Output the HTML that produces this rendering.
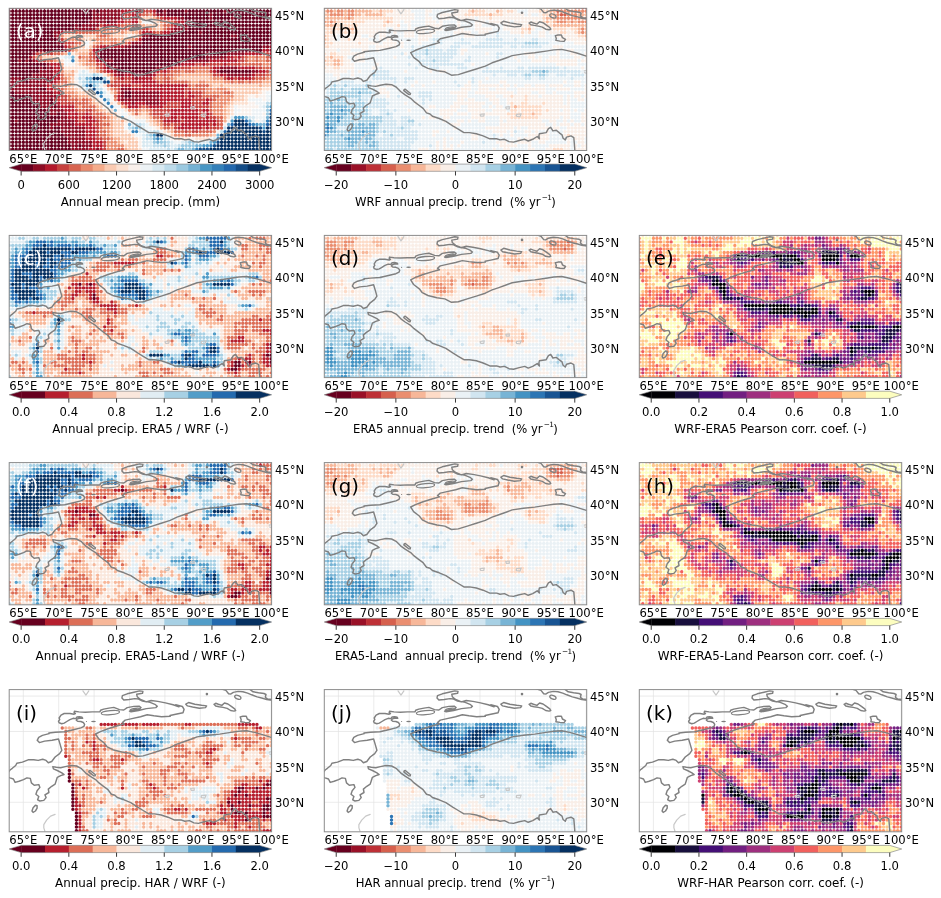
<!DOCTYPE html>
<html><head><meta charset="utf-8"><title>Precipitation comparison</title>
<style>html,body{margin:0;padding:0;background:#fff}svg{display:block;will-change:transform}text{font-family:"DejaVu Sans","Liberation Sans",sans-serif;font-size:11.6px;fill:#000}.pl{font-size:19.8px}.cl{font-size:11.9px}.cm{font-size:11.6px}.sup{font-size:7.3px;letter-spacing:-0.6px}.d{fill:none;stroke-linecap:round;stroke-dasharray:.02 .98;stroke-dashoffset:.01;stroke-width:0.9605}</style></head><body>
<svg width="941" height="898" viewBox="0 0 941 898">
<defs>
<clipPath id="cp"><rect x="0" y="0" width="262.4" height="142.2"/></clipPath>
<g id="ol" fill="none" stroke-linejoin="round" stroke-linecap="round"><path d="M45.9 124.8L41.4 126.5L37.4 130.5L34.6 135.0L34.6 138.3L35.7 141.7M73.7 1.3L76.7 5.5L79.6 1.3M155.8 106.1L160.0 105.5L159.4 107.9L156.4 107.9L155.8 106.1M181.4 98.9L185.0 98.4L185.0 100.7L182.0 100.7L181.4 98.9M192.1 106.1L196.9 105.5L195.7 108.5L192.1 107.9L192.1 106.1M260.0 62.6L262.4 62.0L262.4 65.0L260.3 64.4" stroke="#c8c8c8" stroke-width="1.2"/><path d="M-0.9 82.6L-0.3 82.1L0.8 80.4L3.1 78.7L6.5 75.9L7.6 73.6L13.2 72.5L18.9 70.2L24.5 70.2L29.0 70.8L33.5 69.7L36.9 70.8L39.1 73.1L42.5 71.9L45.9 67.4L50.4 64.0L52.6 60.7L51.0 55.0L49.3 49.4L42.9 50.7L35.4 51.5L30.2 53.0L28.0 50.7L29.5 47.8L33.2 45.8L39.9 44.0L39.7 43.4L46.1 42.7L55.6 42.1L65.2 39.9L71.6 38.3L74.8 36.7L75.4 34.8L74.1 32.9L71.6 31.9L68.4 31.6L67.1 30.6L68.1 29.3L70.3 28.7L73.5 28.7L72.9 27.7L70.3 27.1L67.8 27.4L66.5 29.0L63.9 28.7L60.7 30.0L57.6 31.9L55.0 33.5L52.5 34.1L49.9 33.2L49.3 31.6L50.5 30.0L49.9 28.4L51.8 25.5L55.0 23.9L60.7 23.9L64.9 24.6L66.2 23.9L64.9 23.0L65.2 21.7L69.7 22.3L76.1 22.6L83.1 22.3L90.7 22.3L91.4 20.7L94.5 19.5L99.7 18.5L104.6 17.8L110.3 20.0L114.6 20.4L118.0 18.0L124.7 16.8L129.9 16.6L131.8 18.0L130.4 19.5L125.6 20.2L120.3 21.6L121.8 22.2L129.4 20.9L137.1 19.0L146.6 18.0L148.1 16.6L145.7 14.7L140.9 12.8L136.1 11.8L131.3 9.9L128.0 7.1L127.5 4.7L133.3 3.7L133.7 1.8L130.4 1.3L124.7 2.7L118.0 4.2L113.2 6.1L112.7 8.5L114.6 10.4L119.9 9.9L125.6 9.0L129.4 9.4L133.3 11.4L137.1 12.3L141.9 10.9L148.6 11.8L156.2 13.3L163.9 15.2L169.7 17.1L166.5 15.2L173.2 16.9L174.9 19.7L173.8 23.1L166.5 24.7L160.8 25.9L161.0 26.7L152.4 27.1L144.7 26.2L138.0 25.2L131.3 27.1L122.7 29.0L116.0 30.5L113.2 32.9L115.1 34.3L108.4 36.2L98.8 39.1L91.2 42.0L86.4 44.4L89.3 49.1L95.0 53.4L98.0 57.3L103.6 60.1L112.6 62.4L120.5 63.5L127.2 66.9L134.0 66.3L143.0 63.5L152.0 60.7L161.0 57.8L167.8 54.5L174.6 52.2L182.4 49.4L187.9 47.3L199.1 45.6L210.4 44.5L221.7 42.8L229.5 41.6L237.4 41.1L245.3 42.8L253.2 45.0L262.0 47.8L265.6 49.0M-0.9 87.7L0.8 88.3L4.2 89.4L5.9 92.8L9.8 91.6L14.3 90.0L17.7 88.3L21.1 88.8L22.2 93.3L25.0 95.6L29.6 95.0L30.7 97.8L27.9 101.2L26.7 104.6L29.6 106.9L28.4 110.2L30.7 111.4L34.6 110.8L36.9 108.0L35.7 105.2L39.7 102.9L39.1 99.5L42.5 96.7L45.9 94.5L47.0 91.1L48.1 87.7L51.5 86.0L54.9 84.9L52.6 83.2L48.1 80.9L44.2 79.3L43.6 77.0L47.0 77.6L51.5 78.1L56.0 77.0L61.7 75.9L67.3 76.4L71.8 78.7L76.3 83.2L80.8 86.6L86.4 90.0L89.8 93.3L94.3 96.7L98.8 100.1L102.2 104.6L105.7 105.7L108.1 107.9L114.9 110.2L121.6 113.0L128.4 117.5L134.0 120.9L139.6 124.3L145.3 124.3L152.0 125.4L158.8 127.6L165.5 130.5L172.3 130.5L175.7 131.6L180.2 131.0L184.7 133.3L189.2 133.8L194.9 132.2L200.5 131.0L203.9 132.7L208.4 131.0L212.9 128.2L215.1 130.5L214.6 127.6L215.1 125.4L221.9 124.3L224.1 120.3L226.4 119.0L228.6 122.6L232.0 122.0L235.4 124.8L237.7 126.5L238.8 129.9L241.0 131.6L242.2 128.8L246.7 127.6L249.5 129.3L250.0 135.0L250.6 142.9M176.6 14.6L179.4 12.9L185.6 14.6L192.4 15.7L197.4 16.3L196.3 18.0L190.1 18.6L183.4 17.4L178.3 16.3ZM204.8 14.7L206.5 13.7L209.2 14.7L212.6 15.8L215.3 13.4L218.7 14.4L222.1 16.8L225.5 19.2L226.5 20.9L224.8 21.5L221.4 20.9L218.0 18.8L213.9 17.8L209.9 17.1L206.5 16.4ZM231.0 27.3L233.7 26.7L237.1 26.7L238.1 29.4L241.2 31.1L239.8 33.1L235.7 32.8L231.6 32.1L232.0 30.1ZM22.8 121.4L23.9 118.1L26.2 115.6L27.9 116.0L27.9 118.6L26.2 121.4L23.9 122.8ZM211.9 -0.9L216.7 0.8L219.4 4.2L221.4 4.5L224.1 2.8L228.9 1.8L233.7 2.2L238.4 3.5L242.5 5.2L248.0 7.3L253.4 8.6L257.5 10.0L262.9 10.7M239.8 -0.9L243.9 2.2L249.3 3.2L254.8 3.9L256.8 4.9L256.1 7.6L258.2 9.3L262.9 9.8M79.9 81.3L81.0 80.9L86.2 85.2L85.8 86.3L84.4 86.1L79.5 82.3L79.9 81.3" stroke="#808080" stroke-width="1.45"/><ellipse cx="101.2" cy="23.1" rx="9.1" ry="2.0" transform="rotate(-5 101.2 23.1)" stroke="#808080" stroke-width="1.3"/><ellipse cx="228.6" cy="7.6" rx="3.3" ry="1.8" transform="rotate(22 228.6 7.6)" stroke="#808080" stroke-width="1.3"/><ellipse cx="125.6" cy="19.7" rx="4.5" ry="0.8" transform="rotate(-10 125.6 19.7)" stroke="#808080" stroke-width="1.3"/><ellipse cx="84.3" cy="31.9" rx="2.4" ry="0.7" fill="#7d7d7d"/><circle cx="197.7" cy="4.5" r="1.3" fill="#7d7d7d"/><circle cx="77.3" cy="31.9" r="0.6" fill="#7d7d7d"/></g>
</defs>
<rect width="941" height="898" fill="#fff"/>
<g transform="translate(9.2,8.3)">
<path d="M14.10 0V142.2M49.50 0V142.2M84.90 0V142.2M120.30 0V142.2M155.70 0V142.2M191.10 0V142.2M226.50 0V142.2M261.90 0V142.2M0 112.68H262.4M0 77.28H262.4M0 41.88H262.4M0 6.48H262.4" stroke="#e2e2e2" stroke-width="0.7" fill="none"/>
<g clip-path="url(#cp)">
<g class="d" transform="translate(-0.06,141.00) scale(3.540,-3.540)">
<path stroke="#67001f" d="M2 1h.1M7 1h1M2 2h1M7 2h1M1 3h.1M3 3h.1M8 3h.1M4 6h.1M4 7h.1M6 11h.1M5 12h1M5 13h1M5 14h.1M4 21h.1M3 22h2M63 22h.1M66 22h.1M4 23h.1M43 24h.1M42 25h.1M43 26h1M43 27h1M5 28h.1M13 28h1M29 28h1M35 28h1M38 28h1M43 28h.1M67 28h1M38 29h1M53 29h1M66 29h1M53 30h1M3 31h.1M52 31h.1M72 31h1M52 32h.1M59 32h1M6 33h.1M57 33h.1M55 34h1M55 35h1M17 36h1M60 36h.1M70 36h.1M16 37h2M69 37h.1M4 38h.1M9 38h.1M11 38h.1M17 38h1M9 39h.1M11 39h.1M18 39h.1M18 40h1M47 40h1M67 40h.1M72 40h.1"/>
<path stroke="#67001f" d="M0 0h17M0 1h1M3 1h3M9 1h8M20 1h.1M0 2h1M4 2h2M9 2h7M0 3h.1M2 3h.1M4 3h3M9 3h7M0 4h15M0 5h14M0 6h3M5 6h6M13 6h1M0 7h3M5 7h6M0 8h1M3 8h10M0 9h14M0 10h11M14 10h.1M0 11h5M7 11h3M0 12h4M7 12h1M13 12h.1M0 13h4M7 13h.1M12 13h.1M0 14h4M6 14h.1M12 14h.1M0 15h6M33 15h1M0 16h1M33 16h1M0 17h.1M9 17h1M0 18h.1M5 19h.1M0 20h.1M4 20h1M0 21h3M5 21h1M36 21h.1M0 22h2M6 22h2M31 22h9M60 22h2M64 22h1M67 22h1M0 23h3M5 23h3M10 23h.1M31 23h10M0 24h10M28 24h14M44 24h3M0 25h2M4 25h.1M6 25h.1M30 25h11M43 25h4M0 26h5M26 26h16M45 26h10M0 27h6M26 27h16M45 27h10M57 27h4M0 28h4M6 28h2M10 28h2M15 28h.1M26 28h2M31 28h3M37 28h.1M40 28h2M44 28h22M69 28h2M0 29h15M35 29h2M40 29h10M52 29h.1M55 29h10M68 29h3M0 30h13M38 30h14M55 30h19M0 31h2M4 31h9M38 31h13M53 31h18M74 31h.1M0 32h12M40 32h11M53 32h5M61 32h1M65 32h9M0 33h5M7 33h5M48 33h5M55 33h1M58 33h16M0 34h18M51 34h3M57 34h17M0 35h18M20 35h.1M51 35h3M57 35h17M0 36h16M19 36h3M28 36h.1M52 36h7M61 36h8M71 36h3M0 37h15M19 37h4M50 37h6M58 37h4M64 37h4M70 37h4M0 38h3M5 38h3M10 38h.1M12 38h4M19 38h4M45 38h11M58 38h16M0 39h8M10 39h.1M12 39h5M19 39h4M25 39h.1M42 39h1M45 39h4M51 39h9M62 39h12M0 40h17M20 40h2M24 40h1M41 40h5M49 40h17M68 40h3M73 40h1"/>
<path stroke="#8d0c25" d="M18 0h4M25 0h.1M18 1h1M21 1h2M17 2h6M17 3h4M16 4h5M15 5h6M12 6h.1M15 6h6M12 7h6M2 8h.1M14 8h4M15 9h1M12 10h1M15 10h1M11 11h4M9 12h3M14 12h.1M8 13h3M13 13h.1M35 13h.1M39 13h3M7 14h4M32 14h10M7 15h6M32 15h.1M35 15h7M2 16h10M32 16h.1M35 16h7M1 17h7M32 17h2M1 18h9M0 19h4M6 19h6M1 20h2M6 20h6M36 20h.1M7 21h5M31 21h1M35 21h.1M37 21h3M62 21h6M9 22h3M30 22h.1M41 22h.1M59 22h.1M69 22h1M9 23h.1M11 23h1M28 23h2M42 23h2M60 23h4M11 24h.1M48 24h.1M3 25h.1M5 25h.1M7 25h.1M26 25h3M48 25h8M6 26h.1M25 26h.1M56 26h5M7 27h.1M56 27h.1M62 27h4M9 28h.1M16 28h.1M25 28h.1M74 28h.1M33 29h1M51 29h.1M72 29h2M14 30h1M35 30h2M14 31h.1M13 32h.1M38 32h1M63 32h1M13 33h1M46 33h1M54 33h.1M19 34h5M47 34h3M19 35h.1M21 35h4M48 35h2M23 36h4M29 36h1M50 36h1M24 37h7M48 37h1M57 37h.1M63 37h.1M24 38h7M42 38h2M57 38h.1M24 39h.1M26 39h5M36 39h.1M44 39h.1M50 39h.1M61 39h.1M23 40h.1M26 40h10M40 40h.1"/>
<path stroke="#b3192c" d="M23 0h1M26 0h.1M24 1h2M24 2h2M22 3h2M22 4h2M22 5h2M22 6h2M48 6h6M56 6h.1M19 7h4M49 7h7M58 7h.1M19 8h.1M22 8h2M44 8h4M50 8h8M17 9h2M21 9h2M46 9h1M49 9h4M56 9h.1M17 10h2M22 10h.1M46 10h7M56 10h.1M16 11h2M46 11h7M55 11h1M15 12h3M34 12h2M40 12h3M49 12h3M14 13h.1M33 13h1M36 13h2M43 13h1M49 13h2M55 13h1M13 14h.1M31 14h.1M43 14h8M56 14h.1M14 15h.1M31 15h.1M43 15h6M51 15h1M13 16h1M43 16h6M51 16h.1M11 17h1M35 17h14M11 18h.1M32 18h2M38 18h12M13 19h.1M35 19h6M13 20h1M32 20h.1M35 20h.1M37 20h3M62 20h1M65 20h3M13 21h1M30 21h.1M33 21h1M41 21h.1M60 21h1M69 21h.1M13 22h1M28 22h1M42 22h.1M44 22h.1M58 22h.1M71 22h1M13 23h1M27 23h.1M45 23h1M58 23h1M65 23h4M12 24h2M27 24h.1M49 24h3M55 24h.1M61 24h.1M8 25h.1M25 25h.1M57 25h7M62 26h1M65 26h.1M74 26h.1M25 27h.1M67 27h4M74 27h.1M24 28h.1M72 28h1M16 29h.1M26 29h6M37 31h.1M14 32h.1M15 33h.1M38 33h2M44 33h1M46 34h.1M27 35h3M47 35h.1M31 36h1M35 36h1M48 36h1M32 37h.1M35 37h1M44 37h3M32 38h.1M35 38h1M32 39h3M37 39h.1M41 39h.1M37 40h2"/>
<path stroke="#c6413e" d="M27 0h.1M27 1h.1M27 2h.1M25 3h1M25 4h.1M25 5h.1M50 5h.1M52 5h1M25 6h.1M47 6h.1M55 6h.1M57 6h2M24 7h1M44 7h1M47 7h1M57 7h.1M59 7h.1M20 8h1M25 8h.1M49 8h.1M59 8h.1M20 9h.1M24 9h.1M43 9h2M48 9h.1M54 9h1M57 9h1M20 10h1M23 10h.1M41 10h4M54 10h1M57 10h.1M19 11h.1M22 11h1M41 11h4M54 11h.1M37 12h.1M39 12h.1M44 12h4M53 12h3M15 13h3M32 13h.1M45 13h3M52 13h2M14 14h2M52 14h3M57 14h.1M15 15h1M50 15h.1M53 15h1M15 16h.1M31 16h.1M50 16h.1M52 16h2M13 17h1M31 17h.1M50 17h1M12 18h1M29 18h2M35 18h2M14 19h.1M30 19h4M42 19h.1M44 19h1M31 20h.1M33 20h1M61 20h.1M64 20h.1M69 20h.1M44 21h.1M58 21h1M70 21h2M27 22h.1M43 22h.1M45 22h.1M57 22h.1M73 22h1M26 23h.1M47 23h4M57 23h.1M70 23h1M74 23h.1M25 24h1M53 24h1M56 24h4M62 24h3M9 25h1M65 25h1M7 26h.1M24 26h.1M64 26h.1M66 26h.1M8 27h1M11 27h1M24 27h.1M72 27h1M17 28h.1M17 29h.1M25 29h.1M16 30h2M34 30h.1M15 31h.1M41 33h.1M43 33h.1M25 34h.1M38 34h1M45 34h.1M26 35h.1M31 35h.1M35 35h1M46 35h.1M33 36h1M47 36h.1M33 37h1M43 37h.1M33 38h1M37 38h.1M41 38h.1M38 39h2"/>
<path stroke="#d86551" d="M31 0h1M27 3h1M26 4h1M50 4h1M26 5h1M47 5h2M51 5h.1M54 5h3M26 6h.1M44 6h1M60 6h.1M26 7h2M46 7h.1M60 7h.1M26 8h.1M43 8h.1M60 8h.1M25 9h2M41 9h1M59 9h1M24 10h2M36 10h.1M40 10h.1M20 11h1M24 11h.1M36 11h.1M40 11h.1M57 11h.1M19 12h.1M21 12h3M33 12h.1M38 12h.1M57 12h.1M19 13h3M57 13h.1M17 14h2M21 14h1M58 14h.1M17 15h.1M30 15h.1M55 15h4M55 16h.1M61 16h1M15 17h.1M30 17h.1M52 17h3M14 18h.1M16 18h.1M28 18h.1M51 18h.1M53 18h3M15 19h1M29 19h.1M43 19h.1M46 19h4M63 19h.1M65 19h1M68 19h.1M15 20h.1M30 20h.1M41 20h.1M44 20h1M70 20h2M15 21h.1M29 21h.1M42 21h1M45 21h1M73 21h1M26 22h.1M46 22h2M50 22h2M25 23h.1M52 23h4M72 23h1M66 24h5M74 24h.1M11 25h1M23 25h1M67 25h.1M70 25h.1M73 25h1M20 26h.1M23 26h.1M67 26h.1M70 26h.1M73 26h.1M10 27h.1M13 27h1M23 27h.1M18 29h.1M24 29h.1M19 30h1M26 30h.1M29 30h1M33 30h.1M36 31h.1M26 32h1M37 32h.1M16 33h9M37 33h.1M42 33h.1M27 34h10M44 34h.1M32 35h2M44 35h1M44 36h2M37 37h.1M42 37h.1M38 38h1"/>
<path stroke="#e98b6e" d="M28 0h2M28 1h4M28 2h2M29 3h.1M28 4h.1M47 4h2M52 4h4M28 5h.1M58 5h.1M27 6h1M46 6h.1M43 7h.1M27 8h1M42 8h.1M28 9h.1M27 10h.1M58 10h2M25 11h.1M34 11h1M37 11h.1M39 11h.1M58 11h2M20 12h.1M58 12h2M23 13h.1M58 13h3M20 14h.1M23 14h.1M30 14h.1M59 14h3M18 15h1M60 15h3M16 16h2M30 16h.1M56 16h4M63 16h.1M16 17h.1M29 17h.1M56 17h1M59 17h2M15 18h.1M52 18h.1M51 19h.1M54 19h1M61 19h1M64 19h.1M67 19h.1M69 19h2M16 20h.1M42 20h1M46 20h.1M58 20h2M73 20h1M47 21h1M57 21h.1M15 22h.1M49 22h.1M53 22h3M15 23h.1M22 24h2M72 24h1M13 25h.1M22 25h.1M68 25h1M71 25h1M8 26h1M21 26h1M68 26h1M71 26h1M15 27h.1M18 28h.1M23 28h.1M19 29h.1M25 30h.1M27 30h1M31 30h1M16 31h4M25 31h5M35 31h.1M15 32h.1M25 32h.1M28 32h.1M26 33h3M32 33h.1M26 34h.1M40 34h.1M37 35h.1M43 36h.1M40 38h.1"/>
<path stroke="#f5ac8b" d="M33 0h.1M31 2h.1M30 3h1M29 4h.1M57 4h.1M29 5h.1M46 5h.1M29 6h.1M43 6h.1M29 7h.1M42 7h.1M29 8h.1M32 8h.1M41 8h.1M61 8h.1M29 9h.1M40 9h.1M61 9h.1M28 10h1M35 10h.1M37 10h.1M39 10h.1M61 10h.1M26 11h.1M38 11h.1M61 11h.1M25 12h.1M32 12h.1M61 12h.1M24 13h.1M31 13h.1M62 13h.1M63 14h.1M20 15h2M19 16h.1M17 17h1M58 17h.1M62 17h.1M17 18h.1M57 18h.1M60 18h.1M71 18h.1M17 19h.1M52 19h1M56 19h4M72 19h2M17 20h.1M29 20h.1M47 20h.1M57 20h.1M16 21h2M28 21h.1M49 21h7M18 22h.1M25 22h.1M23 23h1M15 24h.1M21 24h.1M14 25h.1M20 25h1M16 27h.1M20 27h2M19 28h.1M20 29h.1M24 30h.1M24 31h.1M31 31h3M29 32h.1M30 33h1M33 33h.1M35 33h1M41 34h.1M43 34h.1M38 35h.1M43 35h.1M37 36h.1M41 37h.1"/>
<path stroke="#facab1" d="M34 0h2M33 1h3M32 2h.1M34 2h2M32 3h3M48 3h.1M30 4h4M46 4h.1M58 4h.1M30 5h2M45 5h.1M30 6h2M30 7h2M41 7h.1M30 8h1M40 8h.1M30 9h.1M39 9h.1M30 10h.1M38 10h.1M62 10h.1M27 11h.1M62 11h.1M26 12h.1M62 12h.1M25 13h.1M63 13h.1M24 14h.1M64 14h2M23 15h.1M64 15h2M20 16h2M29 16h.1M64 16h6M19 17h.1M28 17h.1M63 17h8M18 18h.1M58 18h1M61 18h9M72 18h2M18 19h.1M18 20h.1M48 20h8M16 22h1M24 22h.1M22 23h.1M20 24h.1M10 26h2M19 27h.1M20 28h2M21 29h.1M23 29h.1M21 30h.1M21 31h.1M23 31h.1M16 32h8M30 32h2M36 32h.1M34 33h.1M42 34h.1M39 35h3M42 36h.1M38 37h2"/>
<path stroke="#fce0d0" d="M37 0h.1M33 2h.1M36 3h.1M47 3h.1M49 3h1M53 3h3M35 4h.1M33 5h.1M44 5h.1M42 6h.1M40 7h.1M33 8h.1M39 8h.1M31 9h.1M36 9h2M62 9h.1M34 10h.1M63 10h.1M28 11h1M33 11h.1M63 11h.1M63 12h.1M26 13h.1M29 13h.1M64 13h3M25 14h.1M67 14h.1M24 15h.1M67 15h.1M70 15h.1M71 16h.1M20 17h.1M72 17h2M27 18h.1M27 21h.1M19 22h.1M23 22h.1M16 23h5M19 24h.1M15 25h.1M19 25h.1M13 26h.1M19 26h.1M18 27h.1M23 30h.1M22 31h.1M33 32h.1M35 32h.1M41 36h.1"/>
<path stroke="#f9f0eb" d="M37 1h.1M37 2h.1M37 3h.1M46 3h.1M51 3h1M45 4h.1M34 5h.1M59 5h.1M41 6h.1M33 7h.1M61 7h.1M62 8h.1M70 8h.1M33 9h.1M35 9h.1M31 10h.1M65 10h3M72 10h.1M31 11h.1M66 11h2M27 12h.1M65 12h5M30 13h.1M68 13h1M26 14h.1M29 14h.1M72 14h.1M29 15h.1M68 15h1M71 15h1M23 16h.1M28 16h.1M72 16h.1M19 18h.1M19 19h.1M28 20h.1M19 21h.1M17 24h1M14 26h.1M22 29h.1"/>
<path stroke="#edf2f5" d="M38 0h1M47 2h1M57 3h.1M36 4h1M43 5h.1M33 6h.1M39 6h1M39 7h.1M34 8h4M71 8h.1M34 9h.1M70 9h2M32 10h1M64 10h.1M69 10h2M32 11h.1M64 11h1M69 11h3M28 12h.1M30 12h1M64 12h.1M71 12h.1M27 13h.1M70 13h2M68 14h3M73 14h.1M25 15h.1M27 15h1M73 15h.1M24 16h.1M73 16h1M21 17h.1M27 17h.1M20 18h.1M26 18h.1M19 20h.1M20 22h.1M22 22h.1M16 24h.1M16 25h1M15 26h.1M22 30h.1M34 32h.1M38 36h2"/>
<path stroke="#d8e9f1" d="M40 0h4M46 0h.1M38 1h2M46 1h1M38 2h2M46 2h.1M49 2h.1M54 2h2M38 3h.1M45 3h.1M58 3h.1M38 4h.1M37 5h3M38 6h.1M35 7h.1M38 7h.1M69 8h.1M72 8h.1M63 9h.1M68 9h1M72 12h.1M74 14h.1M74 15h.1M27 16h.1M20 19h.1M21 20h.1M20 21h3M26 21h.1M21 22h.1M16 26h1"/>
<path stroke="#bddbea" d="M45 0h.1M47 0h.1M41 1h2M45 1h.1M48 1h.1M45 2h.1M50 2h.1M53 2h.1M39 3h1M44 3h.1M39 4h.1M44 4h.1M41 5h1M60 5h.1M34 6h.1M61 6h.1M36 7h1M73 13h.1M28 14h.1M22 17h1M25 17h1M21 18h.1M25 18h.1M21 19h.1M20 20h.1M25 21h.1"/>
<path stroke="#9bc9e0" d="M50 0h1M44 1h.1M49 1h3M41 2h.1M43 2h1M51 2h1M40 4h.1M35 6h.1M37 6h.1M67 9h.1M73 10h.1M73 11h.1M73 12h.1M74 13h.1M22 19h.1M25 19h1M27 20h.1M24 21h.1"/>
<path stroke="#75b2d4" d="M48 0h1M52 0h.1M53 1h1M42 2h.1M57 2h.1M41 3h.1M43 3h.1M59 4h.1M36 6h.1M34 7h.1M62 7h.1M71 7h1M68 8h.1M32 9h.1M73 9h.1M30 11h.1M24 18h.1M23 19h1M22 20h1M18 26h.1M17 27h.1"/>
<path stroke="#4997c5" d="M55 1h1M58 2h.1M41 4h.1M72 6h.1M70 7h.1M63 8h.1M64 9h2M74 12h.1M26 16h.1"/>
<path stroke="#3480b9" d="M53 0h.1M57 1h.1M42 3h.1M59 3h.1M35 5h1M69 7h.1M73 8h.1M29 12h.1M28 13h.1M27 14h.1M26 15h.1M22 18h.1M18 25h.1"/>
<path stroke="#2267ac" d="M61 5h.1M63 7h.1M68 7h.1M73 7h.1M67 8h.1M74 11h.1"/>
<path stroke="#134c87" d="M54 0h2M58 1h.1M59 2h.1M72 5h.1M71 6h.1M74 10h.1M25 16h.1M24 17h.1M27 19h1"/>
<path stroke="#053061" d="M57 0h.1M59 1h.1M71 5h.1M73 6h.1M67 7h.1M74 9h.1"/>
<path stroke="#053061" d="M58 0h16M60 1h14M60 2h14M60 3h14M42 4h1M60 4h14M62 5h8M73 5h1M62 6h8M74 6h.1M64 7h2M74 7h.1M64 8h2M74 8h.1M23 18h.1M24 20h2"/>
</g>
<use href="#ol"/>
</g>
<rect x="0" y="0" width="262.4" height="142.2" fill="none" stroke="#8c8c8c" stroke-width="1"/>
<text class="pl" x="6.8" y="30.0" fill="#fff" style="fill:#fff">(a)</text>
<text x="265.7" y="117.7">30°N</text>
<text x="265.7" y="82.3">35°N</text>
<text x="265.7" y="46.9">40°N</text>
<text x="265.7" y="11.5">45°N</text>
<text x="14.1" y="154.6" text-anchor="middle">65°E</text>
<text x="49.5" y="154.6" text-anchor="middle">70°E</text>
<text x="84.9" y="154.6" text-anchor="middle">75°E</text>
<text x="120.3" y="154.6" text-anchor="middle">80°E</text>
<text x="155.7" y="154.6" text-anchor="middle">85°E</text>
<text x="191.1" y="154.6" text-anchor="middle">90°E</text>
<text x="226.5" y="154.6" text-anchor="middle">95°E</text>
<text x="261.9" y="154.6" text-anchor="middle">100°E</text>
<g>
<path d="M0 159.40L12.23 155.80V163.00Z" fill="#67001f"/>
<path d="M262.40 159.40L250.17 155.80V163.00Z" fill="#053061"/>
<rect x="11.93" y="155.80" width="12.23" height="7.20" fill="#67001f"/>
<rect x="23.85" y="155.80" width="12.23" height="7.20" fill="#8d0c25"/>
<rect x="35.78" y="155.80" width="12.23" height="7.20" fill="#b3192c"/>
<rect x="47.71" y="155.80" width="12.23" height="7.20" fill="#c6413e"/>
<rect x="59.64" y="155.80" width="12.23" height="7.20" fill="#d86551"/>
<rect x="71.56" y="155.80" width="12.23" height="7.20" fill="#e98b6e"/>
<rect x="83.49" y="155.80" width="12.23" height="7.20" fill="#f5ac8b"/>
<rect x="95.42" y="155.80" width="12.23" height="7.20" fill="#facab1"/>
<rect x="107.35" y="155.80" width="12.23" height="7.20" fill="#fce0d0"/>
<rect x="119.27" y="155.80" width="12.23" height="7.20" fill="#f9f0eb"/>
<rect x="131.20" y="155.80" width="12.23" height="7.20" fill="#edf2f5"/>
<rect x="143.13" y="155.80" width="12.23" height="7.20" fill="#d8e9f1"/>
<rect x="155.05" y="155.80" width="12.23" height="7.20" fill="#bddbea"/>
<rect x="166.98" y="155.80" width="12.23" height="7.20" fill="#9bc9e0"/>
<rect x="178.91" y="155.80" width="12.23" height="7.20" fill="#75b2d4"/>
<rect x="190.84" y="155.80" width="12.23" height="7.20" fill="#4997c5"/>
<rect x="202.76" y="155.80" width="12.23" height="7.20" fill="#3480b9"/>
<rect x="214.69" y="155.80" width="12.23" height="7.20" fill="#2267ac"/>
<rect x="226.62" y="155.80" width="12.23" height="7.20" fill="#134c87"/>
<rect x="238.55" y="155.80" width="12.23" height="7.20" fill="#053061"/>
<path d="M0 159.40L11.93 155.80H250.47L262.40 159.40L250.47 163.00H11.93Z" fill="none" stroke="#777" stroke-width="0.6"/>
<text x="11.93" y="180.60" text-anchor="middle">0</text>
<text x="59.64" y="180.60" text-anchor="middle">600</text>
<text x="107.35" y="180.60" text-anchor="middle">1200</text>
<text x="155.05" y="180.60" text-anchor="middle">1800</text>
<text x="202.76" y="180.60" text-anchor="middle">2400</text>
<text x="250.47" y="180.60" text-anchor="middle">3000</text>
<path d="M11.93 163.00v4.2M59.64 163.00v4.2M107.35 163.00v4.2M155.05 163.00v4.2M202.76 163.00v4.2M250.47 163.00v4.2" stroke="#222" stroke-width="0.9" fill="none"/>
<text class="cl" x="131.2" y="197.8" text-anchor="middle" xml:space="preserve">Annual mean precip. (mm)</text>
</g>
</g>
<g transform="translate(324.3,8.3)">
<path d="M14.10 0V142.2M49.50 0V142.2M84.90 0V142.2M120.30 0V142.2M155.70 0V142.2M191.10 0V142.2M226.50 0V142.2M261.90 0V142.2M0 112.68H262.4M0 77.28H262.4M0 41.88H262.4M0 6.48H262.4" stroke="#e2e2e2" stroke-width="0.7" fill="none"/>
<g clip-path="url(#cp)">
<g class="d" transform="translate(-0.06,141.00) scale(3.540,-3.540)">
<path stroke="#be3036" d="M73 40h1"/>
<path stroke="#d6604d" d="M67 38h1M66 39h.1M71 40h1"/>
<path stroke="#ea8e70" d="M73 33h.1M73 34h.1M0 36h.1M2 36h.1M66 36h2M70 36h.1M72 36h2M7 37h.1M66 37h6M2 38h3M7 38h1M66 38h.1M69 38h2M1 39h1M4 39h1M7 39h1M67 39h7M0 40h8M66 40h2"/>
<path stroke="#f7b799" d="M59 10h.1M54 12h.1M3 24h1M0 25h.1M3 25h1M2 26h.1M0 30h.1M0 31h.1M0 32h.1M74 32h.1M72 33h.1M74 33h.1M5 34h.1M7 34h1M58 34h.1M72 34h.1M74 34h.1M0 35h3M65 35h9M1 36h.1M3 36h.1M18 36h.1M63 36h.1M65 36h.1M69 36h.1M71 36h.1M0 37h6M8 37h.1M63 37h2M73 37h1M0 38h1M6 38h.1M9 38h1M12 38h4M47 38h.1M64 38h1M72 38h2M0 39h.1M3 39h.1M6 39h.1M9 39h4M16 39h.1M42 39h.1M49 39h.1M64 39h1M9 40h2M16 40h.1M42 40h2M50 40h.1M64 40h1M69 40h1"/>
<path stroke="#fddbc7" d="M65 0h2M69 4h.1M53 9h7M52 10h6M60 10h1M53 11h1M56 11h5M63 11h.1M53 12h.1M55 12h6M53 13h.1M56 13h1M62 13h.1M57 14h.1M53 15h.1M57 15h.1M0 23h.1M3 23h1M0 24h2M5 24h.1M1 25h1M5 25h.1M0 26h1M3 26h2M0 27h.1M2 27h1M0 29h1M1 30h1M10 30h.1M1 31h.1M7 31h.1M74 31h.1M1 32h.1M72 32h1M0 33h2M5 33h4M56 33h.1M58 33h.1M67 33h1M71 33h.1M0 34h4M6 34h.1M9 34h.1M56 34h1M65 34h3M70 34h1M4 35h5M17 35h.1M21 35h.1M58 35h.1M63 35h1M4 36h7M17 36h.1M19 36h.1M62 36h.1M64 36h.1M9 37h10M47 37h.1M62 37h.1M11 38h.1M17 38h.1M40 38h6M48 38h2M62 38h1M14 39h1M17 39h2M41 39h.1M43 39h2M50 39h.1M52 39h1M61 39h2M12 40h3M17 40h2M41 40h.1M45 40h4M51 40h.1M61 40h2"/>
<path stroke="#f9eee7" d="M27 0h2M32 0h.1M34 0h2M48 0h.1M51 0h1M58 0h1M63 0h1M68 0h1M71 0h3M32 1h.1M34 1h.1M36 1h.1M38 1h.1M50 1h4M58 1h.1M64 1h5M71 1h.1M73 1h1M32 2h.1M34 2h.1M39 2h.1M49 2h2M53 2h.1M55 2h3M61 2h1M69 2h.1M72 2h1M34 3h.1M36 3h.1M42 3h1M55 3h.1M57 3h6M69 3h.1M71 3h2M31 4h.1M42 4h1M50 4h.1M53 4h.1M58 4h5M68 4h.1M70 4h4M31 5h1M35 5h.1M48 5h3M53 5h.1M57 5h1M60 5h.1M63 5h.1M68 5h6M37 6h.1M46 6h7M55 6h.1M58 6h5M65 6h1M69 6h5M36 7h2M50 7h12M65 7h.1M67 7h2M71 7h1M74 7h.1M34 8h.1M38 8h1M41 8h.1M44 8h1M50 8h.1M52 8h9M64 8h1M68 8h.1M70 8h.1M73 8h1M28 9h.1M30 9h1M34 9h1M42 9h3M50 9h2M61 9h5M68 9h1M73 9h1M33 10h3M38 10h2M42 10h9M62 10h7M73 10h1M24 11h.1M29 11h.1M33 11h4M41 11h4M48 11h3M55 11h.1M62 11h.1M64 11h2M68 11h1M71 11h.1M74 11h.1M30 12h1M36 12h2M41 12h3M47 12h.1M49 12h1M62 12h7M23 13h.1M26 13h.1M37 13h8M48 13h1M52 13h.1M54 13h1M58 13h3M63 13h4M69 13h.1M38 14h1M41 14h1M47 14h2M52 14h4M58 14h9M69 14h.1M72 14h1M18 15h.1M38 15h2M46 15h2M51 15h1M54 15h2M58 15h2M62 15h5M69 15h.1M71 15h1M74 15h.1M16 16h2M36 16h4M43 16h10M55 16h3M61 16h1M65 16h.1M71 16h3M16 17h1M39 17h2M44 17h2M49 17h2M55 17h7M66 17h3M74 17h.1M15 18h.1M18 18h1M25 18h.1M28 18h.1M40 18h1M44 18h5M51 18h1M54 18h.1M57 18h1M60 18h2M64 18h3M71 18h1M74 18h.1M26 19h.1M31 19h.1M41 19h.1M44 19h.1M50 19h1M68 19h.1M71 19h1M4 20h.1M46 20h.1M3 21h1M8 21h.1M0 22h6M8 22h.1M10 22h.1M23 22h.1M30 22h.1M33 22h1M1 23h1M5 23h3M14 23h.1M73 23h.1M6 24h2M15 24h.1M42 24h.1M66 24h5M6 25h1M9 25h2M55 25h.1M59 25h2M63 25h8M73 25h1M6 26h.1M9 26h2M20 26h.1M54 26h.1M58 26h1M61 26h.1M64 26h2M71 26h1M74 26h.1M1 27h.1M4 27h7M23 27h.1M39 27h.1M46 27h.1M57 27h2M66 27h.1M70 27h1M74 27h.1M0 28h3M5 28h2M11 28h1M15 28h.1M39 28h1M66 28h.1M69 28h1M2 29h10M15 29h5M22 29h.1M65 29h2M3 30h6M11 30h4M17 30h3M22 30h.1M27 30h.1M71 30h3M2 31h1M5 31h1M8 31h4M16 31h.1M18 31h1M27 31h2M67 31h6M2 32h1M5 32h5M13 32h1M16 32h1M23 32h2M27 32h3M40 32h2M56 32h.1M61 32h1M66 32h5M3 33h1M10 33h7M20 33h.1M23 33h2M27 33h1M30 33h1M37 33h4M44 33h2M53 33h2M57 33h.1M61 33h1M64 33h2M69 33h1M10 34h7M20 34h1M24 34h.1M26 34h3M31 34h2M38 34h1M43 34h4M51 34h4M59 34h.1M62 34h2M69 34h.1M10 35h6M18 35h2M24 35h.1M29 35h4M38 35h.1M43 35h1M51 35h6M59 35h3M12 36h4M20 36h1M23 36h1M29 36h2M33 36h.1M38 36h.1M43 36h2M47 36h5M54 36h7M20 37h5M29 37h1M33 37h2M38 37h4M44 37h2M48 37h13M18 38h7M29 38h.1M33 38h6M51 38h5M58 38h.1M61 38h.1M20 39h4M29 39h1M37 39h3M46 39h2M51 39h.1M54 39h.1M58 39h2M20 40h5M29 40h1M34 40h.1M38 40h2M52 40h4M58 40h2"/>
<path stroke="#eaf1f5" d="M25 0h1M30 0h1M33 0h.1M37 0h10M49 0h1M53 0h4M60 0h2M70 0h.1M25 1h4M31 1h.1M33 1h.1M35 1h.1M37 1h.1M39 1h10M55 1h2M59 1h4M70 1h.1M72 1h.1M26 2h5M33 2h.1M35 2h3M40 2h4M46 2h2M52 2h.1M54 2h.1M59 2h1M63 2h5M70 2h1M74 2h.1M21 3h1M27 3h6M35 3h.1M37 3h4M44 3h3M49 3h5M56 3h.1M64 3h4M70 3h.1M74 3h.1M16 4h.1M27 4h3M32 4h9M44 4h3M49 4h.1M51 4h1M54 4h3M64 4h3M27 5h3M33 5h1M36 5h11M52 5h.1M55 5h1M59 5h.1M61 5h1M64 5h3M25 6h11M38 6h7M54 6h.1M56 6h1M64 6h.1M67 6h1M21 7h.1M26 7h.1M28 7h7M39 7h10M63 7h1M66 7h.1M70 7h.1M73 7h.1M21 8h.1M26 8h7M35 8h2M40 8h.1M42 8h1M46 8h3M51 8h.1M62 8h1M66 8h1M69 8h.1M71 8h1M20 9h1M25 9h2M29 9h.1M32 9h1M36 9h5M46 9h3M67 9h.1M70 9h2M14 10h1M20 10h12M37 10h.1M41 10h.1M70 10h2M14 11h1M19 11h.1M21 11h2M25 11h3M30 11h2M38 11h2M46 11h1M52 11h.1M67 11h.1M70 11h.1M72 11h1M18 12h11M32 12h3M39 12h1M45 12h1M48 12h.1M51 12h1M70 12h4M19 13h3M24 13h1M27 13h.1M29 13h7M46 13h1M50 13h1M68 13h.1M70 13h4M13 14h.1M18 14h9M29 14h.1M31 14h6M40 14h.1M43 14h3M50 14h1M68 14h.1M70 14h1M74 14h.1M15 15h2M19 15h1M22 15h4M31 15h6M41 15h4M49 15h1M61 15h.1M68 15h.1M70 15h.1M73 15h.1M0 16h.1M15 16h.1M19 16h7M31 16h4M41 16h1M54 16h.1M59 16h1M63 16h1M66 16h4M0 17h.1M15 17h.1M18 17h20M42 17h1M47 17h1M52 17h2M63 17h2M70 17h3M0 18h.1M14 18h.1M16 18h1M20 18h4M26 18h1M29 18h8M39 18h.1M42 18h1M50 18h.1M53 18h.1M55 18h1M59 18h.1M63 18h.1M68 18h2M73 18h.1M0 19h1M4 19h.1M9 19h2M14 19h5M21 19h1M24 19h1M27 19h3M32 19h4M38 19h2M43 19h.1M45 19h4M52 19h15M69 19h1M73 19h1M0 20h3M5 20h8M21 20h1M26 20h15M43 20h2M47 20h9M59 20h1M63 20h6M71 20h3M0 21h2M5 21h2M9 21h4M19 21h28M49 21h2M55 21h.1M64 21h1M69 21h.1M74 21h.1M7 22h.1M9 22h.1M11 22h2M19 22h3M24 22h5M31 22h1M35 22h9M73 22h1M9 23h4M15 23h.1M17 23h8M27 23h2M33 23h4M41 23h4M47 23h2M51 23h3M57 23h.1M67 23h.1M69 23h3M74 23h.1M9 24h5M16 24h7M25 24h1M40 24h1M43 24h22M72 24h2M8 25h.1M12 25h14M36 25h3M42 25h12M56 25h2M62 25h.1M72 25h.1M7 26h1M12 26h7M21 26h2M25 26h.1M28 26h.1M37 26h3M42 26h6M50 26h3M55 26h2M60 26h.1M62 26h1M67 26h3M73 26h.1M12 27h9M24 27h.1M38 27h.1M40 27h5M47 27h1M51 27h5M60 27h5M67 27h2M72 27h1M4 28h.1M8 28h2M13 28h1M16 28h8M34 28h.1M38 28h.1M41 28h24M67 28h1M71 28h3M13 29h1M21 29h.1M23 29h1M26 29h1M32 29h3M39 29h2M51 29h1M55 29h.1M62 29h2M68 29h6M16 30h.1M21 30h.1M23 30h3M28 30h2M32 30h.1M34 30h2M42 30h1M64 30h6M4 31h.1M13 31h2M17 31h.1M20 31h6M30 31h.1M34 31h4M40 31h5M51 31h2M55 31h3M61 31h5M4 32h.1M11 32h1M15 32h.1M18 32h4M26 32h.1M31 32h4M37 32h2M43 32h5M50 32h5M57 32h3M63 32h2M18 33h1M21 33h1M26 33h.1M29 33h.1M32 33h4M42 33h1M47 33h1M50 33h2M59 33h1M63 33h.1M18 34h1M22 34h1M25 34h.1M30 34h.1M34 34h3M40 34h2M48 34h2M60 34h1M22 35h1M25 35h3M34 35h3M39 35h3M45 35h5M22 36h.1M25 36h3M32 36h.1M34 36h3M39 36h3M46 36h.1M53 36h.1M26 37h2M31 37h1M36 37h1M43 37h.1M26 38h2M30 38h2M57 38h.1M59 38h1M25 39h3M31 39h5M55 39h2M26 40h2M31 40h2M35 40h2M57 40h.1"/>
<path stroke="#d1e5f0" d="M3 0h.1M16 0h8M16 1h8M30 1h.1M16 2h9M45 2h.1M15 3h5M23 3h3M48 3h.1M15 4h.1M17 4h1M20 4h6M48 4h.1M16 5h.1M18 5h8M54 5h.1M4 6h2M16 6h5M23 6h1M16 7h4M22 7h3M27 7h.1M9 8h.1M17 8h3M22 8h1M17 9h2M22 9h2M13 10h.1M16 10h1M19 10h.1M13 11h.1M16 11h2M20 11h.1M13 12h4M8 13h.1M12 13h6M28 13h.1M7 14h2M11 14h1M14 14h3M28 14h.1M30 14h.1M0 15h1M11 15h3M21 15h.1M27 15h3M1 16h.1M14 16h.1M27 16h3M1 17h.1M4 17h.1M6 17h1M13 17h1M1 18h1M4 18h1M7 18h4M13 18h.1M38 18h.1M2 19h1M5 19h3M12 19h1M20 19h.1M23 19h.1M37 19h.1M42 19h.1M14 20h6M23 20h2M42 20h.1M57 20h1M61 20h1M70 20h.1M15 21h3M48 21h.1M52 21h2M56 21h.1M59 21h1M63 21h.1M66 21h2M70 21h3M14 22h4M45 22h13M64 22h8M16 23h.1M26 23h.1M30 23h2M38 23h2M46 23h.1M50 23h.1M55 23h1M58 23h8M68 23h.1M24 24h.1M27 24h12M27 25h3M32 25h3M40 25h1M24 26h.1M26 26h1M29 26h7M41 26h.1M49 26h.1M22 27h.1M25 27h3M30 27h7M49 27h1M25 28h3M30 28h3M35 28h2M25 29h.1M28 29h3M36 29h2M42 29h8M53 29h1M56 29h5M31 30h.1M33 30h.1M37 30h4M44 30h12M61 30h2M31 31h2M39 31h.1M46 31h4M54 31h.1M59 31h1M36 32h.1M49 32h.1M49 33h.1"/>
<path stroke="#a7d0e4" d="M0 0h2M4 0h11M0 1h6M9 1h3M15 1h.1M0 2h6M10 2h1M13 2h.1M15 2h.1M1 3h4M11 3h.1M14 3h.1M2 4h2M6 4h.1M19 4h.1M4 5h2M15 5h.1M17 5h.1M7 6h.1M15 6h.1M22 6h.1M4 7h3M9 7h.1M12 7h.1M15 7h.1M5 8h3M10 8h6M24 8h1M6 9h10M7 10h5M18 10h.1M1 11h.1M8 11h4M1 12h.1M7 12h5M1 13h.1M3 13h4M9 13h2M0 14h3M5 14h1M10 14h.1M2 15h8M2 16h7M11 16h2M2 17h1M5 17h.1M8 17h4M3 18h.1M6 18h.1M12 18h.1M14 21h.1M57 21h1M61 21h1M59 22h2M63 22h.1M31 25h.1M29 27h.1M29 28h.1M57 30h3"/>
<path stroke="#78b4d5" d="M7 1h1M13 1h1M7 2h2M12 2h.1M14 2h.1M0 3h.1M6 3h.1M8 3h2M12 3h1M1 4h.1M5 4h.1M7 4h7M2 5h1M7 5h3M12 5h2M3 6h.1M8 6h6M2 7h1M8 7h.1M10 7h1M13 7h1M0 8h3M0 9h.1M2 9h1M5 9h.1M0 10h1M3 10h3M0 11h.1M2 11h2M6 11h1M0 12h.1M2 12h4M0 13h.1M2 13h.1M4 14h.1M10 16h.1M62 22h.1"/>
<path stroke="#4393c3" d="M7 3h.1M0 5h1M11 5h.1M0 6h.1M2 6h.1M0 7h1M4 8h.1M1 9h.1M4 9h.1M2 10h.1M5 11h.1"/>
<path stroke="#2c75b4" d="M0 4h.1M1 6h.1"/>
</g>
<use href="#ol"/>
</g>
<rect x="0" y="0" width="262.4" height="142.2" fill="none" stroke="#8c8c8c" stroke-width="1"/>
<text class="pl" x="6.8" y="30.0" fill="#000" style="fill:#000">(b)</text>
<text x="265.7" y="117.7">30°N</text>
<text x="265.7" y="82.3">35°N</text>
<text x="265.7" y="46.9">40°N</text>
<text x="265.7" y="11.5">45°N</text>
<text x="14.1" y="154.6" text-anchor="middle">65°E</text>
<text x="49.5" y="154.6" text-anchor="middle">70°E</text>
<text x="84.9" y="154.6" text-anchor="middle">75°E</text>
<text x="120.3" y="154.6" text-anchor="middle">80°E</text>
<text x="155.7" y="154.6" text-anchor="middle">85°E</text>
<text x="191.1" y="154.6" text-anchor="middle">90°E</text>
<text x="226.5" y="154.6" text-anchor="middle">95°E</text>
<text x="261.9" y="154.6" text-anchor="middle">100°E</text>
<g>
<path d="M0 159.40L12.23 155.80V163.00Z" fill="#67001f"/>
<path d="M262.40 159.40L250.17 155.80V163.00Z" fill="#053061"/>
<rect x="11.93" y="155.80" width="15.21" height="7.20" fill="#67001f"/>
<rect x="26.84" y="155.80" width="15.21" height="7.20" fill="#991027"/>
<rect x="41.75" y="155.80" width="15.21" height="7.20" fill="#be3036"/>
<rect x="56.65" y="155.80" width="15.21" height="7.20" fill="#d6604d"/>
<rect x="71.56" y="155.80" width="15.21" height="7.20" fill="#ea8e70"/>
<rect x="86.47" y="155.80" width="15.21" height="7.20" fill="#f7b799"/>
<rect x="101.38" y="155.80" width="15.21" height="7.20" fill="#fddbc7"/>
<rect x="116.29" y="155.80" width="15.21" height="7.20" fill="#f9eee7"/>
<rect x="131.20" y="155.80" width="15.21" height="7.20" fill="#eaf1f5"/>
<rect x="146.11" y="155.80" width="15.21" height="7.20" fill="#d1e5f0"/>
<rect x="161.02" y="155.80" width="15.21" height="7.20" fill="#a7d0e4"/>
<rect x="175.93" y="155.80" width="15.21" height="7.20" fill="#78b4d5"/>
<rect x="190.84" y="155.80" width="15.21" height="7.20" fill="#4393c3"/>
<rect x="205.75" y="155.80" width="15.21" height="7.20" fill="#2c75b4"/>
<rect x="220.65" y="155.80" width="15.21" height="7.20" fill="#185493"/>
<rect x="235.56" y="155.80" width="15.21" height="7.20" fill="#053061"/>
<path d="M0 159.40L11.93 155.80H250.47L262.40 159.40L250.47 163.00H11.93Z" fill="none" stroke="#777" stroke-width="0.6"/>
<text x="11.93" y="180.60" text-anchor="middle">−20</text>
<text x="71.56" y="180.60" text-anchor="middle">−10</text>
<text x="131.20" y="180.60" text-anchor="middle">0</text>
<text x="190.84" y="180.60" text-anchor="middle">10</text>
<text x="250.47" y="180.60" text-anchor="middle">20</text>
<path d="M11.93 163.00v4.2M71.56 163.00v4.2M131.20 163.00v4.2M190.84 163.00v4.2M250.47 163.00v4.2" stroke="#222" stroke-width="0.9" fill="none"/>
<text class="cm" x="131.2" y="197.8" text-anchor="middle" xml:space="preserve">WRF annual precip. trend  (% yr<tspan class="sup" dx="1.2" dy="-5.9">−1</tspan><tspan dy="5.9" dx="0">)</tspan></text>
</g>
</g>
<g transform="translate(9.2,235.4)">
<path d="M14.10 0V142.2M49.50 0V142.2M84.90 0V142.2M120.30 0V142.2M155.70 0V142.2M191.10 0V142.2M226.50 0V142.2M261.90 0V142.2M0 112.68H262.4M0 77.28H262.4M0 41.88H262.4M0 6.48H262.4" stroke="#e2e2e2" stroke-width="0.7" fill="none"/>
<g clip-path="url(#cp)">
<g class="d" transform="translate(-0.06,141.00) scale(3.540,-3.540)">
<path stroke="#67001f" d="M63 2h1M64 3h1M64 4h1M68 4h.1M74 4h.1M74 5h.1M73 6h1M74 8h.1M74 9h.1M24 22h.1M24 23h.1M20 26h.1M23 26h.1"/>
<path stroke="#b61f2e" d="M20 1h.1M64 1h.1M16 2h.1M62 2h.1M65 2h.1M63 3h.1M66 3h.1M68 3h.1M73 3h1M23 4h.1M63 4h.1M67 4h.1M72 4h1M21 5h.1M65 5h.1M67 5h1M72 5h1M21 6h.1M68 6h.1M72 6h.1M73 7h1M73 8h.1M73 9h.1M63 10h3M65 11h1M74 12h.1M29 13h.1M72 13h2M27 14h.1M28 15h.1M28 16h.1M71 16h.1M74 16h.1M7 18h.1M30 18h.1M28 19h2M26 20h4M36 20h.1M24 21h1M29 21h.1M18 22h.1M23 22h.1M25 22h.1M18 23h1M23 23h.1M19 24h1M22 24h2M17 25h.1M19 25h5M18 26h1M22 26h.1M24 26h.1M22 29h.1M30 32h5M42 34h1"/>
<path stroke="#dc6e57" d="M38 0h1M43 0h.1M64 0h1M68 0h1M71 0h.1M73 0h.1M4 1h.1M15 1h4M21 1h.1M37 1h2M41 1h.1M44 1h2M62 1h1M65 1h.1M68 1h3M74 1h.1M3 2h1M6 2h.1M17 2h3M23 2h.1M43 2h2M61 2h.1M66 2h6M0 3h.1M3 3h.1M10 3h.1M13 3h3M18 3h3M23 3h.1M37 3h.1M62 3h.1M67 3h.1M72 3h.1M1 4h1M4 4h.1M12 4h1M16 4h6M24 4h.1M37 4h.1M41 4h1M62 4h.1M66 4h.1M69 4h.1M71 4h.1M14 5h6M22 5h2M63 5h1M66 5h.1M69 5h.1M71 5h.1M14 6h2M19 6h1M22 6h2M67 6h.1M69 6h.1M71 6h.1M17 7h.1M19 7h.1M21 7h1M38 7h.1M70 7h2M12 8h.1M19 8h.1M22 8h1M38 8h.1M62 8h3M69 8h.1M71 8h1M19 9h.1M62 9h5M69 9h.1M72 9h.1M3 10h.1M18 10h2M46 10h.1M62 10h.1M67 10h1M73 10h1M6 11h.1M18 11h.1M32 11h.1M62 11h2M73 11h1M23 12h.1M28 12h1M31 12h1M64 12h2M71 12h2M24 13h.1M27 13h1M64 13h3M69 13h2M18 14h.1M28 14h2M64 14h.1M66 14h1M69 14h5M29 15h.1M64 15h10M22 16h.1M29 16h.1M59 16h1M66 16h4M72 16h1M10 17h.1M22 17h1M28 17h.1M30 17h.1M56 17h1M60 17h.1M69 17h1M73 17h1M5 18h1M8 18h4M21 18h2M26 18h3M31 18h2M55 18h3M74 18h.1M15 19h.1M19 19h.1M22 19h2M26 19h1M31 19h2M54 19h1M57 19h.1M15 20h1M24 20h1M31 20h.1M34 20h1M37 20h.1M54 20h1M14 21h4M23 21h.1M26 21h.1M30 21h.1M16 22h1M22 22h.1M52 22h.1M55 22h.1M58 22h.1M16 23h1M20 23h2M25 23h.1M50 23h.1M69 23h.1M71 23h.1M16 24h.1M18 24h.1M21 24h.1M25 24h1M64 24h.1M68 24h4M18 25h.1M25 25h.1M21 26h.1M25 26h.1M69 26h.1M71 26h.1M18 27h6M72 27h.1M74 27h.1M18 28h.1M20 28h3M38 29h.1M24 30h3M31 30h.1M38 30h.1M44 30h.1M46 30h.1M48 30h.1M25 31h3M30 31h1M34 31h.1M71 31h.1M25 32h4M36 32h.1M38 32h.1M69 32h.1M71 32h1M32 33h.1M34 33h2M41 33h3M72 33h.1M44 34h2M66 34h.1M70 34h.1M72 34h.1M42 35h2M73 35h1M42 36h2M66 36h1M71 36h.1M73 36h1M66 37h1M71 37h3M46 39h.1M68 39h.1M70 39h2M41 40h.1M70 40h4"/>
<path stroke="#f7b799" d="M3 0h1M6 0h.1M11 0h.1M13 0h10M30 0h.1M36 0h1M40 0h2M44 0h7M55 0h.1M57 0h.1M60 0h.1M62 0h1M66 0h1M70 0h.1M72 0h.1M74 0h.1M2 1h1M6 1h.1M10 1h2M14 1h.1M22 1h3M33 1h.1M40 1h.1M42 1h1M47 1h1M50 1h.1M56 1h2M61 1h.1M66 1h1M72 1h1M1 2h1M5 2h.1M10 2h5M21 2h1M24 2h1M32 2h10M46 2h3M54 2h.1M56 2h.1M73 2h1M1 3h1M4 3h2M11 3h1M17 3h.1M22 3h.1M24 3h1M32 3h.1M34 3h2M38 3h5M69 3h2M0 4h.1M3 4h.1M5 4h.1M10 4h1M14 4h1M25 4h1M36 4h.1M38 4h2M70 4h.1M0 5h1M4 5h.1M10 5h3M25 5h1M37 5h.1M62 5h.1M70 5h.1M0 6h.1M10 6h3M17 6h1M25 6h1M29 6h.1M32 6h1M36 6h.1M64 6h2M70 6h.1M10 7h2M15 7h1M18 7h.1M20 7h.1M23 7h5M37 7h.1M63 7h6M16 8h.1M18 8h.1M20 8h1M25 8h.1M30 8h.1M39 8h.1M42 8h1M61 8h.1M66 8h.1M68 8h.1M70 8h.1M3 9h1M12 9h.1M17 9h1M20 9h5M30 9h.1M38 9h1M41 9h1M46 9h.1M61 9h.1M68 9h.1M70 9h1M1 10h1M4 10h2M10 10h1M17 10h.1M21 10h.1M23 10h4M32 10h.1M38 10h1M41 10h.1M45 10h.1M60 10h1M69 10h.1M71 10h1M1 11h.1M3 11h2M17 11h.1M19 11h1M22 11h.1M24 11h.1M26 11h.1M28 11h3M33 11h.1M38 11h.1M61 11h.1M67 11h5M4 12h1M18 12h2M22 12h.1M24 12h1M27 12h.1M30 12h.1M33 12h.1M61 12h2M67 12h3M6 13h.1M17 13h.1M19 13h1M23 13h.1M25 13h.1M30 13h3M35 13h.1M61 13h2M68 13h.1M6 14h.1M17 14h.1M19 14h1M23 14h3M31 14h.1M57 14h.1M61 14h2M65 14h.1M68 14h.1M6 15h4M22 15h5M30 15h3M54 15h.1M56 15h7M5 16h5M21 16h.1M23 16h.1M26 16h1M30 16h.1M32 16h1M54 16h4M61 16h4M4 17h5M11 17h1M18 17h3M24 17h3M29 17h.1M31 17h2M53 17h2M58 17h1M61 17h7M71 17h1M3 18h1M13 18h.1M18 18h2M24 18h1M35 18h.1M38 18h.1M53 18h1M59 18h2M64 18h9M8 19h.1M12 19h2M16 19h2M20 19h1M25 19h.1M34 19h5M53 19h.1M56 19h.1M58 19h3M70 19h4M13 20h1M17 20h2M21 20h2M32 20h1M38 20h.1M43 20h1M46 20h.1M48 20h.1M56 20h5M73 20h1M13 21h.1M19 21h.1M21 21h1M27 21h1M31 21h.1M46 21h.1M52 21h5M60 21h.1M73 21h1M14 22h1M19 22h2M26 22h1M46 22h5M53 22h1M56 22h1M66 22h1M70 22h1M73 22h1M15 23h.1M26 23h1M46 23h3M51 23h.1M58 23h.1M65 23h3M70 23h.1M72 23h.1M17 24h.1M48 24h3M63 24h.1M65 24h.1M67 24h.1M73 24h1M16 25h.1M54 25h.1M66 25h8M14 26h1M17 26h.1M26 26h.1M54 26h.1M68 26h.1M70 26h.1M72 26h2M17 27h.1M25 27h.1M71 27h.1M73 27h.1M17 28h.1M19 28h.1M24 28h.1M41 28h.1M72 28h2M21 29h.1M23 29h2M39 29h1M42 29h1M72 29h2M22 30h1M28 30h2M32 30h.1M36 30h.1M39 30h4M45 30h.1M47 30h.1M57 30h.1M63 30h1M68 30h6M23 31h1M29 31h.1M32 31h1M35 31h1M38 31h6M64 31h6M72 31h2M23 32h1M37 32h.1M39 32h.1M41 32h3M59 32h.1M61 32h.1M66 32h1M70 32h.1M73 32h1M26 33h.1M31 33h.1M33 33h.1M37 33h3M62 33h.1M64 33h7M73 33h1M32 34h.1M34 34h.1M37 34h1M41 34h.1M47 34h1M65 34h.1M67 34h2M71 34h.1M73 34h1M41 35h.1M45 35h2M66 35h6M68 36h2M72 36h.1M32 37h2M36 37h.1M46 37h.1M65 37h.1M68 37h2M46 38h1M65 38h.1M67 38h7M28 39h.1M32 39h.1M64 39h3M69 39h.1M73 39h1M21 40h1M24 40h2M28 40h1M32 40h.1M36 40h.1M38 40h.1M40 40h.1M42 40h5M64 40h.1M69 40h.1"/>
<path stroke="#fae7dc" d="M1 0h1M5 0h.1M10 0h.1M12 0h.1M24 0h5M31 0h4M52 0h2M56 0h.1M58 0h1M61 0h.1M0 1h1M5 1h.1M13 1h.1M26 1h6M34 1h2M49 1h.1M51 1h1M54 1h1M59 1h1M0 2h.1M26 2h2M30 2h1M50 2h3M55 2h.1M57 2h1M60 2h.1M26 3h.1M28 3h3M33 3h.1M44 3h.1M61 3h.1M27 4h1M30 4h5M43 4h.1M61 4h.1M3 5h.1M5 5h.1M27 5h9M38 5h.1M4 6h.1M27 6h1M30 6h1M34 6h1M37 6h.1M62 6h1M0 7h.1M4 7h1M13 7h.1M29 7h2M33 7h.1M36 7h.1M39 7h.1M61 7h1M1 8h4M10 8h1M17 8h.1M24 8h.1M26 8h3M36 8h1M40 8h1M44 8h5M67 8h.1M1 9h1M5 9h.1M10 9h1M16 9h.1M26 9h3M31 9h.1M35 9h.1M37 9h.1M40 9h.1M44 9h1M48 9h.1M60 9h.1M0 10h.1M12 10h.1M16 10h.1M22 10h.1M28 10h3M33 10h.1M36 10h1M40 10h.1M42 10h2M47 10h.1M70 10h.1M2 11h.1M11 11h1M16 11h.1M21 11h.1M23 11h.1M25 11h.1M27 11h.1M36 11h1M39 11h.1M41 11h2M60 11h.1M6 12h1M12 12h.1M16 12h1M21 12h.1M26 12h.1M34 12h5M60 12h.1M5 13h.1M7 13h.1M16 13h.1M18 13h.1M21 13h1M26 13h.1M34 13h.1M36 13h1M55 13h.1M60 13h.1M7 14h3M16 14h.1M21 14h1M32 14h4M54 14h2M58 14h2M5 15h.1M11 15h.1M16 15h5M34 15h.1M55 15h.1M4 16h.1M11 16h.1M18 16h2M24 16h1M31 16h.1M36 16h.1M53 16h.1M2 17h1M36 17h2M1 18h1M14 18h1M17 18h.1M34 18h.1M36 18h1M39 18h.1M47 18h.1M50 18h.1M62 18h1M4 19h3M9 19h2M40 19h.1M44 19h1M47 19h4M62 19h2M69 19h.1M12 20h.1M20 20h.1M39 20h3M45 20h.1M47 20h.1M49 20h.1M52 20h1M62 20h2M71 20h1M20 21h.1M35 21h1M41 21h4M47 21h4M58 21h1M70 21h2M28 22h1M42 22h.1M45 22h.1M59 22h1M62 22h.1M65 22h.1M68 22h1M72 22h.1M14 23h.1M28 23h.1M45 23h.1M52 23h2M57 23h.1M60 23h1M64 23h.1M73 23h1M15 24h.1M27 24h.1M46 24h1M66 24h.1M15 25h.1M26 25h1M44 25h.1M46 25h.1M48 25h3M53 25h.1M64 25h1M16 26h.1M44 26h.1M51 26h2M66 26h1M16 27h.1M41 27h.1M44 27h.1M51 27h1M54 27h.1M25 28h.1M38 28h2M43 28h1M50 28h.1M52 28h.1M18 29h2M26 29h1M29 29h.1M37 29h.1M41 29h.1M44 29h4M54 29h.1M71 29h.1M33 30h2M37 30h.1M49 30h.1M54 30h.1M58 30h2M62 30h.1M65 30h2M22 31h.1M37 31h.1M47 31h1M57 31h2M61 31h2M22 32h.1M40 32h.1M58 32h.1M60 32h.1M62 32h3M68 32h.1M24 33h1M27 33h3M45 33h.1M52 33h.1M60 33h1M63 33h.1M33 34h.1M35 34h1M39 34h1M60 34h4M32 35h8M48 35h.1M64 35h1M32 36h5M41 36h.1M45 36h4M65 36h.1M35 37h.1M37 37h.1M45 37h.1M47 37h3M64 37h.1M33 38h3M38 38h.1M48 38h2M64 38h.1M66 38h.1M21 39h1M29 39h.1M31 39h.1M33 39h5M45 39h.1M47 39h3M10 40h.1M19 40h1M23 40h.1M27 40h.1M30 40h1M33 40h2M37 40h.1M39 40h.1M48 40h2M65 40h3"/>
<path stroke="#e1edf3" d="M7 0h.1M53 1h.1M7 2h.1M9 2h.1M29 2h.1M59 2h.1M9 3h.1M27 3h.1M45 3h1M60 3h.1M6 4h.1M29 4h.1M44 4h.1M2 5h.1M6 5h.1M39 5h.1M41 5h.1M61 5h.1M1 6h.1M3 6h.1M5 6h.1M9 6h.1M38 6h.1M61 6h.1M1 7h2M6 7h.1M14 7h.1M32 7h.1M34 7h1M44 7h4M60 7h.1M0 8h.1M13 8h.1M15 8h.1M31 8h.1M33 8h.1M35 8h.1M50 8h.1M60 8h.1M6 9h.1M9 9h.1M13 9h.1M15 9h.1M32 9h2M36 9h.1M43 9h.1M47 9h.1M53 9h.1M7 10h.1M9 10h.1M15 10h.1M34 10h1M48 10h.1M0 11h.1M7 11h.1M10 11h.1M13 11h.1M15 11h.1M34 11h1M40 11h.1M44 11h1M0 12h.1M2 12h1M8 12h1M11 12h.1M15 12h.1M41 12h3M56 12h1M59 12h.1M2 13h2M8 13h4M15 13h.1M38 13h3M43 13h1M54 13h.1M56 13h3M2 14h3M11 14h.1M15 14h.1M37 14h1M40 14h1M46 14h2M51 14h.1M53 14h.1M2 15h2M35 15h7M45 15h1M48 15h1M52 15h1M3 16h.1M12 16h.1M34 16h1M37 16h4M43 16h3M49 16h3M1 17h.1M13 17h.1M16 17h1M34 17h1M39 17h2M43 17h2M47 17h1M50 17h2M0 18h.1M16 18h.1M41 18h5M48 18h1M51 18h1M0 19h3M41 19h2M46 19h.1M52 19h.1M65 19h1M68 19h.1M7 20h.1M10 20h1M50 20h1M70 20h.1M11 21h1M32 21h2M37 21h.1M39 21h1M61 21h8M13 22h.1M30 22h.1M41 22h.1M43 22h1M61 22h.1M63 22h1M29 23h.1M43 23h1M55 23h1M59 23h.1M63 23h.1M14 24h.1M28 24h.1M44 24h1M52 24h2M57 24h5M12 25h2M28 25h.1M41 25h2M45 25h.1M47 25h.1M52 25h.1M63 25h.1M10 26h3M27 26h.1M41 26h2M46 26h4M65 26h.1M15 27h.1M26 27h.1M39 27h1M42 27h1M45 27h2M49 27h1M53 27h.1M66 27h1M70 27h.1M16 28h.1M37 28h.1M42 28h.1M45 28h2M49 28h.1M51 28h.1M53 28h1M65 28h1M17 29h.1M28 29h.1M30 29h3M36 29h.1M49 29h3M55 29h.1M57 29h10M20 30h1M50 30h3M55 30h1M61 30h.1M21 31h.1M45 31h.1M49 31h.1M52 31h4M60 31h.1M21 32h.1M52 32h.1M55 32h.1M57 32h.1M46 33h2M58 33h1M26 34h.1M52 34h.1M0 36h.1M31 36h.1M38 36h2M31 37h.1M38 37h1M43 37h1M53 37h.1M63 37h.1M0 38h4M22 38h.1M26 38h4M32 38h.1M37 38h.1M45 38h.1M51 38h.1M63 38h.1M0 39h2M5 39h1M9 39h.1M17 39h.1M25 39h2M30 39h.1M39 39h.1M41 39h.1M43 39h.1M51 39h1M63 39h.1M0 40h9M11 40h3M17 40h1M51 40h.1M54 40h.1M63 40h.1"/>
<path stroke="#a7d0e4" d="M0 0h.1M7 1h.1M9 1h.1M7 3h.1M47 3h.1M9 4h.1M45 4h.1M60 4h.1M9 5h.1M40 5h.1M42 5h.1M44 5h1M47 5h1M59 5h1M2 6h.1M6 6h.1M39 6h.1M46 6h2M54 6h.1M60 6h.1M7 7h.1M9 7h.1M40 7h3M49 7h.1M54 7h1M6 8h.1M9 8h.1M32 8h.1M34 8h.1M51 8h3M0 9h.1M7 9h.1M14 9h.1M49 9h.1M51 9h1M54 9h1M59 9h.1M13 10h.1M52 10h7M8 11h1M14 11h.1M46 11h2M52 11h7M1 12h.1M10 12h.1M13 12h.1M40 12h.1M45 12h.1M53 12h2M0 13h1M13 13h.1M42 13h.1M45 13h2M49 13h.1M52 13h1M12 14h1M39 14h.1M42 14h3M49 14h1M52 14h.1M1 15h.1M12 15h.1M15 15h.1M43 15h1M47 15h.1M50 15h1M1 16h1M16 16h1M42 16h.1M47 16h1M0 17h.1M15 17h.1M42 17h.1M46 17h.1M49 17h.1M40 18h.1M67 19h.1M0 20h1M3 20h3M8 20h1M65 20h.1M69 20h.1M0 21h1M9 21h1M38 21h.1M11 22h1M31 22h.1M40 22h.1M11 23h2M30 23h.1M41 23h1M62 23h.1M10 24h3M29 24h.1M41 24h.1M43 24h.1M56 24h.1M10 25h.1M40 25h.1M55 25h1M61 25h.1M28 26h1M39 26h.1M45 26h.1M55 26h.1M64 26h.1M27 27h1M30 27h.1M37 27h1M48 27h.1M55 27h2M64 27h1M68 27h1M15 28h.1M26 28h4M48 28h.1M57 28h7M67 28h.1M71 28h.1M16 29h.1M34 29h1M53 29h.1M68 29h2M18 30h1M18 31h2M46 31h.1M51 31h.1M18 32h2M45 32h.1M48 32h.1M51 32h.1M53 32h1M56 32h.1M19 33h.1M21 33h2M49 33h.1M53 33h.1M57 33h.1M0 34h.1M23 34h.1M25 34h.1M31 34h.1M49 34h.1M53 34h.1M59 34h.1M0 35h1M28 35h.1M31 35h.1M49 35h.1M1 36h.1M3 36h.1M27 36h3M50 36h.1M54 36h.1M56 36h.1M63 36h1M0 37h4M25 37h1M28 37h1M40 37h2M51 37h1M54 37h2M62 37h.1M5 38h.1M17 38h.1M20 38h1M24 38h1M31 38h.1M39 38h1M52 38h4M62 38h.1M3 39h1M7 39h1M10 39h4M16 39h.1M18 39h2M23 39h1M40 39h.1M42 39h.1M44 39h.1M53 39h.1M15 40h1M52 40h1M55 40h.1M57 40h.1"/>
<path stroke="#529dc8" d="M8 0h1M8 1h.1M8 2h.1M8 3h.1M48 3h1M7 4h.1M55 4h2M59 4h.1M7 5h1M43 5h.1M46 5h.1M49 5h.1M53 5h5M7 6h1M44 6h1M53 6h.1M59 6h.1M51 7h.1M7 8h.1M14 8h.1M55 8h.1M50 9h.1M56 9h.1M8 10h.1M14 10h.1M49 10h.1M51 10h.1M49 11h.1M51 11h.1M14 12h.1M46 12h.1M49 12h3M58 12h.1M14 13h.1M48 13h.1M50 13h1M1 14h.1M14 14h.1M13 15h.1M13 16h.1M15 16h.1M14 17h.1M2 20h.1M66 20h1M4 21h.1M6 21h2M0 22h.1M10 22h.1M33 22h2M39 22h.1M0 23h.1M10 23h.1M31 23h.1M40 23h.1M0 24h.1M9 24h.1M30 24h.1M40 24h.1M42 24h.1M55 24h.1M11 25h.1M29 25h1M39 25h.1M57 25h3M62 25h.1M9 26h.1M30 26h2M38 26h.1M40 26h.1M56 26h1M10 27h1M13 27h1M29 27h.1M31 27h.1M58 27h1M61 27h.1M63 27h.1M0 28h.1M14 28h.1M31 28h5M55 28h1M68 28h1M0 29h.1M14 29h1M56 29h.1M0 30h.1M14 30h3M0 31h1M17 31h.1M50 31h.1M1 32h.1M49 32h.1M0 33h1M3 33h.1M20 33h.1M51 33h.1M54 33h2M1 34h.1M18 34h4M24 34h.1M27 34h.1M51 34h.1M57 34h1M2 35h2M23 35h4M29 35h1M50 35h2M2 36h.1M4 36h.1M6 36h.1M53 36h.1M55 36h.1M57 36h.1M61 36h1M5 37h1M13 37h.1M18 37h.1M20 37h2M24 37h.1M27 37h.1M30 37h.1M61 37h.1M6 38h1M11 38h.1M13 38h3M18 38h1M23 38h.1M41 38h.1M44 38h.1M61 38h.1M15 39h.1M54 39h1M62 39h.1M58 40h1M61 40h1"/>
<path stroke="#246aae" d="M50 3h.1M57 3h.1M59 3h.1M8 4h.1M46 4h1M49 4h4M58 4h.1M51 5h1M49 6h.1M52 6h.1M55 6h3M8 7h.1M50 7h.1M52 7h1M56 7h.1M59 7h.1M56 8h.1M59 8h.1M8 9h.1M57 9h1M50 10h.1M50 11h.1M47 12h1M0 14h.1M0 15h.1M0 16h.1M68 20h.1M2 21h1M5 21h.1M1 22h1M6 22h.1M9 22h.1M32 22h.1M36 22h.1M1 23h1M8 23h1M32 23h4M39 23h.1M1 24h.1M8 24h.1M31 24h.1M35 24h.1M39 24h.1M0 25h1M4 25h.1M6 25h3M31 25h1M38 25h.1M0 26h.1M4 26h.1M37 26h.1M63 26h.1M0 27h1M9 27h.1M12 27h.1M32 27h4M60 27h.1M62 27h.1M1 28h.1M6 28h.1M9 28h.1M13 28h.1M70 28h.1M1 29h.1M4 29h2M13 29h.1M1 30h.1M12 30h1M2 31h1M8 31h.1M10 31h1M13 31h3M0 32h.1M2 32h1M8 32h.1M11 32h.1M14 32h3M47 32h.1M50 32h.1M2 33h.1M11 33h.1M13 33h1M16 33h2M50 33h.1M2 34h3M13 34h1M16 34h1M28 34h2M50 34h.1M54 34h2M5 35h.1M11 35h.1M15 35h2M20 35h2M53 35h.1M55 35h3M63 35h.1M5 36h.1M18 36h.1M25 36h1M51 36h1M58 36h.1M60 36h.1M7 37h2M11 37h1M14 37h3M19 37h.1M23 37h.1M57 37h3M8 38h2M12 38h.1M43 38h.1M57 38h2M56 39h5M56 40h.1M60 40h.1"/>
<path stroke="#053061" d="M51 3h.1M53 3h3M58 3h.1M48 4h.1M54 4h.1M50 5h.1M40 6h1M43 6h.1M50 6h1M57 7h1M8 8h.1M57 8h.1M14 15h.1M14 16h.1M3 22h2M7 22h1M37 22h.1M3 23h4M37 23h.1M2 24h5M32 24h2M36 24h1M2 25h1M5 25h.1M33 25h2M37 25h.1M1 26h1M5 26h3M33 26h.1M35 26h1M58 26h1M61 26h1M2 27h.1M4 27h4M2 28h3M7 28h1M10 28h2M2 29h.1M7 29h5M2 30h9M4 31h3M9 31h.1M12 31h.1M4 32h3M9 32h1M12 32h1M46 32h.1M4 33h6M12 33h.1M15 33h.1M6 34h3M11 34h1M15 34h.1M6 35h2M13 35h1M18 35h1M54 35h.1M61 35h.1M7 36h10M19 36h2M23 36h1M59 36h.1M10 37h.1M42 38h.1M60 38h.1"/>
<path stroke="#053061" d="M52 3h.1M42 6h.1M58 8h.1M38 22h.1M38 23h.1M38 24h.1M36 25h.1M3 26h.1M34 26h.1M60 26h.1M3 27h.1M3 29h.1M10 34h.1M9 35h1M12 35h.1M59 35h1M62 35h.1M22 36h.1"/>
</g>
<use href="#ol"/>
</g>
<rect x="0" y="0" width="262.4" height="142.2" fill="none" stroke="#8c8c8c" stroke-width="1"/>
<text class="pl" x="6.8" y="30.0" fill="#fff" style="fill:#fff">(c)</text>
<text x="265.7" y="117.7">30°N</text>
<text x="265.7" y="82.3">35°N</text>
<text x="265.7" y="46.9">40°N</text>
<text x="265.7" y="11.5">45°N</text>
<text x="14.1" y="154.6" text-anchor="middle">65°E</text>
<text x="49.5" y="154.6" text-anchor="middle">70°E</text>
<text x="84.9" y="154.6" text-anchor="middle">75°E</text>
<text x="120.3" y="154.6" text-anchor="middle">80°E</text>
<text x="155.7" y="154.6" text-anchor="middle">85°E</text>
<text x="191.1" y="154.6" text-anchor="middle">90°E</text>
<text x="226.5" y="154.6" text-anchor="middle">95°E</text>
<text x="261.9" y="154.6" text-anchor="middle">100°E</text>
<g>
<path d="M0 159.40L12.23 155.80V163.00Z" fill="#67001f"/>
<path d="M262.40 159.40L250.17 155.80V163.00Z" fill="#053061"/>
<rect x="11.93" y="155.80" width="24.15" height="7.20" fill="#67001f"/>
<rect x="35.78" y="155.80" width="24.15" height="7.20" fill="#b61f2e"/>
<rect x="59.64" y="155.80" width="24.15" height="7.20" fill="#dc6e57"/>
<rect x="83.49" y="155.80" width="24.15" height="7.20" fill="#f7b799"/>
<rect x="107.35" y="155.80" width="24.15" height="7.20" fill="#fae7dc"/>
<rect x="131.20" y="155.80" width="24.15" height="7.20" fill="#e1edf3"/>
<rect x="155.05" y="155.80" width="24.15" height="7.20" fill="#a7d0e4"/>
<rect x="178.91" y="155.80" width="24.15" height="7.20" fill="#529dc8"/>
<rect x="202.76" y="155.80" width="24.15" height="7.20" fill="#246aae"/>
<rect x="226.62" y="155.80" width="24.15" height="7.20" fill="#053061"/>
<path d="M0 159.40L11.93 155.80H250.47L262.40 159.40L250.47 163.00H11.93Z" fill="none" stroke="#777" stroke-width="0.6"/>
<text x="11.93" y="180.60" text-anchor="middle">0.0</text>
<text x="59.64" y="180.60" text-anchor="middle">0.4</text>
<text x="107.35" y="180.60" text-anchor="middle">0.8</text>
<text x="155.05" y="180.60" text-anchor="middle">1.2</text>
<text x="202.76" y="180.60" text-anchor="middle">1.6</text>
<text x="250.47" y="180.60" text-anchor="middle">2.0</text>
<path d="M11.93 163.00v4.2M59.64 163.00v4.2M107.35 163.00v4.2M155.05 163.00v4.2M202.76 163.00v4.2M250.47 163.00v4.2" stroke="#222" stroke-width="0.9" fill="none"/>
<text class="cl" x="131.2" y="197.8" text-anchor="middle" xml:space="preserve">Annual precip. ERA5 / WRF (-)</text>
</g>
</g>
<g transform="translate(324.3,235.4)">
<path d="M14.10 0V142.2M49.50 0V142.2M84.90 0V142.2M120.30 0V142.2M155.70 0V142.2M191.10 0V142.2M226.50 0V142.2M261.90 0V142.2M0 112.68H262.4M0 77.28H262.4M0 41.88H262.4M0 6.48H262.4" stroke="#e2e2e2" stroke-width="0.7" fill="none"/>
<g clip-path="url(#cp)">
<g class="d" transform="translate(-0.06,141.00) scale(3.540,-3.540)">
<path stroke="#d6604d" d="M42 26h.1M68 36h.1M69 38h.1"/>
<path stroke="#ea8e70" d="M32 24h2M32 25h2M30 26h3M36 26h.1M40 26h1M43 26h3M36 27h.1M41 27h2M45 27h1M45 28h1M42 32h.1M44 32h.1M52 32h.1M54 32h.1M56 32h.1M0 34h1M0 35h.1M3 35h.1M0 36h4M6 36h.1M64 36h3M69 36h1M1 37h2M6 37h.1M64 37h6M1 38h2M6 38h2M64 38h4M70 38h.1"/>
<path stroke="#f7b799" d="M52 10h1M56 10h.1M50 11h.1M56 11h.1M46 12h4M56 12h.1M48 13h2M45 14h.1M48 14h1M33 23h.1M31 24h.1M35 24h1M61 24h.1M2 25h.1M30 25h1M35 25h1M41 25h5M2 26h.1M28 26h1M34 26h1M39 26h.1M47 26h.1M61 26h.1M28 27h7M37 27h.1M39 27h1M44 27h.1M47 27h.1M26 28h2M30 28h.1M32 28h2M36 28h.1M39 28h5M47 28h.1M27 29h1M35 29h.1M39 29h.1M42 29h5M27 30h.1M46 30h.1M55 30h.1M42 31h2M53 31h4M4 32h.1M7 32h.1M43 32h.1M53 32h.1M55 32h.1M57 32h.1M60 32h4M0 33h5M51 33h4M62 33h.1M2 34h3M51 34h.1M53 34h1M1 35h1M4 35h1M7 35h1M11 35h1M65 35h5M5 36h.1M7 36h1M0 37h.1M4 37h1M7 37h1M15 37h1M63 37h.1M0 38h.1M4 38h1M14 38h2M63 38h.1M71 38h.1M0 39h1M3 39h6M69 39h1M0 40h.1M4 40h.1M7 40h.1M46 40h.1"/>
<path stroke="#fddbc7" d="M53 9h.1M49 10h2M54 10h1M47 11h2M51 11h4M57 11h.1M45 12h.1M51 12h4M57 12h.1M45 13h2M51 13h.1M53 13h3M44 14h.1M46 14h1M50 14h4M45 15h2M54 15h.1M54 16h.1M38 17h.1M0 23h.1M31 23h1M34 23h2M59 23h.1M61 23h1M0 24h2M6 24h.1M8 24h.1M28 24h.1M30 24h.1M37 24h.1M45 24h1M58 24h2M62 24h.1M0 25h1M3 25h1M6 25h.1M28 25h1M37 25h.1M40 25h.1M47 25h.1M58 25h4M0 26h1M3 26h2M37 26h.1M57 26h3M62 26h.1M0 27h1M5 27h.1M26 27h1M48 27h.1M60 27h2M25 28h.1M29 28h.1M31 28h.1M35 28h.1M37 28h1M48 28h.1M26 29h.1M29 29h5M36 29h2M40 29h1M3 30h.1M25 30h1M28 30h17M47 30h.1M53 30h1M56 30h2M0 31h1M3 31h4M29 31h.1M37 31h2M41 31h.1M45 31h1M51 31h1M58 31h2M63 31h2M0 32h3M5 32h1M8 32h3M41 32h.1M45 32h.1M48 32h.1M51 32h.1M58 32h1M65 32h.1M6 33h6M42 33h2M56 33h5M63 33h1M68 33h.1M6 34h7M49 34h1M52 34h.1M55 34h1M59 34h4M68 34h.1M6 35h.1M9 35h1M13 35h3M34 35h.1M51 35h.1M53 35h.1M55 35h2M59 35h1M62 35h2M71 35h.1M9 36h9M20 36h.1M29 36h.1M32 36h.1M34 36h1M62 36h1M71 36h.1M9 37h5M17 37h3M32 37h.1M62 37h.1M71 37h.1M9 38h4M17 38h3M45 38h.1M56 38h.1M59 38h3M2 39h.1M10 39h.1M14 39h2M19 39h1M22 39h.1M44 39h3M60 39h.1M63 39h5M71 39h.1M1 40h2M5 40h1M8 40h2M30 40h1M34 40h.1M43 40h2M47 40h2"/>
<path stroke="#f9eee7" d="M38 0h1M42 0h4M50 0h.1M52 0h1M56 0h.1M65 0h1M68 0h1M72 0h.1M42 1h.1M44 1h.1M60 1h3M65 1h.1M71 1h1M34 2h.1M44 2h.1M55 2h1M58 2h2M62 2h.1M73 2h1M44 3h.1M72 3h1M39 4h1M70 4h4M39 5h.1M61 5h.1M71 5h3M52 6h1M61 6h1M72 6h2M32 7h.1M35 7h.1M40 7h.1M44 7h.1M52 7h1M57 7h1M72 7h1M32 8h.1M42 8h6M52 8h2M62 8h.1M67 8h6M26 9h.1M41 9h1M46 9h6M54 9h3M62 9h.1M64 9h1M67 9h1M71 9h1M74 9h.1M36 10h.1M41 10h3M46 10h1M57 10h3M62 10h.1M64 10h.1M67 10h3M74 10h.1M34 11h.1M41 11h5M58 11h1M63 11h6M71 11h2M28 12h.1M42 12h.1M44 12h.1M58 12h.1M62 12h3M68 12h1M72 12h2M22 13h.1M24 13h.1M38 13h6M52 13h.1M57 13h.1M59 13h1M62 13h.1M71 13h1M17 14h.1M23 14h1M38 14h2M42 14h1M55 14h.1M17 15h.1M20 15h2M24 15h.1M38 15h1M42 15h2M48 15h3M53 15h.1M55 15h.1M62 15h.1M73 15h1M20 16h4M38 16h1M41 16h10M53 16h.1M55 16h.1M74 16h.1M18 17h3M23 17h2M37 17h.1M39 17h.1M41 17h14M17 18h3M22 18h2M37 18h2M41 18h13M37 19h5M44 19h4M52 19h.1M2 20h.1M28 20h.1M38 20h3M43 20h1M48 20h.1M0 21h1M3 21h.1M28 21h.1M36 21h2M40 21h3M0 22h1M3 22h2M9 22h3M25 22h.1M28 22h.1M32 22h6M44 22h2M59 22h.1M62 22h.1M1 23h10M21 23h.1M28 23h2M37 23h10M53 23h.1M58 23h.1M60 23h.1M63 23h1M3 24h2M7 24h.1M9 24h2M25 24h.1M27 24h.1M29 24h.1M38 24h6M47 24h5M54 24h3M63 24h1M72 24h.1M5 25h.1M7 25h3M13 25h.1M27 25h.1M39 25h.1M48 25h9M63 25h.1M72 25h.1M6 26h3M18 26h.1M27 26h.1M38 26h.1M48 26h3M53 26h3M63 26h8M2 27h2M6 27h.1M13 27h1M18 27h1M25 27h.1M38 27h.1M49 27h4M57 27h2M63 27h2M67 27h1M70 27h2M74 27h.1M0 28h1M5 28h2M13 28h.1M49 28h.1M51 28h2M57 28h.1M60 28h1M66 28h.1M70 28h3M0 29h7M12 29h.1M23 29h2M48 29h.1M50 29h14M66 29h4M0 30h2M4 30h9M18 30h.1M23 30h1M48 30h4M59 30h1M62 30h8M2 31h.1M8 31h4M18 31h1M25 31h3M30 31h6M40 31h.1M47 31h3M61 31h1M66 31h3M12 32h.1M18 32h.1M24 32h1M29 32h1M32 32h.1M35 32h5M46 32h1M49 32h1M66 32h8M13 33h.1M19 33h.1M23 33h2M29 33h12M45 33h5M65 33h2M69 33h.1M71 33h3M14 34h12M29 34h6M38 34h3M43 34h.1M45 34h3M57 34h1M64 34h3M69 34h.1M71 34h3M17 35h10M29 35h4M35 35h.1M40 35h1M45 35h.1M48 35h2M52 35h.1M54 35h.1M58 35h.1M61 35h.1M72 35h2M19 36h.1M21 36h7M30 36h1M33 36h.1M36 36h1M39 36h1M44 36h1M49 36h3M54 36h2M58 36h3M73 36h1M21 37h10M33 37h14M49 37h3M54 37h7M73 37h.1M21 38h23M46 38h9M57 38h1M72 38h1M11 39h2M17 39h1M21 39h.1M23 39h20M48 39h11M61 39h1M72 39h2M11 40h18M32 40h1M35 40h7M50 40h9M62 40h7M72 40h2"/>
<path stroke="#eaf1f5" d="M29 0h.1M37 0h.1M40 0h1M47 0h2M51 0h.1M54 0h1M57 0h7M67 0h.1M70 0h1M73 0h1M32 1h1M37 1h4M43 1h.1M45 1h2M50 1h9M64 1h.1M66 1h4M73 1h1M32 2h1M35 2h8M45 2h1M49 2h2M53 2h1M57 2h.1M61 2h.1M63 2h9M32 3h.1M34 3h6M42 3h1M45 3h5M52 3h12M69 3h2M74 3h.1M32 4h6M41 4h6M49 4h14M69 4h.1M31 5h7M40 5h20M62 5h3M69 5h1M30 6h21M54 6h6M63 6h2M71 6h.1M29 7h2M33 7h1M36 7h.1M38 7h1M41 7h2M45 7h6M54 7h2M59 7h12M74 7h.1M26 8h5M33 8h8M49 8h2M55 8h6M63 8h3M74 8h.1M25 9h.1M27 9h4M35 9h3M40 9h.1M43 9h2M58 9h3M63 9h.1M66 9h.1M69 9h1M73 9h.1M15 10h.1M20 10h8M30 10h1M34 10h1M37 10h.1M39 10h1M45 10h.1M48 10h.1M61 10h.1M63 10h.1M65 10h1M71 10h2M16 11h.1M21 11h12M35 11h5M60 11h2M70 11h.1M74 11h.1M20 12h7M29 12h6M37 12h4M43 12h.1M59 12h2M66 12h1M70 12h1M13 13h1M16 13h5M23 13h.1M25 13h10M37 13h.1M58 13h.1M61 13h.1M63 13h7M73 13h1M12 14h2M16 14h.1M18 14h4M25 14h12M41 14h.1M56 14h12M70 14h4M15 15h1M18 15h1M23 15h.1M25 15h3M32 15h5M40 15h1M52 15h.1M56 15h5M63 15h9M12 16h7M25 16h2M33 16h4M40 16h.1M52 16h.1M56 16h3M62 16h8M72 16h1M12 17h5M22 17h.1M26 17h2M30 17h1M34 17h2M40 17h.1M56 17h18M0 18h.1M13 18h3M21 18h.1M25 18h11M40 18h.1M55 18h.1M57 18h17M0 19h.1M3 19h3M13 19h23M43 19h.1M49 19h2M53 19h2M58 19h1M61 19h8M71 19h3M0 20h1M3 20h4M9 20h8M22 20h.1M24 20h3M29 20h8M42 20h.1M45 20h2M49 20h5M56 20h3M61 20h13M2 21h.1M4 21h3M9 21h8M21 21h1M24 21h3M29 21h6M39 21h.1M44 21h7M55 21h9M72 21h2M2 22h.1M6 22h2M13 22h5M20 22h4M26 22h1M29 22h2M39 22h4M47 22h11M60 22h1M63 22h1M72 22h2M12 23h8M22 23h5M48 23h4M54 23h3M65 23h.1M72 23h2M12 24h12M26 24h.1M53 24h.1M65 24h.1M71 24h.1M73 24h1M11 25h1M14 25h4M20 25h6M38 25h.1M64 25h1M67 25h4M73 25h1M10 26h7M19 26h4M25 26h1M52 26h.1M72 26h2M7 27h3M12 27h.1M15 27h2M20 27h4M54 27h2M66 27h.1M69 27h.1M73 27h.1M2 28h2M8 28h2M12 28h.1M14 28h1M17 28h7M50 28h.1M54 28h2M58 28h1M62 28h3M67 28h2M74 28h.1M8 29h3M13 29h9M49 29h.1M65 29h.1M71 29h3M14 30h3M19 30h3M61 30h.1M71 30h.1M74 30h.1M13 31h4M20 31h4M70 31h4M13 32h4M19 32h4M26 32h2M31 32h.1M33 32h1M14 33h4M20 33h2M26 33h2M70 33h.1M27 34h1M36 34h1M42 34h.1M44 34h.1M70 34h.1M28 35h.1M36 35h3M42 35h2M46 35h1M38 36h.1M41 36h2M46 36h2M53 36h.1M57 36h.1M72 36h.1M48 37h.1M53 37h.1M72 37h.1M74 37h.1M74 38h.1M60 40h1M70 40h1"/>
<path stroke="#d1e5f0" d="M25 0h3M30 0h6M16 1h.1M25 1h6M34 1h2M48 1h1M16 2h.1M28 2h3M47 2h1M52 2h.1M28 3h3M33 3h.1M41 3h.1M51 3h.1M65 3h3M26 4h5M48 4h.1M64 4h1M67 4h1M25 5h2M29 5h1M66 5h2M4 6h.1M26 6h1M29 6h.1M68 6h2M25 7h3M37 7h.1M18 8h.1M25 8h.1M16 9h.1M18 9h.1M20 9h4M32 9h2M39 9h.1M0 10h.1M11 10h3M16 10h3M29 10h.1M32 10h1M38 10h.1M11 11h4M17 11h3M12 12h2M16 12h3M36 12h.1M12 13h.1M15 13h.1M36 13h.1M11 14h.1M15 14h.1M69 14h.1M0 15h.1M12 15h2M29 15h2M0 16h1M11 16h.1M28 16h4M60 16h1M71 16h.1M0 17h1M3 17h1M10 17h1M29 17h.1M32 17h1M1 18h7M10 18h2M56 18h.1M1 19h1M7 19h5M56 19h1M60 19h.1M70 19h.1M8 20h.1M19 20h2M23 20h.1M55 20h.1M60 20h.1M8 21h.1M18 21h2M23 21h.1M52 21h2M65 21h6M19 22h.1M65 22h.1M71 22h.1M66 23h.1M69 23h.1M71 23h.1M66 24h4M19 25h.1M66 25h.1M24 26h.1M11 27h.1M11 28h.1M16 28h.1M72 30h1"/>
<path stroke="#a7d0e4" d="M0 0h1M8 0h2M12 0h12M1 1h2M9 1h.1M12 1h3M17 1h4M23 1h1M15 2h.1M17 2h.1M19 2h2M24 2h3M16 3h.1M25 3h2M25 4h.1M66 4h.1M4 5h2M18 5h1M28 5h.1M3 6h.1M5 6h1M16 6h3M25 6h.1M28 6h.1M66 6h1M4 7h3M16 7h4M3 8h3M15 8h2M20 8h3M0 9h1M3 9h2M11 9h4M17 9h.1M19 9h.1M1 10h9M0 11h2M4 11h6M0 12h1M4 12h7M15 12h.1M0 13h4M6 13h3M11 13h.1M0 14h.1M2 14h8M1 15h10M2 16h6M10 16h.1M2 17h.1M5 17h4M9 18h.1M18 20h.1M66 22h4M67 23h1M70 23h.1"/>
<path stroke="#78b4d5" d="M2 0h2M7 0h.1M11 0h.1M0 1h.1M4 1h1M7 1h1M10 1h1M22 1h.1M0 2h14M18 2h.1M22 2h1M0 3h1M3 3h4M10 3h.1M13 3h2M17 3h7M4 4h3M13 4h.1M15 4h9M0 5h.1M3 5h.1M7 5h.1M13 5h4M20 5h4M7 6h.1M15 6h.1M20 6h4M3 7h.1M11 7h1M14 7h1M21 7h3M0 8h.1M7 8h7M19 8h.1M24 8h.1M2 9h.1M6 9h4M3 11h.1M2 12h1M5 13h.1M10 13h.1M1 14h.1M9 16h.1"/>
<path stroke="#4393c3" d="M5 0h1M6 1h.1M2 3h.1M8 3h1M11 3h1M0 4h3M8 4h4M14 4h.1M1 5h1M8 5h4M0 6h2M8 6h6M0 7h2M8 7h2M13 7h.1M1 8h1"/>
</g>
<use href="#ol"/>
</g>
<rect x="0" y="0" width="262.4" height="142.2" fill="none" stroke="#8c8c8c" stroke-width="1"/>
<text class="pl" x="6.8" y="30.0" fill="#000" style="fill:#000">(d)</text>
<text x="265.7" y="117.7">30°N</text>
<text x="265.7" y="82.3">35°N</text>
<text x="265.7" y="46.9">40°N</text>
<text x="265.7" y="11.5">45°N</text>
<text x="14.1" y="154.6" text-anchor="middle">65°E</text>
<text x="49.5" y="154.6" text-anchor="middle">70°E</text>
<text x="84.9" y="154.6" text-anchor="middle">75°E</text>
<text x="120.3" y="154.6" text-anchor="middle">80°E</text>
<text x="155.7" y="154.6" text-anchor="middle">85°E</text>
<text x="191.1" y="154.6" text-anchor="middle">90°E</text>
<text x="226.5" y="154.6" text-anchor="middle">95°E</text>
<text x="261.9" y="154.6" text-anchor="middle">100°E</text>
<g>
<path d="M0 159.40L12.23 155.80V163.00Z" fill="#67001f"/>
<path d="M262.40 159.40L250.17 155.80V163.00Z" fill="#053061"/>
<rect x="11.93" y="155.80" width="15.21" height="7.20" fill="#67001f"/>
<rect x="26.84" y="155.80" width="15.21" height="7.20" fill="#991027"/>
<rect x="41.75" y="155.80" width="15.21" height="7.20" fill="#be3036"/>
<rect x="56.65" y="155.80" width="15.21" height="7.20" fill="#d6604d"/>
<rect x="71.56" y="155.80" width="15.21" height="7.20" fill="#ea8e70"/>
<rect x="86.47" y="155.80" width="15.21" height="7.20" fill="#f7b799"/>
<rect x="101.38" y="155.80" width="15.21" height="7.20" fill="#fddbc7"/>
<rect x="116.29" y="155.80" width="15.21" height="7.20" fill="#f9eee7"/>
<rect x="131.20" y="155.80" width="15.21" height="7.20" fill="#eaf1f5"/>
<rect x="146.11" y="155.80" width="15.21" height="7.20" fill="#d1e5f0"/>
<rect x="161.02" y="155.80" width="15.21" height="7.20" fill="#a7d0e4"/>
<rect x="175.93" y="155.80" width="15.21" height="7.20" fill="#78b4d5"/>
<rect x="190.84" y="155.80" width="15.21" height="7.20" fill="#4393c3"/>
<rect x="205.75" y="155.80" width="15.21" height="7.20" fill="#2c75b4"/>
<rect x="220.65" y="155.80" width="15.21" height="7.20" fill="#185493"/>
<rect x="235.56" y="155.80" width="15.21" height="7.20" fill="#053061"/>
<path d="M0 159.40L11.93 155.80H250.47L262.40 159.40L250.47 163.00H11.93Z" fill="none" stroke="#777" stroke-width="0.6"/>
<text x="11.93" y="180.60" text-anchor="middle">−20</text>
<text x="71.56" y="180.60" text-anchor="middle">−10</text>
<text x="131.20" y="180.60" text-anchor="middle">0</text>
<text x="190.84" y="180.60" text-anchor="middle">10</text>
<text x="250.47" y="180.60" text-anchor="middle">20</text>
<path d="M11.93 163.00v4.2M71.56 163.00v4.2M131.20 163.00v4.2M190.84 163.00v4.2M250.47 163.00v4.2" stroke="#222" stroke-width="0.9" fill="none"/>
<text class="cm" x="131.2" y="197.8" text-anchor="middle" xml:space="preserve">ERA5 annual precip. trend  (% yr<tspan class="sup" dx="1.2" dy="-5.9">−1</tspan><tspan dy="5.9" dx="0">)</tspan></text>
</g>
</g>
<g transform="translate(639.3,235.4)">
<path d="M14.10 0V142.2M49.50 0V142.2M84.90 0V142.2M120.30 0V142.2M155.70 0V142.2M191.10 0V142.2M226.50 0V142.2M261.90 0V142.2M0 112.68H262.4M0 77.28H262.4M0 41.88H262.4M0 6.48H262.4" stroke="#e2e2e2" stroke-width="0.7" fill="none"/>
<g clip-path="url(#cp)">
<g class="d" transform="translate(-0.06,141.00) scale(3.540,-3.540)">
<path stroke="#000004" d="M47 4h9M60 7h.1M60 8h.1M66 8h.1M26 12h.1M60 14h2M64 14h2M72 14h2M47 17h.1M37 18h5M44 18h6M54 18h.1M38 19h5M45 19h1M49 19h1M30 20h5M37 20h5M24 23h.1M65 23h.1M24 24h.1M64 24h2M23 25h1M21 26h3M22 27h.1M45 32h1M56 32h.1M40 33h.1M44 33h1M52 33h3M28 34h.1M31 34h9M42 34h2M52 34h4M60 34h2"/>
<path stroke="#180f3d" d="M28 0h.1M50 3h4M57 4h.1M49 5h2M55 5h1M50 6h.1M60 6h.1M61 7h.1M65 7h.1M61 8h4M67 8h1M48 10h.1M69 10h1M69 11h2M50 12h.1M70 12h2M61 13h1M70 13h3M63 14h.1M67 14h.1M62 15h.1M56 16h1M46 17h.1M48 17h.1M43 18h.1M55 18h.1M31 19h4M37 19h.1M44 19h.1M47 19h1M36 20h.1M45 20h.1M47 20h1M24 22h2M28 22h.1M63 22h1M64 23h.1M66 23h.1M23 24h.1M63 24h.1M74 24h.1M74 25h.1M74 26h.1M21 27h.1M20 28h2M40 31h.1M42 31h.1M40 32h4M53 32h.1M28 33h.1M41 33h2M56 33h.1M29 34h.1M41 34h.1M52 35h4"/>
<path stroke="#440f76" d="M29 0h1M28 1h1M51 2h2M48 3h1M55 3h.1M47 5h1M53 5h1M60 5h.1M49 6h.1M56 6h.1M61 6h.1M64 7h.1M66 7h3M59 8h.1M69 8h1M61 9h1M65 9h5M26 10h.1M71 10h.1M63 11h.1M72 11h.1M25 12h.1M51 12h.1M68 12h1M63 13h4M69 13h.1M74 13h.1M59 14h.1M69 14h2M60 15h1M63 15h3M73 15h.1M46 16h2M39 17h.1M41 17h1M45 17h.1M49 17h1M54 17h2M32 18h2M51 18h.1M30 19h.1M36 19h.1M43 20h1M46 20h.1M49 20h1M29 21h3M39 21h1M46 21h.1M27 22h.1M29 22h.1M62 22h.1M65 22h1M25 23h.1M63 23h.1M74 23h.1M25 24h.1M61 24h.1M73 24h.1M22 25h.1M25 25h.1M63 25h2M73 25h.1M73 26h.1M23 27h.1M19 28h.1M41 31h.1M43 31h.1M29 32h.1M52 32h.1M54 32h1M29 33h1M32 33h.1M39 33h.1M46 33h.1M60 33h2M30 34h.1M45 34h.1M57 34h.1M36 35h.1M38 35h.1M44 35h.1M59 35h.1M51 40h.1"/>
<path stroke="#721f81" d="M27 0h.1M27 1h.1M30 1h.1M51 1h.1M53 1h.1M28 2h.1M47 2h.1M50 2h.1M54 2h.1M47 3h.1M46 4h.1M58 4h2M52 5h.1M57 5h2M61 5h.1M51 6h.1M55 6h.1M57 6h.1M59 6h.1M62 6h5M48 7h.1M58 7h1M62 7h1M71 8h1M74 8h.1M48 9h.1M60 9h.1M63 9h1M72 9h.1M25 10h.1M27 10h.1M68 10h.1M73 10h.1M25 11h1M62 11h.1M65 11h.1M67 11h1M73 11h1M22 12h.1M62 12h1M67 12h.1M73 12h.1M60 13h.1M68 13h.1M34 14h.1M68 14h.1M34 15h.1M56 15h1M59 15h.1M71 15h1M74 15h.1M49 16h.1M52 16h.1M54 16h1M63 16h3M37 17h1M43 17h.1M51 17h.1M35 18h1M53 18h.1M51 19h.1M54 19h1M29 20h.1M33 21h1M36 21h.1M38 21h.1M41 21h1M45 21h.1M45 22h.1M59 22h.1M61 22h.1M23 23h.1M26 23h.1M60 23h2M67 23h.1M60 24h.1M62 24h.1M67 24h.1M21 25h.1M62 25h.1M66 25h.1M72 25h.1M20 26h.1M33 26h1M36 26h.1M18 27h2M24 27h.1M36 27h.1M18 28h.1M23 28h.1M32 28h.1M36 28h.1M46 31h.1M28 32h.1M30 32h.1M39 32h.1M57 32h.1M27 33h.1M31 33h.1M35 33h.1M38 33h.1M57 33h.1M27 34h.1M51 34h.1M59 34h.1M34 35h1M37 35h.1M42 35h1M45 35h.1M51 35h.1M57 35h.1M61 35h.1M52 36h1M56 36h2M52 37h.1M50 39h1M50 40h.1"/>
<path stroke="#9e2f7f" d="M31 0h.1M47 0h1M50 0h1M74 0h.1M49 1h1M52 1h.1M29 2h1M46 2h.1M48 2h1M28 3h.1M46 3h.1M56 3h1M68 3h.1M27 4h.1M45 4h.1M61 4h1M46 5h.1M62 5h1M65 5h.1M67 5h.1M70 5h.1M46 6h2M53 6h.1M58 6h.1M71 6h.1M74 6h.1M34 7h.1M47 7h.1M49 7h.1M55 7h.1M57 7h.1M70 7h2M19 8h.1M21 8h.1M33 8h1M73 8h.1M24 9h.1M59 9h.1M71 9h.1M73 9h1M17 10h.1M22 10h.1M24 10h.1M47 10h.1M62 10h5M72 10h.1M74 10h.1M18 11h.1M21 11h1M24 11h.1M27 11h.1M29 11h.1M48 11h.1M50 11h.1M64 11h.1M66 11h.1M17 12h.1M24 12h.1M27 12h.1M49 12h.1M64 12h2M74 12h.1M21 13h5M32 13h.1M34 13h.1M50 13h.1M21 14h1M33 14h.1M35 14h.1M52 14h.1M55 14h3M35 15h1M47 15h.1M49 15h4M55 15h.1M67 15h2M14 16h.1M34 16h1M37 16h2M45 16h.1M50 16h1M53 16h.1M58 16h.1M61 16h1M31 17h5M40 17h.1M44 17h.1M52 17h1M57 17h.1M62 17h.1M64 17h.1M31 18h.1M56 18h.1M28 19h1M53 19h.1M56 19h.1M28 20h.1M51 20h.1M54 20h1M24 21h4M35 21h.1M37 21h.1M43 21h.1M47 21h.1M50 21h.1M61 21h3M23 22h.1M30 22h.1M42 22h.1M46 22h.1M58 22h.1M60 22h.1M67 22h.1M27 23h.1M45 23h1M58 23h1M73 23h.1M8 24h.1M14 24h2M22 24h.1M58 24h.1M72 24h.1M16 25h.1M20 25h.1M33 25h3M38 25h.1M61 25h.1M25 26h.1M32 26h.1M35 26h.1M37 26h.1M62 26h1M66 26h.1M72 26h.1M17 27h.1M35 27h.1M40 27h1M59 27h.1M73 27h.1M17 28h.1M35 28h.1M37 28h.1M58 28h.1M17 29h1M22 29h.1M45 29h2M16 30h.1M34 30h1M39 30h1M42 30h1M47 30h.1M58 30h1M61 30h2M16 31h.1M28 31h1M38 31h1M44 31h1M47 31h.1M52 31h1M55 31h4M61 31h.1M22 32h.1M26 32h1M31 32h.1M47 32h.1M51 32h.1M58 32h.1M60 32h1M26 33h.1M33 33h1M37 33h.1M47 33h.1M59 33h.1M46 34h.1M48 34h.1M63 34h.1M29 35h.1M31 35h2M39 35h2M46 35h1M58 35h.1M60 35h.1M62 35h.1M46 36h1M54 36h1M59 36h.1M43 37h.1M47 37h.1M50 37h.1M53 37h.1M57 37h.1M50 38h2M52 39h.1M52 40h.1"/>
<path stroke="#cd4071" d="M11 0h.1M26 0h.1M32 0h.1M45 0h1M49 0h.1M52 0h1M55 0h.1M1 1h.1M5 1h.1M18 1h.1M26 1h.1M31 1h1M36 1h.1M46 1h2M54 1h1M63 1h.1M1 2h.1M26 2h1M31 2h.1M55 2h.1M26 3h1M29 3h1M45 3h.1M58 3h3M63 3h.1M66 3h1M29 4h.1M43 4h.1M63 4h.1M65 4h.1M67 4h2M45 5h.1M64 5h.1M66 5h.1M68 5h.1M71 5h.1M21 6h.1M38 6h.1M41 6h.1M45 6h.1M52 6h.1M54 6h.1M68 6h2M20 7h1M39 7h.1M42 7h4M50 7h2M56 7h.1M73 7h1M20 8h.1M22 8h.1M32 8h.1M47 8h2M58 8h.1M17 9h.1M20 9h1M23 9h.1M25 9h1M33 9h1M42 9h.1M47 9h.1M49 9h.1M58 9h.1M21 10h.1M23 10h.1M28 10h2M58 10h.1M60 10h1M13 11h.1M16 11h1M32 11h.1M34 11h.1M49 11h.1M51 11h.1M58 11h.1M60 11h1M16 12h.1M18 12h1M21 12h.1M23 12h.1M32 12h.1M52 12h.1M58 12h1M61 12h.1M19 13h1M31 13h.1M33 13h.1M51 13h1M58 13h1M20 14h.1M24 14h.1M32 14h.1M49 14h2M53 14h1M14 15h.1M23 15h.1M32 15h1M37 15h3M45 15h1M48 15h.1M54 15h.1M58 15h.1M13 16h.1M18 16h.1M29 16h1M33 16h.1M36 16h.1M40 16h.1M42 16h1M59 16h.1M67 16h.1M69 16h3M74 16h.1M13 17h.1M28 17h.1M30 17h.1M61 17h.1M63 17h.1M65 17h2M70 17h1M28 18h2M52 18h.1M57 18h.1M60 18h.1M63 18h1M52 19h.1M63 19h.1M0 20h.1M12 20h.1M27 20h.1M56 20h.1M62 20h.1M64 20h.1M67 20h.1M19 21h1M44 21h.1M48 21h1M51 21h.1M56 21h.1M58 21h1M65 21h1M6 22h.1M8 22h.1M11 22h.1M31 22h.1M33 22h.1M40 22h1M43 22h1M47 22h.1M57 22h.1M73 22h1M8 23h.1M22 23h.1M28 23h3M34 23h.1M39 23h.1M41 23h.1M44 23h.1M47 23h.1M72 23h.1M26 24h.1M30 24h2M37 24h2M42 24h.1M44 24h3M57 24h.1M59 24h.1M15 25h.1M26 25h.1M31 25h1M37 25h.1M41 25h.1M44 25h.1M46 25h1M58 25h2M67 25h.1M71 25h.1M16 26h3M38 26h3M47 26h.1M64 26h1M32 27h2M37 27h2M58 27h.1M61 27h2M66 27h1M74 27h.1M8 28h.1M27 28h.1M33 28h1M38 28h2M59 28h1M63 28h.1M69 28h.1M14 29h.1M16 29h.1M20 29h1M35 29h2M43 29h1M58 29h5M1 30h.1M15 30h.1M27 30h.1M36 30h2M41 30h.1M44 30h.1M46 30h.1M48 30h.1M57 30h.1M60 30h.1M70 30h.1M14 31h.1M22 31h1M27 31h.1M30 31h.1M33 31h.1M35 31h.1M37 31h.1M48 31h.1M54 31h.1M60 31h.1M62 31h.1M66 31h.1M15 32h.1M21 32h.1M24 32h1M38 32h.1M59 32h.1M62 32h.1M65 32h.1M16 33h.1M20 33h.1M25 33h.1M36 33h.1M51 33h.1M58 33h.1M63 33h.1M47 34h.1M49 34h.1M30 35h.1M48 35h2M36 36h.1M42 36h1M45 36h.1M48 36h.1M51 36h.1M65 36h.1M41 37h1M46 37h.1M48 37h1M51 37h.1M54 37h.1M58 37h.1M16 38h.1M41 38h2M53 38h1M42 39h.1M48 39h1M53 39h.1M26 40h.1M42 40h.1M46 40h.1M48 40h.1"/>
<path stroke="#f1605d" d="M0 0h.1M6 0h.1M17 0h1M33 0h.1M37 0h1M42 0h1M54 0h.1M59 0h.1M61 0h6M69 0h1M73 0h.1M6 1h1M9 1h.1M15 1h.1M19 1h.1M25 1h.1M33 1h.1M37 1h2M64 1h.1M69 1h1M73 1h1M0 2h.1M2 2h.1M8 2h.1M13 2h.1M24 2h1M32 2h2M36 2h1M42 2h.1M56 2h.1M58 2h1M62 2h.1M67 2h.1M5 3h.1M25 3h.1M31 3h.1M34 3h.1M43 3h.1M62 3h.1M64 3h1M69 3h.1M73 3h.1M26 4h.1M28 4h.1M30 4h1M42 4h.1M44 4h.1M64 4h.1M66 4h.1M74 4h.1M28 5h.1M42 5h.1M69 5h.1M73 5h1M0 6h.1M3 6h.1M20 6h.1M26 6h.1M31 6h.1M39 6h1M72 6h1M1 7h.1M19 7h.1M27 7h1M31 7h.1M33 7h.1M35 7h.1M37 7h1M41 7h.1M53 7h1M8 8h.1M23 8h1M29 8h2M35 8h.1M41 8h1M45 8h.1M51 8h.1M55 8h.1M8 9h.1M14 9h.1M16 9h.1M18 9h1M22 9h.1M27 9h.1M29 9h3M35 9h.1M43 9h.1M45 9h.1M54 9h.1M15 10h1M18 10h1M31 10h5M42 10h1M49 10h.1M59 10h.1M14 11h1M23 11h.1M28 11h.1M30 11h1M41 11h1M52 11h.1M57 11h.1M59 11h.1M14 12h.1M20 12h.1M28 12h2M33 12h1M57 12h.1M60 12h.1M16 13h1M27 13h.1M30 13h.1M35 13h.1M42 13h.1M48 13h1M53 13h.1M55 13h2M3 14h1M15 14h.1M23 14h.1M25 14h.1M30 14h1M36 14h.1M39 14h1M42 14h.1M46 14h2M15 15h.1M17 15h2M21 15h1M24 15h.1M29 15h2M42 15h.1M70 15h.1M15 16h.1M17 16h.1M28 16h.1M31 16h1M41 16h.1M44 16h.1M60 16h.1M68 16h.1M73 16h.1M5 17h.1M12 17h.1M14 17h.1M24 17h.1M29 17h.1M58 17h2M69 17h.1M12 18h1M16 18h.1M25 18h.1M27 18h.1M58 18h1M61 18h1M67 18h2M73 18h.1M0 19h.1M9 19h.1M12 19h2M16 19h.1M20 19h.1M23 19h.1M25 19h1M58 19h1M61 19h1M65 19h1M69 19h.1M72 19h1M1 20h.1M3 20h.1M6 20h5M16 20h4M26 20h.1M52 20h1M57 20h.1M59 20h2M63 20h.1M72 20h1M0 21h2M4 21h.1M6 21h5M17 21h1M21 21h.1M23 21h.1M53 21h2M57 21h.1M60 21h.1M67 21h1M74 21h.1M1 22h.1M5 22h.1M7 22h.1M9 22h.1M12 22h.1M15 22h.1M19 22h1M22 22h.1M32 22h.1M36 22h.1M38 22h1M48 22h.1M71 22h.1M3 23h.1M5 23h2M9 23h1M12 23h5M19 23h2M32 23h1M35 23h.1M37 23h1M40 23h.1M42 23h1M48 23h.1M3 24h.1M7 24h.1M13 24h.1M21 24h.1M27 24h.1M29 24h.1M33 24h2M40 24h1M48 24h.1M69 24h.1M71 24h.1M14 25h.1M17 25h1M27 25h2M40 25h.1M42 25h.1M45 25h.1M48 25h.1M52 25h.1M68 25h1M14 26h1M27 26h2M31 26h.1M43 26h1M52 26h.1M58 26h1M61 26h.1M67 26h.1M69 26h.1M71 26h.1M1 27h.1M15 27h1M25 27h.1M28 27h3M42 27h3M54 27h.1M60 27h.1M64 27h1M68 27h1M72 27h.1M12 28h.1M16 28h.1M24 28h.1M26 28h.1M28 28h3M41 28h5M53 28h.1M61 28h1M71 28h.1M0 29h.1M7 29h.1M15 29h.1M19 29h.1M23 29h1M27 29h.1M30 29h1M33 29h1M38 29h3M48 29h1M52 29h1M64 29h1M69 29h2M6 30h.1M14 30h.1M17 30h.1M20 30h1M28 30h5M45 30h.1M49 30h.1M52 30h.1M56 30h.1M65 30h1M69 30h.1M72 30h1M10 31h.1M15 31h.1M19 31h2M24 31h1M31 31h1M34 31h.1M36 31h.1M49 31h.1M63 31h.1M65 31h.1M71 31h3M19 32h1M23 32h.1M32 32h2M37 32h.1M49 32h1M63 32h.1M66 32h3M73 32h1M0 33h.1M9 33h1M15 33h.1M21 33h2M49 33h1M66 33h.1M69 33h.1M6 34h.1M14 34h.1M16 34h1M19 34h.1M25 34h1M50 34h.1M58 34h.1M68 34h.1M6 35h.1M27 35h1M63 35h2M68 35h.1M5 36h1M31 36h2M35 36h.1M37 36h.1M44 36h.1M49 36h1M61 36h.1M63 36h1M18 37h.1M20 37h.1M22 37h.1M40 37h.1M45 37h.1M55 37h1M59 37h.1M61 37h.1M65 37h.1M9 38h.1M15 38h.1M17 38h.1M20 38h.1M44 38h.1M46 38h2M57 38h.1M59 38h.1M13 39h.1M17 39h.1M44 39h2M55 39h1M5 40h1M16 40h2M21 40h.1M24 40h.1M43 40h2M47 40h.1M49 40h.1M53 40h.1M55 40h.1M60 40h.1"/>
<path stroke="#fd9668" d="M1 0h.1M3 0h2M7 0h.1M14 0h2M19 0h2M24 0h1M34 0h2M39 0h.1M56 0h2M60 0h.1M68 0h.1M0 1h.1M2 1h2M8 1h.1M10 1h.1M17 1h.1M20 1h.1M34 1h1M40 1h.1M42 1h1M45 1h.1M56 1h.1M58 1h4M65 1h1M3 2h2M7 2h.1M11 2h.1M15 2h.1M18 2h.1M35 2h.1M38 2h.1M40 2h1M45 2h.1M57 2h.1M60 2h1M65 2h.1M68 2h1M72 2h.1M74 2h.1M3 3h1M6 3h2M14 3h.1M20 3h.1M32 3h1M36 3h1M39 3h.1M41 3h1M44 3h.1M70 3h.1M72 3h.1M74 3h.1M0 4h.1M3 4h1M18 4h.1M25 4h.1M32 4h.1M35 4h1M38 4h.1M72 4h1M0 5h.1M3 5h.1M8 5h1M21 5h.1M24 5h3M30 5h4M36 5h.1M39 5h.1M43 5h1M72 5h.1M1 6h1M5 6h.1M8 6h1M19 6h.1M22 6h.1M24 6h.1M27 6h.1M29 6h.1M32 6h3M37 6h.1M42 6h2M3 7h.1M8 7h.1M18 7h.1M22 7h1M25 7h1M29 7h1M32 7h.1M36 7h.1M40 7h.1M1 8h4M7 8h.1M11 8h.1M17 8h1M27 8h1M37 8h1M43 8h.1M54 8h.1M56 8h1M6 9h1M9 9h.1M11 9h2M15 9h.1M28 9h.1M36 9h1M44 9h.1M46 9h.1M51 9h.1M10 10h4M20 10h.1M40 10h1M44 10h2M51 10h.1M55 10h.1M5 11h1M12 11h.1M19 11h1M33 11h.1M35 11h2M43 11h1M47 11h.1M53 11h.1M55 11h.1M13 12h.1M15 12h.1M31 12h.1M35 12h2M41 12h1M53 12h1M56 12h.1M6 13h1M14 13h1M18 13h.1M28 13h1M36 13h2M43 13h4M54 13h.1M1 14h.1M6 14h.1M14 14h.1M16 14h3M28 14h1M37 14h1M45 14h.1M1 15h2M13 15h.1M20 15h.1M41 15h.1M43 15h1M2 16h.1M8 16h.1M16 16h.1M19 16h6M7 17h.1M11 17h.1M15 17h2M19 17h1M25 17h.1M27 17h.1M72 17h.1M74 17h.1M11 18h.1M14 18h1M18 18h.1M20 18h.1M23 18h1M65 18h1M70 18h2M1 19h.1M3 19h.1M10 19h1M17 19h1M27 19h.1M57 19h.1M60 19h.1M64 19h.1M67 19h1M70 19h.1M74 19h.1M2 20h.1M4 20h1M13 20h1M21 20h.1M24 20h1M58 20h.1M65 20h.1M68 20h1M71 20h.1M3 21h.1M5 21h.1M12 21h4M22 21h.1M69 21h.1M73 21h.1M0 22h.1M2 22h2M10 22h.1M13 22h1M16 22h2M21 22h.1M34 22h1M37 22h.1M49 22h3M68 22h2M72 22h.1M1 23h1M4 23h.1M11 23h.1M18 23h.1M36 23h.1M49 23h.1M56 23h1M70 23h1M2 24h.1M4 24h2M9 24h.1M11 24h.1M17 24h1M28 24h.1M36 24h.1M43 24h.1M49 24h1M55 24h.1M68 24h.1M70 24h.1M2 25h1M5 25h3M13 25h.1M19 25h.1M30 25h.1M39 25h.1M43 25h.1M49 25h.1M57 25h.1M70 25h.1M2 26h.1M26 26h.1M30 26h.1M42 26h.1M45 26h1M48 26h.1M57 26h.1M60 26h.1M68 26h.1M70 26h.1M2 27h.1M7 27h.1M11 27h.1M13 27h.1M27 27h.1M46 27h2M55 27h.1M57 27h.1M70 27h1M0 28h3M10 28h1M14 28h.1M25 28h.1M47 28h2M54 28h.1M56 28h1M68 28h.1M70 28h.1M73 28h1M1 29h.1M5 29h.1M8 29h.1M25 29h1M28 29h.1M32 29h.1M42 29h.1M55 29h2M66 29h.1M68 29h.1M72 29h.1M74 29h.1M0 30h.1M2 30h.1M7 30h1M18 30h1M22 30h4M51 30h.1M53 30h.1M55 30h.1M64 30h.1M67 30h1M71 30h.1M74 30h.1M6 31h.1M9 31h.1M17 31h1M26 31h.1M50 31h1M64 31h.1M67 31h2M0 32h1M6 32h.1M9 32h.1M14 32h.1M16 32h1M35 32h1M48 32h.1M64 32h.1M70 32h2M3 33h.1M5 33h1M11 33h.1M14 33h.1M17 33h2M24 33h.1M48 33h.1M64 33h1M67 33h1M71 33h1M74 33h.1M4 34h1M7 34h.1M9 34h1M15 34h.1M18 34h.1M20 34h.1M23 34h1M64 34h3M69 34h.1M72 34h.1M0 35h.1M3 35h2M15 35h2M20 35h.1M24 35h2M66 35h1M69 35h.1M0 36h.1M7 36h2M21 36h1M34 36h.1M38 36h.1M41 36h.1M60 36h.1M66 36h3M74 36h.1M0 37h.1M4 37h.1M7 37h1M15 37h2M19 37h.1M21 37h.1M23 37h.1M27 37h.1M32 37h1M44 37h.1M60 37h.1M62 37h2M0 38h.1M4 38h2M8 38h.1M14 38h.1M18 38h1M21 38h2M39 38h1M45 38h.1M49 38h.1M55 38h1M58 38h.1M60 38h.1M62 38h.1M64 38h.1M74 38h.1M0 39h.1M4 39h2M8 39h.1M15 39h1M19 39h7M36 39h.1M40 39h1M43 39h.1M54 39h.1M57 39h1M60 39h1M4 40h.1M10 40h.1M14 40h1M20 40h.1M22 40h1M27 40h1M31 40h.1M34 40h.1M36 40h.1M39 40h.1M41 40h.1M54 40h.1M56 40h1M61 40h.1"/>
<path stroke="#feca8d" d="M2 0h.1M8 0h2M12 0h1M22 0h1M40 0h1M44 0h.1M71 0h1M11 1h.1M13 1h1M16 1h.1M21 1h1M24 1h.1M41 1h.1M44 1h.1M57 1h.1M67 1h1M72 1h.1M6 2h.1M12 2h.1M14 2h.1M16 2h1M19 2h2M39 2h.1M43 2h.1M63 2h1M66 2h.1M70 2h1M73 2h.1M0 3h2M9 3h.1M13 3h.1M18 3h.1M21 3h.1M23 3h1M35 3h.1M38 3h.1M40 3h.1M71 3h.1M1 4h1M6 4h1M12 4h1M15 4h2M19 4h1M22 4h.1M34 4h.1M37 4h.1M39 4h.1M41 4h.1M70 4h1M1 5h1M4 5h.1M6 5h1M10 5h.1M16 5h.1M18 5h.1M20 5h.1M22 5h.1M29 5h.1M37 5h1M40 5h1M4 6h.1M6 6h1M10 6h.1M15 6h.1M18 6h.1M23 6h.1M25 6h.1M28 6h.1M30 6h.1M36 6h.1M0 7h.1M2 7h.1M4 7h2M9 7h2M16 7h1M24 7h.1M0 8h.1M9 8h1M12 8h2M16 8h.1M25 8h1M36 8h.1M39 8h.1M44 8h.1M46 8h.1M50 8h.1M52 8h1M0 9h1M3 9h2M10 9h.1M38 9h.1M50 9h.1M52 9h.1M56 9h1M0 10h2M6 10h1M37 10h.1M54 10h.1M57 10h.1M0 11h.1M7 11h.1M11 11h.1M38 11h2M45 11h1M56 11h.1M4 12h.1M6 12h.1M11 12h1M38 12h2M43 12h5M1 13h.1M3 13h1M13 13h.1M39 13h2M0 14h.1M2 14h.1M5 14h.1M11 14h.1M26 14h.1M41 14h.1M44 14h.1M0 15h.1M6 15h.1M16 15h.1M25 15h3M0 16h1M10 16h.1M12 16h.1M26 16h1M0 17h4M6 17h.1M8 17h1M18 17h.1M21 17h.1M23 17h.1M26 17h.1M68 17h.1M73 17h.1M0 18h.1M5 18h1M8 18h1M17 18h.1M19 18h.1M21 18h1M26 18h.1M74 18h.1M4 19h4M15 19h.1M19 19h.1M21 19h.1M24 19h.1M71 19h.1M15 20h.1M22 20h.1M66 20h.1M70 20h.1M74 20h.1M52 21h.1M71 21h1M53 22h1M56 22h.1M0 23h.1M50 23h5M68 23h1M1 24h.1M10 24h.1M19 24h1M51 24h3M56 24h.1M4 25h.1M9 25h.1M11 25h1M50 25h1M54 25h.1M56 25h.1M3 26h1M8 26h1M12 26h1M49 26h2M54 26h1M3 27h.1M5 27h.1M9 27h1M12 27h.1M14 27h.1M26 27h.1M52 27h.1M56 27h.1M4 28h3M9 28h.1M13 28h.1M15 28h.1M52 28h.1M55 28h.1M64 28h3M72 28h.1M2 29h1M6 29h.1M9 29h4M29 29h.1M50 29h1M54 29h.1M67 29h.1M73 29h.1M3 30h.1M5 30h.1M10 30h.1M12 30h1M50 30h.1M54 30h.1M0 31h3M5 31h.1M7 31h.1M70 31h.1M3 32h1M7 32h1M10 32h.1M18 32h.1M1 33h1M4 33h.1M73 33h.1M0 34h.1M2 34h1M8 34h.1M11 34h2M21 34h.1M71 34h.1M73 34h1M1 35h.1M7 35h1M11 35h.1M13 35h1M18 35h.1M23 35h.1M71 35h2M1 36h.1M3 36h1M11 36h.1M13 36h.1M15 36h5M23 36h.1M27 36h3M39 36h1M62 36h.1M70 36h.1M1 37h.1M3 37h.1M5 37h1M9 37h2M13 37h1M24 37h.1M30 37h.1M34 37h5M74 37h.1M1 38h.1M3 38h.1M7 38h.1M13 38h.1M24 38h4M35 38h.1M38 38h.1M61 38h.1M65 38h.1M9 39h1M14 39h.1M18 39h.1M27 39h2M32 39h.1M35 39h.1M38 39h.1M47 39h.1M59 39h.1M62 39h.1M64 39h1M69 39h.1M71 39h.1M1 40h.1M7 40h2M11 40h2M19 40h.1M25 40h.1M30 40h.1M37 40h1M58 40h1M67 40h.1M69 40h2M73 40h.1"/>
<path stroke="#fcfdbf" d="M12 1h.1M23 1h.1M71 1h.1M9 2h1M22 2h1M44 2h.1M10 3h2M15 3h2M19 3h.1M22 3h.1M5 4h.1M8 4h3M14 4h.1M21 4h.1M23 4h1M33 4h.1M40 4h.1M5 5h.1M11 5h4M17 5h.1M19 5h.1M23 5h.1M35 5h.1M11 6h3M16 6h1M7 7h.1M12 7h3M6 8h.1M15 8h.1M40 8h.1M2 9h.1M39 9h2M53 9h.1M55 9h.1M3 10h2M8 10h1M38 10h1M50 10h.1M52 10h1M56 10h.1M1 11h3M8 11h2M54 11h.1M0 12h3M5 12h.1M7 12h3M55 12h.1M0 13h.1M2 13h.1M5 13h.1M8 13h4M7 14h3M12 14h1M27 14h.1M43 14h.1M4 15h1M7 15h5M3 16h4M9 16h.1M11 16h.1M10 17h.1M22 17h.1M1 18h3M7 18h.1M10 18h.1M2 19h.1M22 19h.1M23 20h.1M70 21h.1M55 22h.1M0 24h.1M12 24h.1M0 25h1M10 25h.1M53 25h.1M55 25h.1M0 26h1M5 26h2M10 26h1M53 26h.1M56 26h.1M0 27h.1M4 27h.1M6 27h.1M8 27h.1M49 27h2M53 27h.1M50 28h1M4 29h.1M4 30h.1M9 30h.1M11 30h.1M4 31h.1M8 31h.1M11 31h2M2 32h.1M5 32h.1M11 32h2M7 33h1M12 33h1M70 33h.1M1 34h.1M22 34h.1M70 34h.1M2 35h.1M9 35h1M12 35h.1M19 35h.1M21 35h1M70 35h.1M74 35h.1M2 36h.1M10 36h.1M12 36h.1M14 36h.1M24 36h2M71 36h2M2 37h.1M12 37h.1M25 37h1M28 37h1M31 37h.1M66 37h7M2 38h.1M10 38h2M29 38h5M36 38h1M63 38h.1M66 38h7M1 39h2M7 39h.1M11 39h1M30 39h1M33 39h1M37 39h.1M39 39h.1M63 39h.1M66 39h2M70 39h.1M72 39h2M0 40h.1M2 40h1M29 40h.1M32 40h1M35 40h.1M40 40h.1M62 40h4M68 40h.1M72 40h.1M74 40h.1"/>
</g>
<use href="#ol"/>
</g>
<rect x="0" y="0" width="262.4" height="142.2" fill="none" stroke="#8c8c8c" stroke-width="1"/>
<text class="pl" x="6.8" y="30.0" fill="#000" style="fill:#000">(e)</text>
<text x="265.7" y="117.7">30°N</text>
<text x="265.7" y="82.3">35°N</text>
<text x="265.7" y="46.9">40°N</text>
<text x="265.7" y="11.5">45°N</text>
<text x="14.1" y="154.6" text-anchor="middle">65°E</text>
<text x="49.5" y="154.6" text-anchor="middle">70°E</text>
<text x="84.9" y="154.6" text-anchor="middle">75°E</text>
<text x="120.3" y="154.6" text-anchor="middle">80°E</text>
<text x="155.7" y="154.6" text-anchor="middle">85°E</text>
<text x="191.1" y="154.6" text-anchor="middle">90°E</text>
<text x="226.5" y="154.6" text-anchor="middle">95°E</text>
<text x="261.9" y="154.6" text-anchor="middle">100°E</text>
<g>
<path d="M0 159.40L12.23 155.80V163.00Z" fill="#000004"/>
<path d="M262.40 159.40L250.17 155.80V163.00Z" fill="#fcfdbf"/>
<rect x="11.93" y="155.80" width="24.15" height="7.20" fill="#000004"/>
<rect x="35.78" y="155.80" width="24.15" height="7.20" fill="#180f3d"/>
<rect x="59.64" y="155.80" width="24.15" height="7.20" fill="#440f76"/>
<rect x="83.49" y="155.80" width="24.15" height="7.20" fill="#721f81"/>
<rect x="107.35" y="155.80" width="24.15" height="7.20" fill="#9e2f7f"/>
<rect x="131.20" y="155.80" width="24.15" height="7.20" fill="#cd4071"/>
<rect x="155.05" y="155.80" width="24.15" height="7.20" fill="#f1605d"/>
<rect x="178.91" y="155.80" width="24.15" height="7.20" fill="#fd9668"/>
<rect x="202.76" y="155.80" width="24.15" height="7.20" fill="#feca8d"/>
<rect x="226.62" y="155.80" width="24.15" height="7.20" fill="#fcfdbf"/>
<path d="M0 159.40L11.93 155.80H250.47L262.40 159.40L250.47 163.00H11.93Z" fill="none" stroke="#777" stroke-width="0.6"/>
<text x="11.93" y="180.60" text-anchor="middle">0.0</text>
<text x="59.64" y="180.60" text-anchor="middle">0.2</text>
<text x="107.35" y="180.60" text-anchor="middle">0.4</text>
<text x="155.05" y="180.60" text-anchor="middle">0.6</text>
<text x="202.76" y="180.60" text-anchor="middle">0.8</text>
<text x="250.47" y="180.60" text-anchor="middle">1.0</text>
<path d="M11.93 163.00v4.2M59.64 163.00v4.2M107.35 163.00v4.2M155.05 163.00v4.2M202.76 163.00v4.2M250.47 163.00v4.2" stroke="#222" stroke-width="0.9" fill="none"/>
<text class="cl" x="131.2" y="197.8" text-anchor="middle" xml:space="preserve">WRF-ERA5 Pearson corr. coef. (-)</text>
</g>
</g>
<g transform="translate(9.2,462.6)">
<path d="M14.10 0V142.2M49.50 0V142.2M84.90 0V142.2M120.30 0V142.2M155.70 0V142.2M191.10 0V142.2M226.50 0V142.2M261.90 0V142.2M0 112.68H262.4M0 77.28H262.4M0 41.88H262.4M0 6.48H262.4" stroke="#e2e2e2" stroke-width="0.7" fill="none"/>
<g clip-path="url(#cp)">
<g class="d" transform="translate(-0.06,141.00) scale(3.540,-3.540)">
<path stroke="#67001f" d="M74 4h.1M74 5h.1M74 8h.1"/>
<path stroke="#67001f" d="M63 2h1M64 3h1M74 3h.1M74 6h.1M73 7h1M74 9h.1M23 25h1M19 26h.1M32 32h.1"/>
<path stroke="#b61f2e" d="M62 2h.1M65 2h.1M63 3h.1M66 3h.1M68 3h.1M63 4h1M66 4h2M71 4h2M16 5h.1M66 5h2M72 5h1M67 6h1M72 6h1M73 8h.1M73 9h.1M66 10h.1M74 10h.1M65 11h1M73 11h1M74 12h.1M74 13h.1M72 14h2M71 15h.1M73 15h.1M71 16h1M74 16h.1M27 17h.1M29 18h1M24 19h.1M30 19h.1M32 19h.1M25 20h2M29 20h2M36 20h.1M23 21h.1M25 21h1M17 22h1M24 22h2M18 23h1M24 23h.1M18 24h.1M20 24h1M23 24h2M18 25h2M25 25h.1M17 26h1M20 26h4M19 27h3M25 30h.1M27 30h.1M30 32h1M33 32h.1M32 33h.1M44 33h.1M71 39h.1M70 40h1M73 40h.1"/>
<path stroke="#dc6e57" d="M20 0h1M49 0h.1M64 0h.1M66 0h.1M69 0h3M17 1h.1M19 1h3M33 1h.1M36 1h.1M42 1h.1M50 1h1M64 1h.1M66 1h4M73 1h.1M6 2h.1M11 2h.1M13 2h.1M15 2h3M21 2h1M36 2h.1M47 2h.1M66 2h1M69 2h1M73 2h1M1 3h1M10 3h1M15 3h1M19 3h1M25 3h.1M39 3h1M62 3h.1M67 3h.1M69 3h.1M71 3h2M0 4h.1M2 4h.1M10 4h.1M13 4h.1M15 4h1M19 4h4M25 4h.1M39 4h2M62 4h.1M65 4h.1M69 4h1M0 5h.1M13 5h.1M17 5h6M62 5h3M69 5h2M0 6h.1M15 6h1M18 6h2M22 6h.1M64 6h.1M66 6h.1M69 6h.1M71 6h.1M12 7h.1M16 7h6M66 7h2M72 7h.1M20 8h1M67 8h1M71 8h1M17 9h2M37 9h.1M62 9h2M66 9h1M70 9h2M18 10h.1M62 10h3M67 10h.1M69 10h2M73 10h.1M32 11h.1M63 11h1M67 11h1M71 11h1M18 12h2M28 12h1M31 12h.1M63 12h3M68 12h1M71 12h2M27 13h2M63 13h.1M66 13h1M70 13h.1M72 13h1M25 14h5M62 14h4M70 14h1M20 15h.1M26 15h4M62 15h2M69 15h1M72 15h.1M74 15h.1M5 16h.1M7 16h.1M10 16h.1M27 16h.1M29 16h.1M54 16h.1M62 16h.1M69 16h1M73 16h.1M5 17h5M22 17h1M28 17h3M58 17h.1M68 17h1M71 17h1M6 18h4M27 18h1M31 18h1M54 18h.1M66 18h5M22 19h1M27 19h2M31 19h.1M33 19h.1M36 19h.1M55 19h.1M59 19h.1M15 20h1M28 20h.1M32 20h1M35 20h.1M37 20h.1M14 21h.1M17 21h2M22 21h.1M24 21h.1M27 21h.1M29 21h1M54 21h.1M56 21h.1M15 22h1M19 22h.1M21 22h2M27 22h.1M46 22h1M51 22h.1M54 22h.1M56 22h.1M17 23h.1M20 23h3M25 23h1M66 23h.1M17 24h.1M19 24h.1M22 24h.1M26 24h.1M50 24h.1M64 24h.1M66 24h.1M69 24h2M73 24h.1M16 25h1M21 25h1M50 25h.1M69 25h.1M71 25h.1M16 26h.1M70 26h.1M17 27h1M23 27h1M72 27h1M18 28h5M74 28h.1M22 29h1M74 29h.1M22 30h2M26 30h.1M38 30h.1M41 30h.1M45 30h3M68 30h.1M72 30h.1M74 30h.1M22 31h1M25 31h5M32 31h1M41 31h.1M44 31h.1M72 31h2M24 32h5M34 32h1M37 32h3M44 32h.1M69 32h.1M71 32h2M42 33h1M62 33h.1M66 33h1M69 33h.1M71 33h1M42 34h.1M44 34h.1M70 34h.1M74 34h.1M42 35h.1M67 35h.1M73 35h.1M67 36h.1M73 36h1M69 37h1M69 38h.1M71 38h.1M73 38h1M72 39h2M69 40h.1M72 40h.1M74 40h.1"/>
<path stroke="#f7b799" d="M2 0h1M11 0h1M16 0h.1M18 0h1M22 0h3M27 0h.1M36 0h4M42 0h2M46 0h2M50 0h.1M54 0h1M65 0h.1M67 0h1M73 0h1M1 1h2M5 1h1M10 1h6M18 1h.1M23 1h1M29 1h3M34 1h1M37 1h.1M39 1h2M43 1h6M62 1h1M65 1h.1M71 1h1M74 1h.1M0 2h1M3 2h2M10 2h.1M12 2h.1M14 2h.1M19 2h1M23 2h2M28 2h.1M31 2h4M37 2h.1M39 2h7M48 2h2M61 2h.1M68 2h.1M71 2h1M0 3h.1M3 3h3M12 3h2M17 3h1M21 3h3M26 3h.1M30 3h1M33 3h3M38 3h.1M41 3h2M61 3h.1M70 3h.1M1 4h.1M3 4h1M11 4h1M14 4h.1M17 4h1M24 4h.1M26 4h1M30 4h.1M34 4h.1M37 4h1M42 4h.1M4 5h.1M10 5h.1M12 5h.1M14 5h1M24 5h2M31 5h1M37 5h1M10 6h4M17 6h.1M21 6h.1M23 6h2M27 6h1M30 6h2M62 6h1M65 6h.1M10 7h.1M13 7h.1M15 7h.1M23 7h.1M25 7h.1M37 7h.1M48 7h.1M62 7h3M69 7h2M3 8h.1M10 8h2M16 8h3M22 8h1M25 8h.1M37 8h2M43 8h.1M46 8h.1M48 8h.1M62 8h4M69 8h1M2 9h.1M4 9h.1M10 9h1M16 9h.1M20 9h3M30 9h.1M38 9h1M43 9h1M46 9h.1M61 9h.1M65 9h.1M68 9h1M1 10h5M19 10h3M26 10h.1M28 10h2M32 10h.1M37 10h2M41 10h.1M45 10h.1M61 10h.1M68 10h.1M72 10h.1M1 11h2M5 11h1M16 11h6M24 11h.1M27 11h3M33 11h.1M38 11h.1M61 11h1M69 11h1M17 12h.1M21 12h.1M27 12h.1M30 12h.1M32 12h.1M38 12h.1M61 12h1M67 12h.1M70 12h.1M18 13h3M23 13h.1M25 13h.1M30 13h1M62 13h.1M64 13h1M68 13h1M71 13h.1M6 14h2M16 14h5M24 14h.1M31 14h.1M36 14h.1M56 14h.1M67 14h2M5 15h2M9 15h1M21 15h.1M25 15h.1M56 15h1M60 15h1M65 15h3M4 16h.1M6 16h.1M8 16h1M20 16h3M26 16h.1M28 16h.1M30 16h1M55 16h6M63 16h5M4 17h.1M11 17h.1M18 17h1M21 17h.1M24 17h2M32 17h.1M54 17h3M60 17h3M65 17h2M70 17h.1M73 17h1M4 18h1M11 18h1M18 18h8M33 18h.1M38 18h.1M53 18h.1M55 18h5M63 18h.1M65 18h.1M72 18h2M9 19h1M12 19h1M16 19h1M19 19h.1M21 19h.1M25 19h1M34 19h1M37 19h1M54 19h.1M56 19h2M60 19h.1M70 19h2M74 19h.1M13 20h1M17 20h7M34 20h.1M41 20h.1M45 20h.1M47 20h.1M52 20h4M59 20h2M71 20h.1M15 21h1M20 21h1M28 21h.1M31 21h.1M41 21h1M46 21h7M55 21h.1M57 21h3M14 22h.1M20 22h.1M28 22h.1M45 22h.1M48 22h2M52 22h1M55 22h.1M57 22h1M66 22h.1M16 23h.1M27 23h.1M47 23h1M50 23h1M53 23h1M58 23h.1M65 23h.1M70 23h4M16 24h.1M49 24h.1M63 24h.1M65 24h.1M67 24h1M72 24h.1M74 24h.1M26 25h.1M68 25h.1M70 25h.1M72 25h2M15 26h.1M25 26h.1M69 26h.1M71 26h3M25 27h.1M74 27h.1M39 28h.1M44 28h.1M72 28h1M21 29h.1M25 29h1M38 29h.1M40 29h1M44 29h3M72 29h.1M28 30h2M33 30h1M37 30h.1M39 30h1M42 30h2M58 30h2M62 30h.1M64 30h1M67 30h.1M69 30h2M73 30h.1M24 31h.1M31 31h.1M34 31h6M42 31h1M62 31h1M65 31h.1M67 31h4M22 32h1M36 32h.1M41 32h.1M43 32h.1M62 32h1M67 32h1M70 32h.1M74 32h.1M25 33h1M31 33h.1M33 33h6M41 33h.1M63 33h.1M65 33h.1M68 33h.1M70 33h.1M73 33h1M43 34h.1M45 34h3M65 34h4M71 34h2M33 35h2M41 35h.1M43 35h2M48 35h.1M65 35h1M68 35h4M74 35h.1M33 36h.1M36 36h.1M42 36h2M66 36h.1M68 36h4M66 37h2M71 37h3M32 38h1M35 38h.1M64 38h4M70 38h.1M72 38h.1M32 39h.1M47 39h.1M49 39h.1M66 39h.1M69 39h1M25 40h.1M29 40h.1M31 40h1M34 40h.1M36 40h.1M39 40h.1M42 40h5M66 40h1"/>
<path stroke="#fae7dc" d="M4 0h2M10 0h.1M13 0h2M17 0h.1M26 0h.1M28 0h7M41 0h.1M45 0h.1M51 0h2M56 0h7M4 1h.1M25 1h3M38 1h.1M52 1h9M2 2h.1M7 2h.1M26 2h1M29 2h1M38 2h.1M51 2h.1M54 2h2M27 3h2M32 3h.1M37 3h.1M44 3h.1M5 4h.1M28 4h1M31 4h2M35 4h1M43 4h.1M61 4h.1M1 5h2M5 5h.1M11 5h.1M27 5h.1M29 5h1M33 5h3M39 5h.1M1 6h.1M4 6h.1M26 6h.1M29 6h.1M33 6h2M37 6h.1M70 6h.1M0 7h1M3 7h2M11 7h.1M14 7h.1M24 7h.1M26 7h5M36 7h.1M38 7h1M61 7h.1M1 8h1M4 8h1M15 8h.1M24 8h.1M26 8h4M33 8h1M36 8h.1M40 8h2M44 8h1M47 8h.1M61 8h.1M0 9h1M3 9h.1M5 9h1M12 9h.1M24 9h5M31 9h1M40 9h2M45 9h.1M0 10h.1M10 10h2M16 10h1M23 10h2M27 10h.1M33 10h.1M40 10h.1M42 10h2M46 10h1M60 10h.1M0 11h.1M4 11h.1M7 11h.1M10 11h2M23 11h.1M25 11h1M31 11h.1M34 11h.1M37 11h.1M39 11h.1M41 11h1M60 11h.1M3 12h5M16 12h.1M22 12h4M33 12h1M36 12h1M39 12h1M43 12h1M60 12h.1M3 13h.1M5 13h4M16 13h1M22 13h.1M24 13h.1M26 13h.1M32 13h2M36 13h2M43 13h.1M61 13h.1M5 14h.1M9 14h1M22 14h1M32 14h3M52 14h.1M55 14h.1M57 14h4M4 15h.1M8 15h.1M11 15h.1M16 15h3M22 15h2M31 15h2M35 15h1M54 15h1M58 15h1M3 16h.1M11 16h.1M17 16h2M24 16h1M32 16h.1M34 16h2M53 16h.1M2 17h1M12 17h.1M17 17h.1M20 17h.1M33 17h.1M36 17h2M41 17h.1M44 17h.1M53 17h.1M59 17h.1M64 17h.1M2 18h1M13 18h1M16 18h1M34 18h1M37 18h.1M41 18h.1M46 18h.1M50 18h.1M61 18h1M64 18h.1M5 19h3M11 19h.1M14 19h1M18 19h.1M20 19h.1M39 19h.1M47 19h.1M50 19h3M61 19h3M66 19h.1M69 19h.1M73 19h.1M12 20h.1M38 20h.1M40 20h.1M42 20h2M46 20h.1M48 20h3M57 20h1M62 20h2M70 20h.1M72 20h2M13 21h.1M43 21h.1M45 21h.1M61 21h1M70 21h4M13 22h.1M29 22h.1M42 22h.1M44 22h.1M59 22h.1M65 22h.1M67 22h7M14 23h1M44 23h.1M46 23h.1M49 23h.1M52 23h.1M57 23h.1M59 23h.1M64 23h.1M67 23h2M27 24h.1M48 24h.1M51 24h.1M54 24h.1M15 25h.1M47 25h.1M49 25h.1M53 25h.1M65 25h2M13 26h.1M26 26h.1M51 26h3M66 26h2M16 27h.1M42 27h.1M51 27h1M66 27h.1M71 27h.1M17 28h.1M24 28h1M38 28h.1M40 28h3M45 28h.1M51 28h.1M66 28h.1M18 29h2M24 29h.1M27 29h1M30 29h.1M37 29h.1M39 29h.1M42 29h1M48 29h.1M51 29h.1M62 29h4M68 29h.1M71 29h.1M73 29h.1M21 30h.1M31 30h1M35 30h1M49 30h3M61 30h.1M63 30h.1M66 30h.1M45 31h.1M48 31h.1M52 31h.1M58 31h.1M60 31h1M64 31h.1M66 31h.1M42 32h.1M58 32h2M64 32h2M24 33h.1M27 33h3M40 33h.1M45 33h.1M60 33h1M64 33h.1M32 34h9M60 34h4M32 35h.1M36 35h1M39 35h1M46 35h1M64 35h.1M32 36h.1M34 36h1M37 36h.1M41 36h.1M45 36h1M48 36h1M32 37h6M45 37h5M65 37h.1M1 38h.1M30 38h1M34 38h.1M36 38h.1M46 38h4M21 39h1M30 39h1M33 39h2M45 39h1M48 39h.1M50 39h.1M64 39h1M67 39h1M12 40h.1M16 40h.1M20 40h4M26 40h2M30 40h.1M33 40h.1M37 40h1M40 40h1M48 40h2M64 40h1M68 40h.1"/>
<path stroke="#e1edf3" d="M1 0h.1M0 1h.1M9 1h.1M9 2h.1M52 2h1M57 2h.1M59 2h1M7 3h.1M9 3h.1M45 3h1M6 4h.1M9 4h.1M44 4h.1M6 5h.1M9 5h.1M28 5h.1M41 5h.1M61 5h.1M5 6h.1M36 6h.1M46 6h.1M48 6h.1M61 6h.1M2 7h.1M6 7h.1M32 7h3M46 7h1M60 7h.1M0 8h.1M6 8h.1M13 8h.1M31 8h1M35 8h.1M49 8h.1M51 8h1M60 8h.1M15 9h.1M33 9h3M47 9h1M60 9h.1M7 10h.1M31 10h.1M34 10h2M53 10h.1M59 10h.1M8 11h1M15 11h.1M35 11h1M40 11h.1M43 11h2M59 11h.1M0 12h2M9 12h3M15 12h.1M35 12h.1M41 12h1M45 12h.1M59 12h.1M2 13h.1M4 13h.1M10 13h2M15 13h.1M35 13h.1M39 13h.1M41 13h.1M44 13h1M54 13h6M3 14h1M11 14h1M15 14h.1M37 14h1M41 14h.1M43 14h5M51 14h.1M53 14h1M3 15h.1M12 15h.1M34 15h.1M37 15h2M42 15h.1M44 15h5M52 15h1M2 16h.1M33 16h.1M37 16h4M43 16h2M47 16h5M16 17h.1M34 17h1M39 17h1M42 17h1M45 17h.1M47 17h3M52 17h.1M0 18h1M15 18h.1M36 18h.1M39 18h.1M42 18h3M47 18h1M51 18h1M0 19h1M3 19h1M40 19h1M43 19h3M48 19h1M65 19h.1M67 19h1M2 20h.1M9 20h1M39 20h.1M69 20h.1M34 21h2M40 21h.1M44 21h.1M63 21h3M68 21h1M30 22h.1M40 22h1M43 22h.1M60 22h4M12 23h1M28 23h.1M41 23h2M45 23h.1M55 23h1M60 23h1M63 23h.1M13 24h2M28 24h.1M44 24h3M52 24h1M57 24h5M10 25h.1M12 25h2M27 25h.1M44 25h2M48 25h.1M51 25h1M54 25h.1M64 25h.1M10 26h.1M14 26h.1M27 26h.1M39 26h.1M41 26h9M65 26h.1M14 27h1M26 27h.1M39 27h2M43 27h2M48 27h2M53 27h1M56 27h.1M65 27h.1M67 27h.1M69 27h1M15 28h1M27 28h.1M46 28h4M52 28h.1M54 28h.1M61 28h.1M63 28h2M16 29h1M29 29h.1M31 29h1M34 29h.1M49 29h.1M52 29h2M58 29h3M67 29h.1M69 29h.1M53 30h.1M55 30h2M21 31h.1M47 31h.1M51 31h.1M53 31h.1M55 31h2M59 31h.1M21 32h.1M45 32h.1M61 32h.1M22 33h1M48 33h.1M52 33h.1M58 33h1M22 34h.1M24 34h2M31 34h.1M52 34h.1M59 34h.1M31 35h.1M38 35h.1M49 35h.1M31 36h.1M38 36h2M47 36h.1M50 36h.1M62 36h.1M64 36h1M2 37h1M28 37h1M31 37h.1M39 37h.1M44 37h.1M51 37h.1M64 37h.1M0 38h.1M2 38h3M27 38h2M37 38h1M45 38h.1M51 38h1M63 38h.1M0 39h5M20 39h.1M23 39h.1M25 39h4M36 39h2M40 39h.1M44 39h.1M51 39h.1M63 39h.1M1 40h10M13 40h2M17 40h.1M19 40h.1M35 40h.1M51 40h.1"/>
<path stroke="#a7d0e4" d="M0 0h.1M7 0h.1M9 0h.1M7 1h.1M8 2h.1M58 2h.1M47 3h.1M60 3h.1M7 4h.1M45 4h.1M60 4h.1M7 5h.1M40 5h.1M42 5h6M60 5h.1M3 6h.1M6 6h1M9 6h.1M38 6h.1M45 6h.1M47 6h.1M54 6h.1M60 6h.1M7 7h.1M9 7h.1M40 7h.1M42 7h3M49 7h.1M54 7h.1M9 8h.1M14 8h.1M53 8h1M7 9h.1M9 9h.1M13 9h.1M49 9h.1M52 9h1M55 9h.1M59 9h.1M8 10h1M13 10h.1M15 10h.1M48 10h.1M52 10h.1M54 10h.1M57 10h1M13 11h1M46 11h3M53 11h.1M57 11h1M13 12h.1M54 12h4M0 13h.1M40 13h.1M42 13h.1M46 13h2M50 13h.1M52 13h1M13 14h.1M39 14h1M42 14h.1M49 14h1M1 15h1M13 15h.1M15 15h.1M40 15h1M43 15h.1M50 15h1M0 16h1M12 16h.1M16 16h.1M42 16h.1M46 16h.1M1 17h.1M13 17h2M46 17h.1M51 17h.1M40 18h.1M49 18h.1M2 19h.1M42 19h.1M0 20h1M3 20h5M11 20h.1M65 20h.1M0 21h.1M9 21h3M32 21h1M37 21h2M67 21h.1M10 22h2M31 22h.1M11 23h.1M29 23h1M62 23h.1M11 24h1M41 24h2M11 25h.1M28 25h1M41 25h2M55 25h.1M61 25h.1M63 25h.1M11 26h1M40 26h.1M55 26h.1M64 26h.1M10 27h.1M13 27h.1M27 27h.1M30 27h.1M38 27h.1M46 27h1M55 27h.1M64 27h.1M68 27h.1M26 28h.1M28 28h2M37 28h.1M53 28h.1M55 28h5M62 28h.1M67 28h.1M71 28h.1M15 29h.1M33 29h.1M35 29h1M50 29h.1M55 29h2M70 29h.1M16 30h3M54 30h.1M18 31h2M46 31h.1M49 31h.1M54 31h.1M20 32h.1M51 32h2M55 32h2M20 33h1M46 33h1M51 33h.1M53 33h.1M55 33h.1M0 34h1M51 34h.1M58 34h.1M0 35h1M25 35h.1M27 35h.1M30 35h.1M0 36h1M27 36h2M60 36h1M63 36h.1M0 37h1M4 37h1M27 37h.1M30 37h.1M40 37h1M43 37h.1M52 37h.1M54 37h.1M62 37h1M6 38h.1M11 38h.1M17 38h.1M21 38h2M25 38h1M39 38h.1M44 38h.1M54 38h2M62 38h.1M6 39h2M11 39h8M24 39h.1M39 39h.1M41 39h2M52 39h.1M55 39h.1M62 39h.1M0 40h.1M18 40h.1M52 40h3M63 40h.1"/>
<path stroke="#529dc8" d="M8 0h.1M8 1h.1M8 3h.1M48 3h1M46 4h.1M55 4h2M8 5h.1M49 5h.1M53 5h4M59 5h.1M2 6h.1M8 6h.1M39 6h.1M41 6h.1M44 6h.1M49 6h.1M53 6h.1M55 6h.1M8 7h.1M41 7h.1M51 7h2M55 7h.1M59 7h.1M7 8h.1M50 8h.1M55 8h.1M59 8h.1M14 9h.1M50 9h1M54 9h.1M56 9h1M49 10h.1M51 10h.1M55 10h1M51 11h1M54 11h2M14 12h.1M46 12h4M52 12h1M1 13h.1M13 13h1M49 13h.1M51 13h.1M0 14h2M0 15h.1M13 16h.1M0 17h.1M67 20h.1M1 21h2M5 21h3M0 22h1M32 22h1M39 22h.1M10 23h.1M31 23h.1M40 23h.1M10 24h.1M29 24h.1M40 24h.1M55 24h1M30 25h.1M39 25h1M56 25h.1M59 25h1M62 25h.1M9 26h.1M28 26h2M38 26h.1M56 26h1M11 27h1M28 27h1M31 27h.1M37 27h.1M57 27h1M60 27h.1M63 27h.1M0 28h.1M31 28h1M34 28h.1M36 28h.1M68 28h1M1 29h.1M14 30h.1M20 30h.1M0 31h.1M17 31h.1M50 31h.1M0 32h2M19 32h.1M47 32h2M54 32h.1M0 33h.1M2 33h.1M19 33h.1M49 33h.1M54 33h.1M56 33h1M2 34h.1M20 34h1M23 34h.1M27 34h.1M29 34h.1M49 34h.1M53 34h.1M57 34h.1M2 35h.1M4 35h1M19 35h.1M24 35h.1M26 35h.1M28 35h1M50 35h.1M2 36h2M26 36h.1M30 36h.1M55 36h4M6 37h1M9 37h.1M21 37h1M25 37h1M42 37h.1M53 37h.1M55 37h1M7 38h3M13 38h.1M16 38h.1M18 38h2M24 38h.1M40 38h.1M53 38h.1M57 38h.1M9 39h1M53 39h1M56 39h.1M56 40h6"/>
<path stroke="#246aae" d="M52 3h1M59 3h.1M8 4h.1M47 4h.1M50 4h.1M52 4h2M59 4h.1M50 5h2M58 5h.1M40 6h.1M42 6h1M50 6h2M56 6h1M59 6h.1M50 7h.1M56 7h1M57 8h.1M8 9h.1M58 9h.1M14 10h.1M50 10h.1M50 11h.1M51 12h.1M14 14h.1M14 15h.1M14 16h1M66 20h.1M68 20h.1M4 21h.1M2 22h1M9 22h.1M34 22h4M0 23h1M9 23h.1M32 23h.1M39 23h.1M0 24h.1M9 24h.1M30 24h1M39 24h.1M6 25h.1M9 25h.1M31 25h2M35 25h.1M38 25h.1M57 25h1M0 26h.1M31 26h3M37 26h.1M63 26h.1M0 27h1M9 27h.1M32 27h4M59 27h.1M61 27h1M1 28h1M11 28h.1M14 28h.1M33 28h.1M35 28h.1M70 28h.1M0 29h.1M11 29h.1M13 29h1M0 30h3M13 30h.1M15 30h.1M1 31h.1M3 31h.1M14 31h2M3 32h.1M12 32h.1M14 32h1M17 32h1M50 32h.1M1 33h.1M3 33h.1M11 33h.1M13 33h.1M16 33h2M50 33h.1M3 34h1M15 34h1M18 34h1M28 34h.1M30 34h.1M50 34h.1M54 34h2M3 35h.1M15 35h1M18 35h.1M20 35h3M51 35h2M63 35h.1M5 36h2M18 36h.1M24 36h1M51 36h3M8 37h.1M10 37h2M14 37h4M23 37h1M57 37h2M61 37h.1M12 38h.1M14 38h1M41 38h.1M43 38h.1M58 38h1M61 38h.1M57 39h4"/>
<path stroke="#053061" d="M50 3h1M54 3h4M48 4h1M51 4h.1M58 4h.1M58 6h.1M58 7h.1M8 8h.1M56 8h.1M58 8h.1M5 22h1M8 22h.1M2 23h1M5 23h3M33 23h.1M36 23h2M1 24h2M5 24h3M32 24h6M0 25h2M4 25h1M8 25h.1M34 25h.1M36 25h1M1 26h7M35 26h1M58 26h.1M60 26h2M2 27h6M3 28h7M12 28h1M2 29h5M9 29h.1M12 29h.1M4 30h8M2 31h.1M4 31h1M7 31h3M13 31h.1M5 32h.1M7 32h3M13 32h.1M16 32h.1M46 32h.1M4 33h1M7 33h3M12 33h.1M14 33h1M5 34h.1M7 34h7M17 34h.1M6 35h8M17 35h.1M55 35h2M59 35h3M9 36h3M14 36h1M19 36h.1M21 36h.1M23 36h.1M13 37h.1M19 37h1M60 37h.1M42 38h.1"/>
<path stroke="#053061" d="M4 22h.1M7 22h.1M4 23h.1M34 23h1M4 24h.1M3 25h.1M7 25h.1M59 26h.1M8 29h.1M10 29h.1M6 31h.1M11 31h1M4 32h.1M6 32h.1M11 32h.1M6 33h.1M6 34h.1M54 35h.1M58 35h.1M8 36h.1M13 36h.1M16 36h1M20 36h.1M22 36h.1M60 38h.1"/>
</g>
<use href="#ol"/>
</g>
<rect x="0" y="0" width="262.4" height="142.2" fill="none" stroke="#8c8c8c" stroke-width="1"/>
<text class="pl" x="6.8" y="30.0" fill="#fff" style="fill:#fff">(f)</text>
<text x="265.7" y="117.7">30°N</text>
<text x="265.7" y="82.3">35°N</text>
<text x="265.7" y="46.9">40°N</text>
<text x="265.7" y="11.5">45°N</text>
<text x="14.1" y="154.6" text-anchor="middle">65°E</text>
<text x="49.5" y="154.6" text-anchor="middle">70°E</text>
<text x="84.9" y="154.6" text-anchor="middle">75°E</text>
<text x="120.3" y="154.6" text-anchor="middle">80°E</text>
<text x="155.7" y="154.6" text-anchor="middle">85°E</text>
<text x="191.1" y="154.6" text-anchor="middle">90°E</text>
<text x="226.5" y="154.6" text-anchor="middle">95°E</text>
<text x="261.9" y="154.6" text-anchor="middle">100°E</text>
<g>
<path d="M0 159.40L12.23 155.80V163.00Z" fill="#67001f"/>
<path d="M262.40 159.40L250.17 155.80V163.00Z" fill="#053061"/>
<rect x="11.93" y="155.80" width="24.15" height="7.20" fill="#67001f"/>
<rect x="35.78" y="155.80" width="24.15" height="7.20" fill="#b61f2e"/>
<rect x="59.64" y="155.80" width="24.15" height="7.20" fill="#dc6e57"/>
<rect x="83.49" y="155.80" width="24.15" height="7.20" fill="#f7b799"/>
<rect x="107.35" y="155.80" width="24.15" height="7.20" fill="#fae7dc"/>
<rect x="131.20" y="155.80" width="24.15" height="7.20" fill="#e1edf3"/>
<rect x="155.05" y="155.80" width="24.15" height="7.20" fill="#a7d0e4"/>
<rect x="178.91" y="155.80" width="24.15" height="7.20" fill="#529dc8"/>
<rect x="202.76" y="155.80" width="24.15" height="7.20" fill="#246aae"/>
<rect x="226.62" y="155.80" width="24.15" height="7.20" fill="#053061"/>
<path d="M0 159.40L11.93 155.80H250.47L262.40 159.40L250.47 163.00H11.93Z" fill="none" stroke="#777" stroke-width="0.6"/>
<text x="11.93" y="180.60" text-anchor="middle">0.0</text>
<text x="59.64" y="180.60" text-anchor="middle">0.4</text>
<text x="107.35" y="180.60" text-anchor="middle">0.8</text>
<text x="155.05" y="180.60" text-anchor="middle">1.2</text>
<text x="202.76" y="180.60" text-anchor="middle">1.6</text>
<text x="250.47" y="180.60" text-anchor="middle">2.0</text>
<path d="M11.93 163.00v4.2M59.64 163.00v4.2M107.35 163.00v4.2M155.05 163.00v4.2M202.76 163.00v4.2M250.47 163.00v4.2" stroke="#222" stroke-width="0.9" fill="none"/>
<text class="cl" x="131.2" y="197.8" text-anchor="middle" xml:space="preserve">Annual precip. ERA5-Land / WRF (-)</text>
</g>
</g>
<g transform="translate(324.3,462.6)">
<path d="M14.10 0V142.2M49.50 0V142.2M84.90 0V142.2M120.30 0V142.2M155.70 0V142.2M191.10 0V142.2M226.50 0V142.2M261.90 0V142.2M0 112.68H262.4M0 77.28H262.4M0 41.88H262.4M0 6.48H262.4" stroke="#e2e2e2" stroke-width="0.7" fill="none"/>
<g clip-path="url(#cp)">
<g class="d" transform="translate(-0.06,141.00) scale(3.540,-3.540)">
<path stroke="#d6604d" d="M66 36h.1M66 37h1M64 38h3"/>
<path stroke="#ea8e70" d="M32 24h3M32 25h3M32 26h1M40 26h2M44 26h2M40 27h6M40 28h1M44 28h2M46 29h.1M52 32h.1M52 33h.1M1 34h1M3 35h.1M0 36h1M3 36h1M6 36h.1M64 36h1M67 36h2M0 37h2M64 37h1M68 37h2M1 38h2M68 38h2"/>
<path stroke="#f7b799" d="M46 12h.1M49 12h.1M46 13h4M49 14h.1M49 15h.1M35 23h.1M2 24h.1M28 24h.1M30 24h1M36 24h.1M29 25h2M36 25h.1M41 25h1M58 25h.1M4 26h.1M29 26h2M34 26h2M39 26h.1M43 26h.1M47 26h.1M58 26h.1M60 26h.1M32 27h3M39 27h.1M47 27h1M27 28h.1M29 28h.1M34 28h.1M38 28h1M42 28h1M47 28h.1M26 29h.1M32 29h1M37 29h8M26 30h.1M33 30h1M38 30h1M46 30h.1M54 30h.1M56 30h.1M35 31h.1M42 31h3M53 31h3M0 32h.1M42 32h2M53 32h3M58 32h.1M64 32h.1M0 33h2M51 33h.1M54 33h4M0 34h.1M3 34h.1M11 34h.1M52 34h.1M56 34h1M61 34h.1M0 35h2M4 35h2M11 35h.1M66 35h3M2 36h.1M5 36h.1M7 36h.1M9 36h.1M17 36h1M63 36h.1M70 36h.1M3 37h5M16 37h.1M18 37h1M63 37h.1M0 38h.1M4 38h5M14 38h.1M16 38h.1M18 38h.1M20 38h.1M63 38h.1M71 38h.1M0 39h3M7 39h1M63 39h7M3 40h.1M6 40h.1"/>
<path stroke="#fddbc7" d="M53 9h3M49 10h7M49 11h2M53 11h2M45 12h.1M47 12h1M50 12h5M45 13h.1M52 13h.1M54 13h2M43 14h5M50 14h.1M44 15h1M47 15h1M50 15h.1M52 15h.1M49 16h.1M52 16h.1M42 17h.1M53 17h.1M41 18h.1M52 18h1M32 22h.1M0 23h.1M2 23h.1M29 23h5M36 23h.1M61 23h1M0 24h1M29 24h.1M37 24h.1M39 24h.1M58 24h4M0 25h2M4 25h.1M28 25h.1M37 25h.1M39 25h1M43 25h3M48 25h.1M57 25h.1M59 25h4M0 26h3M28 26h.1M37 26h.1M48 26h1M57 26h.1M59 26h.1M61 26h1M0 27h4M27 27h4M36 27h2M49 27h.1M58 27h1M26 28h.1M28 28h.1M30 28h.1M32 28h1M35 28h2M48 28h1M25 29h.1M27 29h4M34 29h2M47 29h.1M53 29h1M56 29h.1M25 30h.1M27 30h5M35 30h2M40 30h5M53 30h.1M55 30h.1M57 30h.1M60 30h1M1 31h2M6 31h2M25 31h3M33 31h1M36 31h.1M41 31h.1M46 31h.1M51 31h1M57 31h4M63 31h2M1 32h10M41 32h.1M45 32h.1M47 32h.1M49 32h.1M51 32h.1M57 32h.1M59 32h4M65 32h1M68 32h.1M73 32h1M3 33h9M41 33h2M49 33h.1M53 33h.1M59 33h5M4 34h6M12 34h.1M49 34h2M53 34h2M58 34h2M62 34h1M68 34h.1M73 34h.1M7 35h3M12 35h.1M52 35h13M70 35h.1M8 36h.1M10 36h6M19 36h.1M32 36h.1M36 36h.1M53 36h4M59 36h1M71 36h.1M9 37h6M17 37h.1M20 37h.1M35 37h1M51 37h.1M56 37h4M62 37h.1M71 37h.1M10 38h3M15 38h.1M17 38h.1M19 38h.1M21 38h.1M42 38h1M55 38h.1M59 38h3M4 39h2M9 39h1M13 39h1M16 39h6M43 39h.1M47 39h1M55 39h2M60 39h.1M71 39h.1M74 39h.1M0 40h2M4 40h1M7 40h3M16 40h.1M18 40h.1M24 40h.1M43 40h5M56 40h.1"/>
<path stroke="#f9eee7" d="M38 0h4M45 0h.1M48 0h.1M51 0h1M56 0h.1M59 0h.1M62 0h2M68 0h4M40 1h.1M48 1h.1M51 1h.1M53 1h.1M57 1h1M62 1h2M66 1h4M72 1h.1M56 2h3M62 2h3M68 2h4M43 3h.1M52 3h.1M56 3h1M71 3h2M34 4h.1M44 4h1M70 4h3M45 5h1M52 5h.1M56 5h4M72 5h1M36 6h.1M45 6h.1M51 6h1M55 6h8M72 6h1M45 7h.1M48 7h.1M50 7h2M58 7h4M72 7h2M40 8h.1M42 8h1M47 8h.1M51 8h3M57 8h5M73 8h1M35 9h.1M41 9h6M49 9h3M57 9h5M66 9h2M73 9h.1M35 10h.1M42 10h6M57 10h.1M60 10h4M66 10h3M71 10h2M42 11h6M52 11h.1M56 11h1M62 11h2M66 11h1M69 11h1M72 11h2M42 12h2M56 12h1M62 12h1M72 12h2M38 13h6M51 13h.1M53 13h.1M57 13h.1M62 13h.1M68 13h.1M72 13h2M13 14h2M24 14h1M29 14h.1M37 14h3M42 14h.1M51 14h6M37 15h6M46 15h.1M51 15h.1M53 15h3M60 15h.1M17 16h3M23 16h.1M37 16h11M50 16h1M53 16h1M16 17h.1M18 17h.1M23 17h1M37 17h4M43 17h1M46 17h6M54 17h.1M72 17h.1M74 17h.1M0 18h.1M16 18h1M20 18h.1M23 18h1M27 18h.1M37 18h3M45 18h1M49 18h2M54 18h1M67 18h.1M73 18h1M30 19h.1M37 19h3M44 19h3M49 19h.1M51 19h3M0 20h.1M39 20h.1M42 20h3M47 20h.1M49 20h.1M52 20h.1M5 21h1M31 21h1M34 21h1M37 21h2M41 21h7M4 22h5M12 22h.1M30 22h1M33 22h12M48 22h1M74 22h.1M1 23h.1M3 23h7M12 23h.1M27 23h1M37 23h3M42 23h6M53 23h.1M58 23h2M63 23h.1M73 23h1M3 24h7M27 24h.1M38 24h.1M40 24h8M57 24h.1M63 24h.1M3 25h.1M5 25h5M27 25h.1M38 25h.1M47 25h.1M49 25h1M52 25h1M56 25h.1M64 25h.1M73 25h.1M5 26h3M10 26h.1M20 26h.1M27 26h.1M38 26h.1M50 26h6M63 26h2M68 26h2M5 27h3M11 27h.1M26 27h.1M50 27h5M57 27h.1M60 27h5M67 27h2M0 28h7M25 28h.1M31 28h.1M50 28h3M59 28h.1M61 28h5M68 28h.1M72 28h2M0 29h6M9 29h3M21 29h.1M23 29h1M48 29h4M55 29h.1M57 29h9M70 29h.1M0 30h13M19 30h5M47 30h.1M49 30h3M58 30h1M62 30h8M0 31h.1M4 31h1M9 31h2M20 31h4M29 31h3M37 31h3M47 31h3M62 31h.1M66 31h6M12 32h.1M21 32h2M25 32h4M31 32h7M46 32h.1M48 32h.1M50 32h.1M67 32h.1M69 32h3M13 33h.1M20 33h1M23 33h3M29 33h.1M31 33h.1M33 33h6M44 33h4M50 33h.1M65 33h9M13 34h.1M15 34h.1M17 34h1M20 34h.1M22 34h5M35 34h1M38 34h1M41 34h7M64 34h3M69 34h3M74 34h.1M13 35h8M24 35h3M31 35h.1M33 35h3M39 35h.1M43 35h6M51 35h.1M71 35h3M20 36h7M29 36h2M33 36h2M37 36h.1M40 36h.1M43 36h9M58 36h.1M61 36h1M72 36h2M21 37h3M26 37h8M37 37h8M47 37h3M52 37h3M61 37h.1M72 37h2M22 38h2M26 38h15M44 38h1M47 38h7M56 38h2M72 38h2M11 39h1M15 39h.1M23 39h12M37 39h5M44 39h2M49 39h.1M51 39h3M58 39h1M61 39h1M73 39h.1M11 40h4M17 40h.1M19 40h4M25 40h.1M27 40h15M49 40h6M57 40h3M62 40h9M73 40h1"/>
<path stroke="#eaf1f5" d="M26 0h.1M37 0h.1M43 0h1M46 0h1M49 0h1M53 0h2M57 0h1M60 0h1M65 0h2M73 0h1M33 1h.1M37 1h2M41 1h6M49 1h1M52 1h.1M54 1h2M59 1h2M65 1h.1M71 1h.1M73 1h1M31 2h4M37 2h16M55 2h.1M60 2h1M66 2h1M73 2h1M25 3h.1M32 3h10M44 3h2M49 3h2M53 3h2M58 3h8M69 3h1M74 3h.1M31 4h2M35 4h8M46 4h.1M49 4h11M62 4h2M66 4h.1M74 4h.1M31 5h13M47 5h4M53 5h2M61 5h4M70 5h1M74 5h.1M26 6h1M31 6h4M37 6h7M46 6h4M53 6h1M64 6h.1M71 6h.1M74 6h.1M27 7h.1M30 7h14M46 7h1M49 7h.1M53 7h4M63 7h4M71 7h.1M26 8h.1M28 8h2M32 8h.1M34 8h5M41 8h.1M44 8h2M48 8h2M55 8h1M63 8h9M26 9h.1M28 9h2M33 9h1M36 9h1M39 9h1M48 9h.1M63 9h2M69 9h3M74 9h.1M19 10h15M36 10h1M39 10h2M58 10h1M65 10h.1M70 10h.1M74 10h.1M14 11h.1M19 11h16M38 11h3M58 11h3M65 11h.1M68 11h.1M71 11h.1M19 12h22M58 12h3M64 12h7M13 13h.1M17 13h10M29 13h.1M31 13h6M58 13h3M63 13h4M69 13h2M12 14h.1M16 14h7M26 14h2M30 14h6M41 14h.1M58 14h16M12 15h3M17 15h12M33 15h3M57 15h2M61 15h7M72 15h2M12 16h4M21 16h1M24 16h3M35 16h1M55 16h1M58 16h12M72 16h2M0 17h.1M13 17h2M17 17h.1M19 17h3M25 17h2M30 17h1M33 17h.1M35 17h1M45 17h.1M55 17h1M58 17h13M73 17h.1M1 18h.1M13 18h2M18 18h1M21 18h1M25 18h1M28 18h3M33 18h1M36 18h.1M42 18h2M47 18h1M56 18h1M59 18h7M68 18h4M0 19h.1M3 19h.1M11 19h18M33 19h3M41 19h2M48 19h.1M50 19h.1M55 19h6M65 19h9M1 20h2M5 20h1M9 20h.1M12 20h5M21 20h2M25 20h7M34 20h4M40 20h1M46 20h.1M48 20h.1M50 20h1M53 20h7M62 20h8M72 20h2M0 21h4M7 21h5M14 21h16M33 21h.1M36 21h.1M40 21h.1M49 21h3M54 21h11M71 21h3M0 22h3M10 22h1M13 22h12M27 22h2M46 22h1M50 22h14M72 22h1M11 23h.1M13 23h.1M15 23h4M21 23h2M25 23h1M41 23h.1M49 23h3M54 23h3M64 23h1M71 23h1M11 24h2M15 24h1M18 24h4M24 24h2M49 24h7M64 24h1M69 24h.1M71 24h3M11 25h5M18 25h8M51 25h.1M54 25h1M65 25h.1M67 25h5M74 25h.1M9 26h.1M11 26h.1M13 26h6M21 26h5M66 26h1M71 26h3M9 27h1M12 27h2M16 27h7M25 27h.1M56 27h.1M66 27h.1M70 27h4M8 28h16M54 28h4M60 28h.1M67 28h.1M69 28h2M7 29h1M13 29h7M22 29h.1M67 29h2M71 29h2M14 30h4M48 30h.1M71 30h.1M12 31h3M17 31h2M73 31h1M13 32h2M18 32h2M24 32h.1M30 32h.1M39 32h1M14 33h5M22 33h.1M27 33h1M30 33h.1M32 33h.1M40 33h.1M14 34h.1M16 34h.1M19 34h.1M21 34h.1M28 34h6M37 34h.1M40 34h.1M22 35h1M28 35h2M32 35h.1M37 35h1M40 35h2M50 35h.1M28 36h.1M38 36h1M41 36h1M25 37h.1M46 37h.1M25 38h.1M46 38h.1M36 39h.1M50 39h.1M72 39h.1M26 40h.1M61 40h.1M72 40h.1"/>
<path stroke="#d1e5f0" d="M18 0h2M25 0h.1M27 0h9M23 1h4M29 1h3M34 1h2M24 2h6M36 2h.1M54 2h.1M24 3h.1M26 3h5M47 3h1M67 3h1M26 4h2M30 4h.1M47 4h1M61 4h.1M65 4h.1M67 4h2M26 5h4M66 5h3M28 6h2M65 6h.1M67 6h3M25 7h1M28 7h1M68 7h2M25 8h.1M27 8h.1M31 8h.1M33 8h.1M17 9h2M22 9h1M25 9h.1M27 9h.1M31 9h1M38 9h.1M12 10h6M38 10h.1M11 11h2M15 11h3M36 11h1M12 12h6M12 13h.1M14 13h2M28 13h.1M30 13h.1M11 14h.1M1 15h2M8 15h.1M10 15h1M16 15h.1M30 15h2M69 15h2M0 16h4M11 16h.1M28 16h2M33 16h1M57 16h.1M71 16h.1M1 17h1M5 17h1M11 17h1M28 17h1M32 17h.1M34 17h.1M57 17h.1M2 18h1M5 18h4M11 18h1M32 18h.1M35 18h.1M58 18h.1M1 19h1M4 19h6M31 19h1M62 19h2M4 20h.1M7 20h1M10 20h1M18 20h2M24 20h.1M33 20h.1M61 20h.1M71 20h.1M13 21h.1M53 21h.1M66 21h1M69 21h1M26 22h.1M65 22h.1M71 22h.1M14 23h.1M20 23h.1M24 23h.1M66 23h4M14 24h.1M17 24h.1M23 24h.1M66 24h2M70 24h.1M17 25h.1M66 25h.1M12 26h.1M15 27h.1M24 27h.1M74 29h.1M72 30h2M16 31h.1M16 32h1"/>
<path stroke="#a7d0e4" d="M13 0h4M21 0h3M16 1h6M28 1h.1M15 2h8M22 3h1M25 4h.1M29 4h.1M16 5h2M23 5h.1M25 5h.1M16 6h2M25 6h.1M66 6h.1M4 7h2M15 7h9M0 8h.1M4 8h4M15 8h3M21 8h3M0 9h.1M2 9h7M12 9h4M20 9h1M24 9h.1M0 10h7M9 10h2M0 11h1M4 11h6M3 12h8M0 13h8M10 13h1M0 14h.1M2 14h8M0 15h.1M4 15h3M9 15h.1M5 16h5M31 16h1M3 17h1M7 17h3M4 18h.1M10 18h.1M68 21h.1M66 22h4"/>
<path stroke="#78b4d5" d="M0 0h3M8 0h4M0 1h3M8 1h7M0 2h7M9 2h1M13 2h1M2 3h2M6 3h.1M14 3h7M3 4h1M15 4h9M3 5h3M15 5h.1M19 5h3M24 5h.1M3 6h4M12 6h.1M15 6h.1M19 6h5M0 7h.1M3 7h.1M7 7h2M11 7h3M1 8h2M9 8h5M19 8h1M1 9h.1M10 9h1M8 10h.1M2 11h1M0 12h2M9 13h.1M1 14h.1"/>
<path stroke="#4393c3" d="M4 0h3M4 1h3M8 2h.1M11 2h1M0 3h1M5 3h.1M7 3h6M1 4h1M5 4h5M12 4h2M1 5h1M7 5h2M12 5h2M0 6h2M8 6h3M13 6h1M1 7h1M10 7h.1"/>
<path stroke="#2c75b4" d="M0 4h.1M11 4h.1M0 5h.1M10 5h1"/>
</g>
<use href="#ol"/>
</g>
<rect x="0" y="0" width="262.4" height="142.2" fill="none" stroke="#8c8c8c" stroke-width="1"/>
<text class="pl" x="6.8" y="30.0" fill="#000" style="fill:#000">(g)</text>
<text x="265.7" y="117.7">30°N</text>
<text x="265.7" y="82.3">35°N</text>
<text x="265.7" y="46.9">40°N</text>
<text x="265.7" y="11.5">45°N</text>
<text x="14.1" y="154.6" text-anchor="middle">65°E</text>
<text x="49.5" y="154.6" text-anchor="middle">70°E</text>
<text x="84.9" y="154.6" text-anchor="middle">75°E</text>
<text x="120.3" y="154.6" text-anchor="middle">80°E</text>
<text x="155.7" y="154.6" text-anchor="middle">85°E</text>
<text x="191.1" y="154.6" text-anchor="middle">90°E</text>
<text x="226.5" y="154.6" text-anchor="middle">95°E</text>
<text x="261.9" y="154.6" text-anchor="middle">100°E</text>
<g>
<path d="M0 159.40L12.23 155.80V163.00Z" fill="#67001f"/>
<path d="M262.40 159.40L250.17 155.80V163.00Z" fill="#053061"/>
<rect x="11.93" y="155.80" width="15.21" height="7.20" fill="#67001f"/>
<rect x="26.84" y="155.80" width="15.21" height="7.20" fill="#991027"/>
<rect x="41.75" y="155.80" width="15.21" height="7.20" fill="#be3036"/>
<rect x="56.65" y="155.80" width="15.21" height="7.20" fill="#d6604d"/>
<rect x="71.56" y="155.80" width="15.21" height="7.20" fill="#ea8e70"/>
<rect x="86.47" y="155.80" width="15.21" height="7.20" fill="#f7b799"/>
<rect x="101.38" y="155.80" width="15.21" height="7.20" fill="#fddbc7"/>
<rect x="116.29" y="155.80" width="15.21" height="7.20" fill="#f9eee7"/>
<rect x="131.20" y="155.80" width="15.21" height="7.20" fill="#eaf1f5"/>
<rect x="146.11" y="155.80" width="15.21" height="7.20" fill="#d1e5f0"/>
<rect x="161.02" y="155.80" width="15.21" height="7.20" fill="#a7d0e4"/>
<rect x="175.93" y="155.80" width="15.21" height="7.20" fill="#78b4d5"/>
<rect x="190.84" y="155.80" width="15.21" height="7.20" fill="#4393c3"/>
<rect x="205.75" y="155.80" width="15.21" height="7.20" fill="#2c75b4"/>
<rect x="220.65" y="155.80" width="15.21" height="7.20" fill="#185493"/>
<rect x="235.56" y="155.80" width="15.21" height="7.20" fill="#053061"/>
<path d="M0 159.40L11.93 155.80H250.47L262.40 159.40L250.47 163.00H11.93Z" fill="none" stroke="#777" stroke-width="0.6"/>
<text x="11.93" y="180.60" text-anchor="middle">−20</text>
<text x="71.56" y="180.60" text-anchor="middle">−10</text>
<text x="131.20" y="180.60" text-anchor="middle">0</text>
<text x="190.84" y="180.60" text-anchor="middle">10</text>
<text x="250.47" y="180.60" text-anchor="middle">20</text>
<path d="M11.93 163.00v4.2M71.56 163.00v4.2M131.20 163.00v4.2M190.84 163.00v4.2M250.47 163.00v4.2" stroke="#222" stroke-width="0.9" fill="none"/>
<text class="cm" x="131.2" y="197.8" text-anchor="middle" xml:space="preserve">ERA5-Land  annual precip. trend  (% yr<tspan class="sup" dx="1.2" dy="-5.9">−1</tspan><tspan dy="5.9" dx="0">)</tspan></text>
</g>
</g>
<g transform="translate(639.3,462.6)">
<path d="M14.10 0V142.2M49.50 0V142.2M84.90 0V142.2M120.30 0V142.2M155.70 0V142.2M191.10 0V142.2M226.50 0V142.2M261.90 0V142.2M0 112.68H262.4M0 77.28H262.4M0 41.88H262.4M0 6.48H262.4" stroke="#e2e2e2" stroke-width="0.7" fill="none"/>
<g clip-path="url(#cp)">
<g class="d" transform="translate(-0.06,141.00) scale(3.540,-3.540)">
<path stroke="#000004" d="M49 4h5M56 4h.1M50 5h.1M60 8h.1M66 8h1M70 10h.1M70 11h.1M50 12h.1M70 12h1M70 13h3M60 14h6M72 14h2M63 15h.1M46 17h.1M38 18h12M54 18h.1M37 19h7M46 19h.1M49 19h1M30 20h2M34 20h8M24 22h2M24 23h.1M65 23h1M24 24h.1M64 24h2M23 25h1M22 26h2M22 27h.1M22 28h.1M40 32h.1M43 32h.1M46 32h.1M43 33h1M53 33h.1M32 34h1M35 34h5M42 34h2M52 34h4"/>
<path stroke="#180f3d" d="M30 0h.1M53 3h1M48 4h.1M55 4h.1M57 4h.1M49 5h.1M51 5h.1M55 5h1M50 6h.1M56 6h.1M60 6h.1M60 7h1M65 7h2M61 8h4M68 8h1M68 9h1M48 10h.1M69 10h.1M26 12h.1M69 12h.1M72 12h1M62 13h.1M64 13h1M74 13h.1M67 14h.1M71 14h.1M61 15h1M64 15h.1M66 15h.1M46 16h.1M56 16h.1M45 17h.1M47 17h.1M55 18h.1M32 19h4M47 19h1M33 20h.1M43 20h.1M45 20h.1M47 20h.1M30 21h.1M27 22h.1M63 22h1M25 23h.1M63 23h1M23 24h.1M74 24h.1M74 25h.1M21 26h.1M74 26h.1M23 27h.1M21 28h.1M41 32h1M44 32h1M53 32h2M30 33h.1M39 33h3M45 33h.1M52 33h.1M54 33h2M28 34h3M34 34h.1M41 34h.1M45 34h.1M60 34h2M44 35h.1M55 35h1"/>
<path stroke="#440f76" d="M28 0h1M31 0h.1M74 0h.1M28 1h1M29 2h.1M48 3h4M55 3h1M47 4h.1M48 5h.1M54 5h.1M57 5h.1M60 5h.1M61 6h.1M59 7h.1M62 7h2M68 7h1M59 8h.1M61 9h6M70 9h.1M71 10h.1M26 11h.1M50 11h.1M69 11h.1M71 11h1M74 11h.1M51 12h1M60 13h1M63 13h.1M66 13h1M69 13h.1M59 14h.1M70 14h.1M60 15h.1M65 15h.1M73 15h1M47 16h1M39 17h.1M41 17h1M44 17h.1M48 17h1M54 17h2M32 18h.1M37 18h.1M51 18h.1M53 18h.1M30 19h1M45 19h.1M51 19h.1M54 19h.1M29 20h.1M44 20h.1M46 20h.1M48 20h2M31 21h.1M37 21h.1M40 21h.1M45 21h.1M28 22h.1M59 22h.1M65 22h1M23 23h.1M26 23h.1M60 23h2M60 24h1M63 24h.1M73 24h.1M22 25h.1M63 25h3M73 25h.1M73 26h.1M20 27h1M19 28h1M40 31h1M27 32h.1M29 32h1M52 32h.1M56 32h.1M28 33h1M31 33h.1M46 33h.1M60 33h.1M62 33h.1M27 34h.1M46 34h.1M38 35h.1M42 35h1M52 35h2M58 36h.1"/>
<path stroke="#721f81" d="M27 1h.1M30 1h.1M53 1h.1M27 2h1M30 2h.1M53 2h1M46 3h1M57 3h.1M46 4h.1M58 4h.1M60 4h.1M46 5h1M52 5h1M61 5h.1M49 6h.1M55 6h.1M57 6h.1M59 6h.1M63 6h2M67 6h1M70 7h.1M73 7h.1M71 8h.1M48 9h.1M60 9h.1M71 9h1M74 9h.1M26 10h.1M46 10h1M62 10h3M67 10h1M74 10h.1M27 11h.1M65 11h1M68 11h.1M73 11h.1M25 12h.1M49 12h.1M62 12h3M67 12h.1M74 12h.1M22 13h.1M59 13h.1M68 13h.1M22 14h.1M34 14h.1M68 14h1M56 15h3M67 15h.1M72 15h.1M17 16h.1M49 16h.1M55 16h.1M57 16h.1M62 16h1M66 16h1M33 17h.1M35 17h.1M37 17h1M40 17h.1M43 17h.1M50 17h1M53 17h.1M31 18h.1M33 18h.1M56 18h.1M55 19h1M29 21h.1M36 21h.1M38 21h1M41 21h3M46 21h1M63 21h.1M4 22h.1M46 22h.1M58 22h.1M61 22h1M74 22h.1M27 23h.1M58 23h1M74 23h.1M16 24h.1M22 24h.1M25 24h.1M62 24h.1M25 25h.1M61 25h1M72 25h.1M20 26h.1M33 26h.1M35 26h.1M72 26h.1M19 27h.1M24 27h.1M33 27h.1M58 27h.1M18 28h.1M23 28h.1M60 28h.1M21 29h1M61 29h.1M15 30h1M58 30h.1M61 30h.1M42 31h4M58 31h1M22 32h1M28 32h.1M39 32h.1M47 32h.1M57 32h.1M60 32h.1M27 33h.1M32 33h.1M51 33h.1M57 33h.1M59 33h.1M61 33h.1M51 34h.1M57 34h.1M36 35h1M39 35h.1M41 35h.1M45 35h.1M57 35h1M45 36h.1M48 36h.1M53 36h.1M56 36h1M49 39h.1M50 40h2"/>
<path stroke="#9e2f7f" d="M27 0h.1M50 0h1M31 1h.1M52 1h.1M54 1h.1M31 2h.1M47 2h1M51 2h1M55 2h.1M57 2h.1M30 3h.1M58 3h.1M30 4h.1M59 4h.1M58 5h1M63 5h5M46 6h2M51 6h1M58 6h.1M62 6h.1M66 6h.1M69 6h.1M74 6h.1M42 7h.1M49 7h1M56 7h.1M58 7h.1M71 7h1M74 7h.1M34 8h1M48 8h.1M58 8h.1M70 8h.1M72 8h2M23 9h.1M36 9h.1M47 9h.1M59 9h.1M73 9h.1M24 10h1M27 10h.1M61 10h.1M66 10h.1M72 10h1M25 11h.1M48 11h1M51 11h.1M61 11h3M67 11h.1M21 12h2M27 12h.1M59 12h.1M61 12h.1M66 12h.1M68 12h.1M21 13h.1M24 13h.1M34 13h.1M50 13h2M21 14h.1M33 14h.1M35 14h.1M52 14h.1M56 14h2M33 15h1M45 15h4M53 15h.1M55 15h.1M68 15h1M71 15h.1M14 16h.1M18 16h.1M34 16h.1M36 16h.1M38 16h1M45 16h.1M50 16h4M58 16h.1M60 16h1M64 16h1M19 17h.1M29 17h1M32 17h.1M34 17h.1M36 17h.1M52 17h.1M57 17h.1M63 17h1M30 18h.1M34 18h2M52 18h.1M28 19h1M53 19h.1M51 20h.1M4 21h.1M24 21h4M32 21h3M48 21h.1M50 21h.1M60 21h.1M62 21h.1M64 21h1M5 22h.1M23 22h.1M29 22h.1M40 22h.1M45 22h.1M47 22h.1M60 22h.1M47 23h.1M67 23h.1M73 23h.1M15 24h.1M26 24h.1M38 24h.1M58 24h1M67 24h.1M72 24h.1M17 25h.1M21 25h.1M33 25h1M36 25h.1M39 25h.1M58 25h.1M60 25h.1M67 25h.1M17 26h2M25 26h.1M32 26h.1M34 26h.1M36 26h.1M40 26h.1M63 26h1M66 26h.1M17 27h1M32 27h.1M34 27h3M61 27h.1M72 27h2M32 28h.1M35 28h2M43 28h1M59 28h.1M61 28h.1M15 29h.1M32 29h.1M35 29h.1M39 29h.1M44 29h.1M59 29h1M14 30h.1M39 30h2M47 30h1M59 30h.1M62 30h.1M27 31h1M30 31h1M38 31h1M47 31h.1M56 31h1M60 31h2M31 32h.1M51 32h.1M58 32h1M61 32h1M24 33h2M33 33h1M36 33h2M58 33h.1M63 33h.1M25 34h1M59 34h.1M63 34h.1M29 35h6M40 35h.1M46 35h.1M50 35h1M59 35h1M62 35h.1M44 36h.1M46 36h1M54 36h1M59 36h.1M43 37h1M46 37h2M51 37h.1M52 38h.1M50 39h3"/>
<path stroke="#cd4071" d="M3 0h.1M26 0h.1M32 0h.1M38 0h.1M47 0h.1M49 0h.1M52 0h1M67 0h.1M69 0h.1M34 1h.1M46 1h5M55 1h.1M57 1h2M61 1h.1M69 1h.1M74 1h.1M26 2h.1M32 2h.1M34 2h.1M45 2h1M49 2h1M69 2h1M25 3h1M28 3h1M31 3h1M59 3h2M66 3h.1M26 4h1M61 4h.1M63 4h1M67 4h3M45 5h.1M62 5h.1M69 5h1M72 5h.1M40 6h.1M42 6h.1M44 6h1M70 6h3M28 7h.1M34 7h1M47 7h1M54 7h1M57 7h.1M23 8h.1M28 8h1M32 8h.1M47 8h.1M57 8h.1M20 9h.1M22 9h.1M24 9h6M34 9h1M42 9h1M46 9h.1M49 9h.1M58 9h.1M17 10h2M23 10h.1M28 10h1M35 10h.1M42 10h.1M45 10h.1M16 11h1M19 11h.1M22 11h2M28 11h1M33 11h1M36 11h.1M46 11h1M58 11h.1M60 11h.1M15 12h1M19 12h1M24 12h.1M53 12h.1M58 12h.1M60 12h.1M2 13h.1M15 13h.1M19 13h.1M23 13h.1M26 13h.1M33 13h.1M35 13h.1M49 13h.1M53 13h.1M57 13h1M15 14h.1M23 14h1M32 14h.1M38 14h.1M49 14h.1M53 14h2M16 15h1M19 15h.1M22 15h.1M29 15h.1M32 15h.1M35 15h3M51 15h1M54 15h.1M70 15h.1M15 16h1M19 16h.1M29 16h4M35 16h.1M37 16h.1M40 16h.1M42 16h.1M44 16h.1M59 16h.1M68 16h.1M14 17h.1M31 17h.1M65 17h2M12 18h1M29 18h.1M57 18h.1M61 18h.1M67 18h.1M4 19h1M12 19h.1M27 19h.1M52 19h.1M57 19h.1M60 19h2M1 20h4M7 20h.1M9 20h1M28 20h.1M52 20h4M2 21h.1M5 21h.1M8 21h.1M49 21h.1M51 21h.1M58 21h1M61 21h.1M66 21h.1M0 22h3M8 22h.1M10 22h.1M31 22h.1M41 22h1M44 22h.1M48 22h.1M7 23h.1M15 23h2M22 23h.1M28 23h.1M31 23h.1M37 23h3M42 23h.1M46 23h.1M48 23h.1M57 23h.1M72 23h.1M7 24h1M14 24h.1M17 24h.1M27 24h.1M30 24h.1M35 24h2M39 24h1M45 24h.1M47 24h.1M14 25h.1M16 25h.1M20 25h.1M32 25h.1M35 25h.1M37 25h1M40 25h.1M43 25h1M59 25h.1M13 26h.1M16 26h.1M28 26h1M31 26h.1M37 26h1M41 26h.1M58 26h.1M61 26h1M65 26h.1M67 26h1M25 27h.1M31 27h.1M38 27h.1M43 27h1M59 27h1M62 27h1M66 27h2M24 28h.1M29 28h2M33 28h1M38 28h3M45 28h.1M58 28h.1M14 29h.1M16 29h4M23 29h1M33 29h1M36 29h2M40 29h3M45 29h1M48 29h1M58 29h.1M69 29h.1M13 30h.1M17 30h.1M21 30h.1M23 30h2M38 30h.1M43 30h2M60 30h.1M64 30h.1M66 30h.1M68 30h.1M15 31h1M29 31h.1M33 31h.1M37 31h.1M48 31h1M51 31h1M54 31h1M63 31h.1M66 31h.1M68 31h.1M1 32h.1M13 32h1M21 32h.1M24 32h2M50 32h.1M67 32h.1M22 33h1M35 33h.1M47 33h.1M50 33h.1M47 34h1M27 35h1M47 35h2M61 35h.1M36 36h.1M42 36h1M51 36h1M42 37h.1M49 37h1M52 37h6M10 38h.1M44 38h.1M47 38h4M53 38h.1M45 39h.1M37 40h.1M44 40h.1M53 40h.1"/>
<path stroke="#f1605d" d="M1 0h.1M4 0h.1M6 0h.1M37 0h.1M39 0h1M43 0h3M48 0h.1M54 0h1M58 0h3M66 0h.1M68 0h.1M70 0h.1M3 1h1M8 1h.1M25 1h1M32 1h1M35 1h.1M37 1h1M45 1h.1M56 1h.1M60 1h.1M67 1h1M70 1h.1M73 1h.1M4 2h.1M24 2h.1M33 2h.1M35 2h2M39 2h.1M56 2h.1M58 2h.1M60 2h2M6 3h1M24 3h.1M27 3h.1M33 3h.1M41 3h.1M44 3h1M62 3h.1M64 3h1M68 3h.1M71 3h.1M6 4h.1M8 4h.1M25 4h.1M31 4h.1M33 4h.1M38 4h.1M40 4h3M45 4h.1M62 4h.1M65 4h1M71 4h3M25 5h.1M28 5h.1M30 5h.1M38 5h.1M40 5h2M44 5h.1M71 5h.1M74 5h.1M7 6h.1M27 6h.1M38 6h1M53 6h1M22 7h2M26 7h1M33 7h.1M36 7h.1M40 7h1M43 7h.1M45 7h1M51 7h2M18 8h2M22 8h.1M24 8h3M30 8h1M33 8h.1M36 8h.1M41 8h.1M43 8h.1M45 8h.1M49 8h.1M52 8h.1M12 9h.1M18 9h1M21 9h.1M31 9h.1M37 9h.1M44 9h1M50 9h1M54 9h.1M56 9h.1M16 10h.1M20 10h2M30 10h.1M32 10h.1M34 10h.1M36 10h.1M43 10h1M49 10h.1M58 10h2M15 11h.1M18 11h.1M21 11h.1M30 11h2M35 11h.1M41 11h2M52 11h1M55 11h.1M57 11h.1M59 11h.1M3 12h.1M14 12h.1M18 12h.1M29 12h4M43 12h.1M57 12h.1M3 13h.1M13 13h1M16 13h.1M18 13h.1M20 13h.1M25 13h.1M27 13h.1M29 13h.1M32 13h.1M36 13h.1M39 13h.1M45 13h.1M48 13h.1M56 13h.1M2 14h.1M16 14h.1M19 14h1M25 14h.1M29 14h2M36 14h1M39 14h.1M46 14h2M51 14h.1M14 15h1M18 15h.1M21 15h.1M23 15h.1M30 15h1M39 15h1M42 15h2M50 15h.1M13 16h.1M22 16h.1M28 16h.1M41 16h.1M43 16h.1M69 16h5M12 17h1M15 17h3M20 17h.1M27 17h1M58 17h4M68 17h.1M70 17h4M11 18h.1M19 18h1M28 18h.1M60 18h.1M62 18h4M71 18h.1M0 19h3M11 19h.1M13 19h.1M15 19h.1M17 19h3M26 19h.1M59 19h.1M63 19h1M66 19h1M70 19h.1M0 20h.1M6 20h.1M11 20h3M27 20h.1M57 20h2M61 20h3M68 20h.1M0 21h1M3 21h.1M6 21h1M9 21h2M15 21h1M23 21h.1M52 21h.1M54 21h.1M57 21h.1M73 21h1M6 22h1M9 22h.1M14 22h.1M17 22h.1M20 22h1M30 22h.1M35 22h4M43 22h.1M49 22h1M57 22h.1M73 22h.1M0 23h1M3 23h3M8 23h1M13 23h1M19 23h.1M29 23h1M32 23h.1M34 23h.1M41 23h.1M43 23h2M49 23h.1M0 24h1M5 24h1M13 24h.1M21 24h.1M29 24h.1M32 24h2M41 24h3M49 24h.1M57 24h.1M71 24h.1M7 25h1M13 25h.1M15 25h.1M19 25h.1M26 25h1M29 25h.1M31 25h.1M41 25h.1M45 25h.1M47 25h2M57 25h.1M68 25h.1M71 25h.1M30 26h.1M39 26h.1M42 26h4M57 26h.1M59 26h1M71 26h.1M16 27h.1M27 27h2M39 27h3M45 27h.1M57 27h.1M64 27h1M12 28h1M17 28h.1M42 28h.1M46 28h.1M49 28h.1M51 28h.1M62 28h.1M67 28h.1M71 28h3M25 29h.1M30 29h1M47 29h.1M57 29h.1M62 29h.1M64 29h.1M67 29h.1M73 29h1M1 30h.1M18 30h2M22 30h.1M32 30h5M42 30h.1M46 30h.1M49 30h.1M53 30h.1M57 30h.1M63 30h.1M67 30h.1M69 30h1M13 31h1M17 31h.1M20 31h.1M22 31h4M32 31h.1M34 31h1M53 31h.1M64 31h1M67 31h.1M70 31h.1M15 32h2M19 32h1M32 32h1M36 32h1M49 32h.1M63 32h3M68 32h2M72 32h.1M16 33h.1M21 33h.1M64 33h2M7 34h.1M20 34h.1M24 34h.1M50 34h.1M58 34h.1M65 34h2M26 35h.1M63 35h.1M66 35h.1M22 36h.1M35 36h.1M37 36h.1M39 36h2M49 36h1M60 36h1M7 37h.1M17 37h.1M39 37h2M45 37h.1M59 37h2M15 38h.1M55 38h3M61 38h.1M18 39h1M23 39h.1M44 39h.1M46 39h2M58 39h.1M18 40h.1M22 40h1M42 40h1M45 40h4"/>
<path stroke="#fd9668" d="M5 0h.1M16 0h4M22 0h.1M25 0h.1M33 0h2M41 0h1M57 0h.1M63 0h.1M65 0h.1M71 0h.1M73 0h.1M0 1h.1M5 1h1M16 1h1M23 1h1M36 1h.1M39 1h1M44 1h.1M63 1h3M71 1h1M0 2h.1M3 2h.1M6 2h2M23 2h.1M25 2h.1M38 2h.1M40 2h.1M44 2h.1M59 2h.1M63 2h.1M65 2h3M72 2h.1M74 2h.1M0 3h.1M3 3h.1M21 3h.1M34 3h1M37 3h3M42 3h1M63 3h.1M67 3h.1M69 3h1M72 3h2M0 4h3M7 4h.1M11 4h.1M16 4h.1M28 4h1M32 4h.1M34 4h.1M37 4h.1M44 4h.1M6 5h.1M17 5h2M21 5h.1M23 5h.1M26 5h1M29 5h.1M31 5h1M34 5h.1M39 5h.1M73 5h.1M1 6h.1M5 6h1M8 6h.1M18 6h.1M23 6h3M28 6h7M37 6h.1M41 6h.1M43 6h.1M3 7h.1M6 7h2M18 7h1M21 7h.1M25 7h.1M29 7h3M37 7h.1M39 7h.1M44 7h.1M1 8h2M8 8h1M11 8h2M16 8h1M21 8h.1M37 8h.1M42 8h.1M44 8h.1M46 8h.1M50 8h.1M53 8h1M56 8h.1M5 9h.1M16 9h.1M32 9h1M41 9h.1M52 9h1M3 10h.1M14 10h1M31 10h.1M33 10h.1M37 10h.1M51 10h2M56 10h1M0 11h.1M13 11h1M20 11h.1M40 11h.1M44 11h.1M54 11h.1M56 11h.1M2 12h.1M4 12h.1M6 12h.1M17 12h.1M28 12h.1M34 12h.1M36 12h.1M39 12h3M44 12h1M47 12h1M55 12h1M8 13h.1M17 13h.1M28 13h.1M30 13h1M40 13h1M44 13h.1M46 13h1M54 13h.1M3 14h.1M5 14h.1M8 14h.1M14 14h.1M17 14h1M27 14h1M40 14h1M43 14h2M50 14h.1M1 15h7M13 15h.1M20 15h.1M24 15h3M41 15h.1M2 16h2M8 16h.1M20 16h1M26 16h.1M1 17h.1M3 17h.1M8 17h.1M21 17h1M25 17h1M69 17h.1M0 18h1M14 18h3M21 18h.1M23 18h1M27 18h.1M58 18h1M68 18h2M72 18h2M6 19h.1M9 19h1M14 19h.1M16 19h.1M21 19h1M24 19h1M58 19h.1M65 19h.1M68 19h.1M72 19h.1M8 20h.1M15 20h1M18 20h.1M20 20h.1M60 20h.1M65 20h2M69 20h.1M73 20h1M12 21h.1M14 21h.1M17 21h.1M20 21h.1M53 21h.1M55 21h1M67 21h.1M70 21h.1M15 22h1M18 22h1M32 22h2M51 22h.1M56 22h.1M67 22h3M72 22h.1M2 23h.1M10 23h.1M18 23h.1M20 23h.1M35 23h1M51 23h.1M69 23h2M2 24h2M9 24h.1M19 24h1M28 24h.1M31 24h.1M46 24h.1M50 24h1M69 24h1M3 25h1M11 25h1M18 25h.1M28 25h.1M30 25h.1M42 25h.1M46 25h.1M54 25h2M70 25h.1M8 26h.1M14 26h1M27 26h.1M47 26h1M70 26h.1M5 27h.1M9 27h1M12 27h1M30 27h.1M46 27h1M54 27h.1M70 27h1M0 28h.1M4 28h2M10 28h1M14 28h.1M16 28h.1M25 28h.1M27 28h1M50 28h.1M52 28h.1M56 28h1M65 28h1M68 28h1M5 29h.1M7 29h.1M13 29h.1M26 29h.1M28 29h1M52 29h.1M54 29h.1M63 29h.1M65 29h1M68 29h.1M70 29h.1M72 29h.1M4 30h.1M26 30h2M31 30h.1M52 30h.1M55 30h1M65 30h.1M71 30h3M0 31h2M11 31h1M18 31h.1M36 31h.1M50 31h.1M69 31h.1M73 31h.1M0 32h.1M11 32h1M18 32h.1M35 32h.1M38 32h.1M48 32h.1M71 32h.1M73 32h.1M2 33h1M12 33h.1M15 33h.1M18 33h2M48 33h1M67 33h4M2 34h.1M12 34h3M17 34h.1M19 34h.1M21 34h.1M23 34h.1M49 34h.1M64 34h.1M68 34h.1M70 34h.1M0 35h2M12 35h1M17 35h.1M21 35h.1M23 35h2M64 35h1M67 35h2M72 35h.1M0 36h.1M4 36h1M12 36h1M25 36h.1M27 36h.1M30 36h.1M32 36h2M38 36h.1M62 36h7M73 36h.1M6 37h.1M9 37h.1M11 37h2M15 37h1M19 37h.1M21 37h1M25 37h.1M27 37h.1M36 37h2M62 37h1M5 38h.1M9 38h.1M11 38h.1M16 38h1M19 38h.1M21 38h.1M23 38h1M30 38h.1M38 38h.1M40 38h3M45 38h1M54 38h.1M62 38h1M9 39h1M16 39h.1M20 39h.1M22 39h.1M27 39h.1M32 39h.1M41 39h2M54 39h1M57 39h.1M59 39h2M63 39h.1M3 40h1M7 40h.1M9 40h.1M11 40h.1M14 40h.1M16 40h.1M19 40h2M24 40h.1M31 40h.1M36 40h.1M38 40h1M41 40h.1M54 40h.1M59 40h.1"/>
<path stroke="#feca8d" d="M0 0h.1M2 0h.1M7 0h1M12 0h.1M24 0h.1M36 0h.1M56 0h.1M62 0h.1M64 0h.1M72 0h.1M2 1h.1M7 1h.1M10 1h.1M12 1h3M18 1h3M41 1h.1M43 1h.1M62 1h.1M1 2h1M5 2h.1M9 2h.1M11 2h.1M14 2h2M20 2h.1M64 2h.1M71 2h.1M73 2h.1M1 3h.1M4 3h1M8 3h1M12 3h.1M16 3h2M20 3h.1M22 3h.1M36 3h.1M9 4h1M12 4h.1M14 4h.1M17 4h4M24 4h.1M35 4h1M39 4h.1M0 5h1M5 5h.1M8 5h1M16 5h.1M24 5h.1M33 5h.1M35 5h2M43 5h.1M4 6h.1M9 6h.1M15 6h2M19 6h.1M21 6h1M36 6h.1M0 7h1M4 7h1M11 7h2M15 7h2M20 7h.1M38 7h.1M0 8h.1M4 8h3M10 8h.1M40 8h.1M51 8h.1M55 8h.1M1 9h3M6 9h.1M11 9h.1M15 9h.1M17 9h.1M55 9h.1M57 9h.1M0 10h1M4 10h3M9 10h.1M41 10h.1M50 10h.1M54 10h1M1 11h3M6 11h1M37 11h.1M45 11h.1M0 12h1M5 12h.1M7 12h1M13 12h.1M35 12h.1M37 12h1M46 12h.1M54 12h.1M0 13h1M4 13h.1M7 13h.1M9 13h.1M12 13h.1M37 13h1M42 13h1M55 13h.1M1 14h.1M4 14h.1M6 14h1M13 14h.1M26 14h.1M0 15h.1M9 15h.1M28 15h.1M1 16h.1M5 16h2M12 16h.1M24 16h1M0 17h.1M2 17h.1M5 17h.1M11 17h.1M23 17h1M2 18h2M6 18h1M9 18h.1M18 18h.1M22 18h.1M25 18h1M7 19h1M69 19h.1M71 19h.1M73 19h1M17 20h.1M19 20h.1M23 20h3M70 20h2M13 21h.1M18 21h1M21 21h.1M68 21h.1M71 21h1M13 22h.1M22 22h.1M54 22h1M71 22h.1M11 23h1M21 23h.1M33 23h.1M50 23h.1M52 23h2M10 24h.1M12 24h.1M48 24h.1M52 24h.1M55 24h.1M68 24h.1M9 25h.1M51 25h2M3 26h.1M5 26h1M10 26h2M26 26h.1M49 26h1M53 26h3M69 26h.1M4 27h.1M7 27h1M11 27h.1M26 27h.1M48 27h2M53 27h.1M55 27h.1M69 27h.1M1 28h.1M3 28h.1M7 28h.1M9 28h.1M15 28h.1M26 28h.1M47 28h.1M53 28h2M63 28h1M70 28h.1M1 29h3M6 29h.1M9 29h1M12 29h.1M27 29h.1M50 29h1M53 29h.1M56 29h.1M71 29h.1M0 30h.1M3 30h.1M5 30h1M8 30h1M12 30h.1M29 30h1M54 30h.1M3 31h7M19 31h.1M21 31h.1M71 31h1M74 31h.1M2 32h.1M4 32h2M10 32h.1M34 32h.1M74 32h.1M1 33h.1M4 33h.1M7 33h.1M13 33h1M17 33h.1M73 33h.1M0 34h1M3 34h1M6 34h.1M8 34h.1M16 34h.1M18 34h.1M72 34h.1M4 35h.1M6 35h1M9 35h.1M11 35h.1M14 35h.1M16 35h.1M18 35h1M22 35h.1M70 35h.1M73 35h.1M1 36h.1M3 36h.1M6 36h2M11 36h.1M15 36h2M19 36h1M23 36h1M28 36h1M71 36h.1M74 36h.1M0 37h.1M4 37h1M8 37h.1M10 37h.1M14 37h.1M18 37h.1M20 37h.1M23 37h1M26 37h.1M30 37h.1M32 37h.1M35 37h.1M64 37h3M71 37h.1M0 38h1M6 38h2M13 38h1M18 38h.1M20 38h.1M22 38h.1M25 38h.1M27 38h2M31 38h1M36 38h.1M39 38h.1M59 38h1M64 38h.1M4 39h4M11 39h4M17 39h.1M21 39h.1M24 39h.1M30 39h1M33 39h3M38 39h.1M40 39h.1M56 39h.1M0 40h.1M2 40h.1M6 40h.1M8 40h.1M10 40h.1M17 40h.1M26 40h.1M29 40h.1M32 40h1M35 40h.1M40 40h.1M55 40h3M60 40h.1M66 40h.1M68 40h.1"/>
<path stroke="#fcfdbf" d="M9 0h2M13 0h2M21 0h.1M23 0h.1M1 1h.1M9 1h.1M11 1h.1M22 1h.1M42 1h.1M10 2h.1M12 2h1M17 2h2M21 2h1M41 2h2M2 3h.1M10 3h1M13 3h2M19 3h.1M23 3h.1M4 4h1M13 4h.1M15 4h.1M22 4h1M2 5h2M7 5h.1M10 5h5M20 5h.1M22 5h.1M0 6h.1M2 6h1M10 6h4M20 6h.1M2 7h.1M9 7h1M14 7h.1M14 8h1M38 8h1M0 9h.1M7 9h3M13 9h1M38 9h2M2 10h.1M8 10h.1M10 10h3M38 10h2M5 11h.1M8 11h4M38 11h1M9 12h3M5 13h1M10 13h1M0 14h.1M9 14h3M42 14h.1M10 15h2M0 16h.1M9 16h2M23 16h.1M27 16h.1M4 17h.1M6 17h1M9 17h1M5 18h.1M8 18h.1M10 18h.1M23 19h.1M21 20h1M22 21h.1M69 21h.1M11 22h1M52 22h1M55 23h1M68 23h.1M11 24h.1M18 24h.1M53 24h1M56 24h.1M0 25h2M5 25h1M10 25h.1M50 25h.1M69 25h.1M0 26h2M4 26h.1M7 26h.1M9 26h.1M51 26h1M0 27h3M6 27h.1M14 27h1M51 27h1M56 27h.1M2 28h.1M8 28h.1M48 28h.1M0 29h.1M8 29h.1M11 29h.1M55 29h.1M2 30h.1M7 30h.1M10 30h1M50 30h1M3 32h.1M7 32h2M0 33h.1M5 33h1M8 33h3M72 33h.1M74 33h.1M5 34h.1M9 34h2M22 34h.1M69 34h.1M71 34h.1M73 34h1M3 35h.1M5 35h.1M8 35h.1M10 35h.1M15 35h.1M20 35h.1M71 35h.1M74 35h.1M2 36h.1M9 36h1M14 36h.1M18 36h.1M21 36h.1M26 36h.1M31 36h.1M70 36h.1M72 36h.1M1 37h2M28 37h1M31 37h.1M33 37h1M68 37h2M72 37h2M2 38h2M12 38h.1M26 38h.1M33 38h2M37 38h.1M65 38h9M0 39h3M25 39h1M28 39h1M37 39h.1M39 39h.1M62 39h.1M64 39h10M1 40h.1M5 40h.1M12 40h1M15 40h.1M25 40h.1M27 40h1M30 40h.1M34 40h.1M61 40h4M67 40h.1M69 40h5"/>
</g>
<use href="#ol"/>
</g>
<rect x="0" y="0" width="262.4" height="142.2" fill="none" stroke="#8c8c8c" stroke-width="1"/>
<text class="pl" x="6.8" y="30.0" fill="#000" style="fill:#000">(h)</text>
<text x="265.7" y="117.7">30°N</text>
<text x="265.7" y="82.3">35°N</text>
<text x="265.7" y="46.9">40°N</text>
<text x="265.7" y="11.5">45°N</text>
<text x="14.1" y="154.6" text-anchor="middle">65°E</text>
<text x="49.5" y="154.6" text-anchor="middle">70°E</text>
<text x="84.9" y="154.6" text-anchor="middle">75°E</text>
<text x="120.3" y="154.6" text-anchor="middle">80°E</text>
<text x="155.7" y="154.6" text-anchor="middle">85°E</text>
<text x="191.1" y="154.6" text-anchor="middle">90°E</text>
<text x="226.5" y="154.6" text-anchor="middle">95°E</text>
<text x="261.9" y="154.6" text-anchor="middle">100°E</text>
<g>
<path d="M0 159.40L12.23 155.80V163.00Z" fill="#000004"/>
<path d="M262.40 159.40L250.17 155.80V163.00Z" fill="#fcfdbf"/>
<rect x="11.93" y="155.80" width="24.15" height="7.20" fill="#000004"/>
<rect x="35.78" y="155.80" width="24.15" height="7.20" fill="#180f3d"/>
<rect x="59.64" y="155.80" width="24.15" height="7.20" fill="#440f76"/>
<rect x="83.49" y="155.80" width="24.15" height="7.20" fill="#721f81"/>
<rect x="107.35" y="155.80" width="24.15" height="7.20" fill="#9e2f7f"/>
<rect x="131.20" y="155.80" width="24.15" height="7.20" fill="#cd4071"/>
<rect x="155.05" y="155.80" width="24.15" height="7.20" fill="#f1605d"/>
<rect x="178.91" y="155.80" width="24.15" height="7.20" fill="#fd9668"/>
<rect x="202.76" y="155.80" width="24.15" height="7.20" fill="#feca8d"/>
<rect x="226.62" y="155.80" width="24.15" height="7.20" fill="#fcfdbf"/>
<path d="M0 159.40L11.93 155.80H250.47L262.40 159.40L250.47 163.00H11.93Z" fill="none" stroke="#777" stroke-width="0.6"/>
<text x="11.93" y="180.60" text-anchor="middle">0.0</text>
<text x="59.64" y="180.60" text-anchor="middle">0.2</text>
<text x="107.35" y="180.60" text-anchor="middle">0.4</text>
<text x="155.05" y="180.60" text-anchor="middle">0.6</text>
<text x="202.76" y="180.60" text-anchor="middle">0.8</text>
<text x="250.47" y="180.60" text-anchor="middle">1.0</text>
<path d="M11.93 163.00v4.2M59.64 163.00v4.2M107.35 163.00v4.2M155.05 163.00v4.2M202.76 163.00v4.2M250.47 163.00v4.2" stroke="#222" stroke-width="0.9" fill="none"/>
<text class="cl" x="131.2" y="197.8" text-anchor="middle" xml:space="preserve">WRF-ERA5-Land Pearson corr. coef. (-)</text>
</g>
</g>
<g transform="translate(9.2,689.6)">
<path d="M14.10 0V142.2M49.50 0V142.2M84.90 0V142.2M120.30 0V142.2M155.70 0V142.2M191.10 0V142.2M226.50 0V142.2M261.90 0V142.2M0 112.68H262.4M0 77.28H262.4M0 41.88H262.4M0 6.48H262.4" stroke="#e2e2e2" stroke-width="0.7" fill="none"/>
<g clip-path="url(#cp)">
<g class="d" transform="translate(-0.06,141.00) scale(3.540,-3.540)">
<path stroke="#67001f" d="M19 0h.1M19 1h.1M19 2h.1M19 3h.1M67 3h.1M19 4h.1M72 4h2M19 5h.1M64 5h1M67 5h.1M72 5h.1M74 5h.1M18 6h.1M63 6h.1M72 6h2M18 7h.1M63 7h.1M68 7h.1M72 7h2M18 8h.1M62 8h.1M65 8h.1M74 8h.1M18 9h.1M73 9h1M18 10h.1M64 10h.1M67 10h.1M18 11h.1M65 11h.1M18 12h.1M65 12h1M70 12h.1M72 12h.1M18 13h.1M73 13h1M17 14h.1M74 14h.1M17 15h.1M17 16h.1M17 17h.1"/>
<path stroke="#b61f2e" d="M20 0h.1M72 0h2M20 1h.1M64 1h.1M68 1h.1M20 2h.1M56 2h2M64 2h.1M20 3h.1M61 3h.1M64 3h2M68 3h.1M72 3h.1M74 3h.1M20 4h.1M63 4h8M20 5h.1M60 5h1M63 5h.1M66 5h.1M68 5h3M73 5h.1M19 6h.1M47 6h1M50 6h.1M60 6h1M64 6h4M71 6h.1M19 7h1M60 7h.1M62 7h.1M64 7h3M69 7h2M19 8h.1M63 8h1M66 8h2M71 8h2M19 9h.1M62 9h10M63 10h.1M65 10h1M68 10h6M63 11h1M66 11h1M69 11h5M21 12h.1M32 12h.1M41 12h.1M64 12h.1M67 12h2M71 12h.1M73 12h1M20 13h.1M40 13h.1M66 13h1M72 13h.1M71 14h.1M73 14h.1M56 19h.1M24 20h1M32 20h.1M16 21h.1M56 22h1M24 23h.1M57 23h1M24 24h.1M22 25h.1M24 25h.1M64 26h.1M70 29h1M26 30h4M32 30h4M38 30h4M50 30h1M65 30h5"/>
<path stroke="#dc6e57" d="M21 0h1M53 0h1M57 0h.1M59 0h.1M62 0h.1M64 0h7M21 1h.1M56 1h1M62 1h1M65 1h.1M67 1h.1M69 1h3M30 2h1M55 2h.1M59 2h4M65 2h6M28 3h.1M30 3h.1M55 3h.1M57 3h1M60 3h.1M62 3h1M69 3h2M73 3h.1M31 4h1M38 4h2M61 4h1M21 5h1M30 5h.1M32 5h1M40 5h.1M45 5h5M56 5h.1M59 5h.1M62 5h.1M20 6h.1M32 6h.1M35 6h1M44 6h2M49 6h.1M53 6h5M62 6h.1M69 6h1M21 7h.1M36 7h2M46 7h.1M48 7h1M59 7h.1M61 7h.1M20 8h1M26 8h.1M36 8h3M60 8h1M69 8h1M21 9h.1M38 9h.1M41 9h.1M61 9h.1M19 10h.1M21 10h.1M39 10h.1M41 10h1M44 10h.1M59 10h.1M61 10h1M19 11h.1M40 11h3M61 11h1M68 11h.1M19 12h.1M22 12h.1M39 12h1M42 12h.1M45 12h2M19 13h.1M22 13h.1M32 13h.1M39 13h.1M41 13h.1M44 13h.1M46 13h.1M48 13h.1M64 13h1M68 13h3M18 14h2M22 14h.1M32 14h.1M38 14h1M44 14h.1M49 14h6M64 14h6M72 14h.1M26 15h1M44 15h.1M50 15h.1M56 15h.1M67 15h.1M69 15h.1M71 15h1M74 15h.1M18 16h.1M28 16h.1M33 16h.1M38 16h.1M43 16h1M48 16h2M27 17h1M43 17h2M48 17h.1M17 18h.1M24 18h1M27 18h.1M29 18h2M38 18h.1M45 18h2M49 18h.1M52 18h.1M56 18h1M17 19h.1M22 19h.1M24 19h2M30 19h2M41 19h.1M47 19h1M50 19h.1M55 19h.1M57 19h.1M70 19h.1M17 20h.1M23 20h.1M26 20h.1M29 20h2M33 20h.1M55 20h4M17 21h.1M23 21h2M29 21h2M33 21h1M47 21h3M54 21h.1M56 21h1M16 22h.1M21 22h4M33 22h.1M50 22h1M53 22h2M66 22h.1M16 23h.1M18 23h.1M25 23h.1M27 23h.1M47 23h3M55 23h1M59 23h.1M67 23h.1M71 23h1M16 24h.1M18 24h.1M21 24h.1M23 24h.1M25 24h2M47 24h2M55 24h5M64 24h1M67 24h1M73 24h.1M16 25h.1M18 25h.1M23 25h.1M56 25h1M64 25h.1M66 25h4M16 26h1M22 26h.1M24 26h.1M63 26h.1M65 26h3M71 26h1M16 27h.1M22 27h.1M24 27h.1M64 27h.1M70 27h.1M16 28h.1M70 28h.1M73 28h.1M15 29h.1M22 29h1M36 29h.1M49 29h.1M65 29h2M69 29h.1M31 30h.1M37 30h.1M43 30h6M52 30h12"/>
<path stroke="#f7b799" d="M27 0h.1M29 0h.1M31 0h3M42 0h2M46 0h.1M48 0h1M51 0h1M55 0h1M58 0h.1M60 0h1M63 0h.1M29 1h.1M33 1h.1M38 1h.1M40 1h.1M42 1h.1M46 1h.1M48 1h1M51 1h1M54 1h1M58 1h3M66 1h.1M73 1h1M21 2h.1M29 2h.1M33 2h.1M38 2h.1M40 2h.1M48 2h.1M50 2h.1M72 2h2M21 3h.1M29 3h.1M33 3h.1M54 3h.1M56 3h.1M59 3h.1M21 4h1M28 4h.1M30 4h.1M35 4h.1M37 4h.1M41 4h.1M49 4h1M54 4h6M23 5h.1M31 5h.1M34 5h1M37 5h2M44 5h.1M51 5h.1M57 5h1M21 6h3M29 6h2M33 6h1M37 6h.1M39 6h1M43 6h.1M51 6h1M59 6h.1M22 7h2M31 7h.1M33 7h2M39 7h.1M44 7h1M47 7h.1M50 7h2M54 7h1M57 7h1M22 8h3M27 8h.1M40 8h8M50 8h.1M59 8h.1M20 9h.1M22 9h2M26 9h1M37 9h.1M39 9h1M42 9h3M47 9h.1M49 9h1M59 9h1M20 10h.1M22 10h1M27 10h.1M29 10h.1M34 10h.1M37 10h1M40 10h.1M43 10h.1M45 10h1M58 10h.1M60 10h.1M20 11h3M25 11h1M37 11h2M44 11h.1M46 11h.1M48 11h.1M60 11h.1M20 12h.1M23 12h.1M25 12h1M31 12h.1M33 12h.1M37 12h1M43 12h1M48 12h1M60 12h3M21 13h.1M23 13h1M29 13h.1M35 13h1M38 13h.1M42 13h1M45 13h.1M47 13h.1M49 13h4M59 13h.1M61 13h2M21 14h.1M23 14h.1M28 14h1M31 14h.1M33 14h.1M37 14h.1M40 14h3M45 14h3M57 14h1M63 14h.1M18 15h4M25 15h.1M28 15h1M31 15h2M38 15h5M45 15h4M52 15h3M57 15h1M62 15h4M68 15h.1M70 15h.1M73 15h.1M22 16h1M25 16h2M29 16h1M32 16h.1M37 16h.1M39 16h3M45 16h.1M47 16h.1M51 16h1M54 16h.1M56 16h1M69 16h.1M74 16h.1M18 17h.1M22 17h.1M24 17h2M29 17h3M35 17h.1M37 17h5M46 17h1M49 17h2M54 17h3M63 17h2M71 17h1M18 18h1M26 18h.1M28 18h.1M37 18h.1M39 18h5M48 18h.1M50 18h1M54 18h1M64 18h2M71 18h.1M74 18h.1M18 19h.1M20 19h.1M23 19h.1M27 19h2M33 19h.1M36 19h4M42 19h1M46 19h.1M49 19h.1M51 19h3M58 19h.1M61 19h.1M71 19h.1M74 19h.1M18 20h4M27 20h1M34 20h3M40 20h2M46 20h2M50 20h4M61 20h1M66 20h1M70 20h1M19 21h3M26 21h1M32 21h.1M35 21h1M44 21h2M51 21h2M55 21h.1M58 21h1M61 21h1M66 21h.1M72 21h.1M17 22h3M26 22h1M30 22h2M34 22h1M41 22h.1M45 22h4M52 22h.1M58 22h.1M71 22h1M17 23h.1M19 23h4M26 23h.1M28 23h1M46 23h.1M51 23h.1M53 23h1M60 23h.1M63 23h1M66 23h.1M68 23h2M19 24h.1M22 24h.1M46 24h.1M50 24h.1M52 24h.1M54 24h.1M61 24h.1M63 24h.1M66 24h.1M69 24h3M74 24h.1M17 25h.1M19 25h.1M21 25h.1M25 25h2M47 25h5M55 25h.1M58 25h.1M60 25h1M63 25h.1M65 25h.1M71 25h1M74 25h.1M18 26h1M21 26h.1M23 26h.1M25 26h.1M27 26h.1M52 26h.1M56 26h.1M60 26h.1M69 26h1M73 26h1M18 27h3M23 27h.1M65 27h4M71 27h3M17 28h1M20 28h4M63 28h1M66 28h1M69 28h.1M71 28h1M74 28h.1M16 29h2M24 29h.1M26 29h1M29 29h1M32 29h3M37 29h6M48 29h.1M50 29h2M61 29h3M68 29h.1M72 29h2"/>
<path stroke="#fae7dc" d="M23 0h3M28 0h.1M30 0h.1M35 0h6M45 0h.1M50 0h.1M22 1h1M27 1h1M30 1h2M34 1h1M37 1h.1M39 1h.1M41 1h.1M43 1h2M47 1h.1M50 1h.1M53 1h.1M22 2h1M27 2h1M32 2h.1M34 2h3M39 2h.1M41 2h6M49 2h.1M51 2h3M22 3h1M27 3h.1M31 3h1M34 3h1M37 3h11M50 3h.1M53 3h.1M23 4h.1M29 4h.1M33 4h1M36 4h.1M42 4h6M24 5h.1M28 5h1M36 5h.1M41 5h.1M43 5h.1M54 5h1M28 6h.1M38 6h.1M25 7h5M32 7h.1M40 7h3M53 7h.1M56 7h.1M28 8h1M31 8h.1M33 8h2M49 8h.1M52 8h3M25 9h.1M28 9h1M34 9h2M46 9h.1M48 9h.1M51 9h.1M54 9h.1M57 9h1M24 10h2M28 10h.1M30 10h1M35 10h1M47 10h4M57 10h.1M24 11h.1M29 11h7M45 11h.1M47 11h.1M49 11h.1M51 11h.1M59 11h.1M24 12h.1M27 12h.1M29 12h1M35 12h1M51 12h1M54 12h.1M59 12h.1M25 13h3M30 13h1M33 13h.1M37 13h.1M54 13h4M60 13h.1M24 14h3M30 14h.1M34 14h2M56 14h.1M59 14h.1M61 14h1M23 15h1M34 15h3M51 15h.1M59 15h.1M61 15h.1M19 16h2M24 16h.1M31 16h.1M34 16h2M46 16h.1M53 16h.1M55 16h.1M58 16h.1M61 16h4M67 16h1M70 16h2M19 17h.1M21 17h.1M23 17h.1M33 17h1M36 17h.1M52 17h1M58 17h4M66 17h.1M68 17h2M73 17h1M20 18h3M32 18h4M53 18h.1M58 18h3M63 18h.1M67 18h3M72 18h1M19 19h.1M21 19h.1M34 19h1M44 19h1M59 19h1M64 19h5M72 19h1M38 20h1M43 20h2M49 20h.1M60 20h.1M64 20h1M68 20h1M72 20h2M18 21h.1M28 21h.1M40 21h3M60 21h.1M63 21h2M67 21h4M73 21h.1M28 22h1M36 22h.1M40 22h.1M42 22h2M59 22h1M62 22h3M67 22h3M30 23h1M44 23h1M52 23h.1M61 23h1M65 23h.1M73 23h.1M17 24h.1M20 24h.1M28 24h2M44 24h1M51 24h.1M53 24h.1M62 24h.1M20 25h.1M28 25h.1M46 25h.1M53 25h1M59 25h.1M73 25h.1M20 26h.1M26 26h.1M48 26h3M53 26h2M57 26h2M61 26h1M17 27h.1M25 27h2M48 27h.1M60 27h.1M63 27h.1M19 28h.1M40 28h.1M65 28h.1M68 28h.1M19 29h2M25 29h.1M28 29h.1M31 29h.1M44 29h3M53 29h1M60 29h.1"/>
<path stroke="#e1edf3" d="M47 0h.1M25 1h1M36 1h.1M25 2h1M25 3h1M36 3h.1M49 3h.1M51 3h1M25 4h.1M27 4h.1M51 4h.1M26 5h1M42 5h.1M52 5h1M25 6h.1M27 6h.1M41 6h1M30 8h.1M32 8h.1M51 8h.1M57 8h1M30 9h1M33 9h.1M52 9h1M55 9h1M32 10h1M52 10h4M27 11h1M50 11h.1M52 11h6M28 12h.1M34 12h.1M50 12h.1M53 12h.1M55 12h3M34 13h.1M60 14h.1M30 15h.1M60 15h.1M59 16h1M66 16h.1M73 16h.1M20 17h.1M67 17h.1M62 18h.1M62 19h1M63 20h.1M37 21h2M74 21h.1M38 22h1M61 22h.1M73 22h1M32 23h1M43 23h.1M74 23h.1M31 24h.1M62 25h.1M28 26h1M46 26h1M28 27h.1M31 27h.1M38 27h.1M43 27h.1M46 27h1M49 27h4M59 27h.1M61 27h1M25 28h1M31 28h.1M34 28h3M41 28h.1M43 28h1M46 28h4M60 28h2M55 29h4"/>
<path stroke="#a7d0e4" d="M24 1h.1M24 2h.1M24 3h.1M24 4h.1M26 4h.1M53 4h.1M25 5h.1M26 6h.1M56 8h.1M32 9h.1M37 22h.1M34 23h2M40 23h2M32 24h1M43 24h.1M29 25h3M41 25h1M44 25h1M30 26h2M40 26h1M44 26h1M30 27h.1M32 27h2M36 27h1M39 27h2M44 27h1M54 27h.1M56 27h2M27 28h3M32 28h1M38 28h1M42 28h.1M45 28h.1M51 28h2M59 28h.1"/>
<path stroke="#529dc8" d="M37 23h1M42 24h.1M33 25h1M40 25h.1M43 25h.1M33 26h.1M43 26h.1M29 27h.1M35 27h.1M42 27h.1M55 27h.1M54 28h.1M58 28h.1"/>
<path stroke="#246aae" d="M52 4h.1M39 23h.1M34 24h1M39 24h2M35 25h.1M38 25h1M34 26h.1M36 26h3M42 26h.1M55 28h.1M57 28h.1"/>
<path stroke="#053061" d="M36 24h.1M38 24h.1M36 25h1M35 26h.1M56 28h.1"/>
<path stroke="#053061" d="M37 24h.1"/>
</g>
<use href="#ol"/>
</g>
<rect x="0" y="0" width="262.4" height="142.2" fill="none" stroke="#8c8c8c" stroke-width="1"/>
<text class="pl" x="6.8" y="30.0" fill="#000" style="fill:#000">(i)</text>
<text x="265.7" y="117.7">30°N</text>
<text x="265.7" y="82.3">35°N</text>
<text x="265.7" y="46.9">40°N</text>
<text x="265.7" y="11.5">45°N</text>
<text x="14.1" y="154.6" text-anchor="middle">65°E</text>
<text x="49.5" y="154.6" text-anchor="middle">70°E</text>
<text x="84.9" y="154.6" text-anchor="middle">75°E</text>
<text x="120.3" y="154.6" text-anchor="middle">80°E</text>
<text x="155.7" y="154.6" text-anchor="middle">85°E</text>
<text x="191.1" y="154.6" text-anchor="middle">90°E</text>
<text x="226.5" y="154.6" text-anchor="middle">95°E</text>
<text x="261.9" y="154.6" text-anchor="middle">100°E</text>
<g>
<path d="M0 159.40L12.23 155.80V163.00Z" fill="#67001f"/>
<path d="M262.40 159.40L250.17 155.80V163.00Z" fill="#053061"/>
<rect x="11.93" y="155.80" width="24.15" height="7.20" fill="#67001f"/>
<rect x="35.78" y="155.80" width="24.15" height="7.20" fill="#b61f2e"/>
<rect x="59.64" y="155.80" width="24.15" height="7.20" fill="#dc6e57"/>
<rect x="83.49" y="155.80" width="24.15" height="7.20" fill="#f7b799"/>
<rect x="107.35" y="155.80" width="24.15" height="7.20" fill="#fae7dc"/>
<rect x="131.20" y="155.80" width="24.15" height="7.20" fill="#e1edf3"/>
<rect x="155.05" y="155.80" width="24.15" height="7.20" fill="#a7d0e4"/>
<rect x="178.91" y="155.80" width="24.15" height="7.20" fill="#529dc8"/>
<rect x="202.76" y="155.80" width="24.15" height="7.20" fill="#246aae"/>
<rect x="226.62" y="155.80" width="24.15" height="7.20" fill="#053061"/>
<path d="M0 159.40L11.93 155.80H250.47L262.40 159.40L250.47 163.00H11.93Z" fill="none" stroke="#777" stroke-width="0.6"/>
<text x="11.93" y="180.60" text-anchor="middle">0.0</text>
<text x="59.64" y="180.60" text-anchor="middle">0.4</text>
<text x="107.35" y="180.60" text-anchor="middle">0.8</text>
<text x="155.05" y="180.60" text-anchor="middle">1.2</text>
<text x="202.76" y="180.60" text-anchor="middle">1.6</text>
<text x="250.47" y="180.60" text-anchor="middle">2.0</text>
<path d="M11.93 163.00v4.2M59.64 163.00v4.2M107.35 163.00v4.2M155.05 163.00v4.2M202.76 163.00v4.2M250.47 163.00v4.2" stroke="#222" stroke-width="0.9" fill="none"/>
<text class="cl" x="131.2" y="197.8" text-anchor="middle" xml:space="preserve">Annual precip. HAR / WRF (-)</text>
</g>
</g>
<g transform="translate(324.3,689.6)">
<path d="M14.10 0V142.2M49.50 0V142.2M84.90 0V142.2M120.30 0V142.2M155.70 0V142.2M191.10 0V142.2M226.50 0V142.2M261.90 0V142.2M0 112.68H262.4M0 77.28H262.4M0 41.88H262.4M0 6.48H262.4" stroke="#e2e2e2" stroke-width="0.7" fill="none"/>
<g clip-path="url(#cp)">
<g class="d" transform="translate(-0.06,141.00) scale(3.540,-3.540)">
<path stroke="#f7b799" d="M44 4h.1M16 29h2"/>
<path stroke="#fddbc7" d="M20 2h.1M39 2h.1M42 3h3M47 3h2M41 4h2M45 4h3M42 5h.1M45 5h.1M68 6h.1M68 7h.1M19 9h.1M21 9h.1M19 10h2M25 11h.1M25 12h.1"/>
<path stroke="#f9eee7" d="M20 0h.1M39 0h2M55 0h1M65 0h.1M19 1h1M38 1h4M44 1h.1M46 1h1M49 1h1M55 1h1M21 2h1M24 2h.1M37 2h1M40 2h10M20 3h2M37 3h4M46 3h.1M50 3h2M59 3h.1M72 3h.1M20 4h1M38 4h2M49 4h.1M52 4h2M58 4h1M72 4h2M19 5h2M23 5h.1M37 5h4M43 5h1M46 5h3M58 5h.1M68 5h.1M71 5h3M18 6h2M36 6h1M39 6h.1M42 6h3M58 6h.1M60 6h.1M63 6h1M66 6h1M69 6h1M72 6h2M19 7h4M39 7h1M42 7h2M66 7h1M69 7h5M19 8h5M41 8h2M66 8h8M20 9h.1M22 9h3M66 9h1M72 9h2M22 10h5M58 10h1M62 10h.1M65 10h2M69 10h3M18 11h6M26 11h1M66 11h1M72 11h1M18 12h2M22 12h2M26 12h.1M66 12h2M72 12h.1M18 13h3M25 13h.1M68 13h5M18 14h3M64 14h1M68 14h1M72 14h1M65 15h1M68 15h4M65 16h.1M67 16h5M53 17h.1M67 17h1M71 17h1M74 17h.1M53 18h.1M74 18h.1M71 19h.1"/>
<path stroke="#eaf1f5" d="M19 0h.1M21 0h14M37 0h1M42 0h12M57 0h7M66 0h8M21 1h5M28 1h.1M33 1h2M37 1h.1M43 1h.1M45 1h.1M48 1h.1M51 1h3M57 1h14M73 1h1M23 2h.1M25 2h1M33 2h3M51 2h18M71 2h3M23 3h1M35 3h1M53 3h5M60 3h5M67 3h2M71 3h.1M73 3h1M22 4h2M35 4h2M50 4h1M55 4h2M60 4h11M22 5h.1M24 5h1M35 5h1M50 5h7M59 5h8M69 5h1M21 6h6M35 6h.1M38 6h.1M40 6h1M46 6h3M51 6h.1M53 6h4M59 6h.1M61 6h1M65 6h.1M71 6h.1M24 7h3M35 7h3M41 7h.1M45 7h.1M49 7h2M53 7h10M65 7h.1M25 8h4M32 8h8M44 8h1M50 8h12M65 8h.1M26 9h4M32 9h15M49 9h.1M51 9h12M65 9h.1M68 9h3M28 10h4M34 10h4M40 10h1M43 10h1M46 10h11M60 10h1M63 10h1M68 10h.1M73 10h1M28 11h4M35 11h1M49 11h.1M55 11h10M68 11h3M74 11h.1M21 12h.1M27 12h2M54 12h8M65 12h.1M69 12h2M73 12h1M22 13h2M26 13h4M52 13h15M74 13h.1M17 14h.1M22 14h.1M25 14h5M34 14h.1M55 14h4M61 14h2M66 14h1M70 14h1M74 14h.1M17 15h14M55 15h9M67 15h.1M73 15h1M20 16h1M24 16h6M45 16h3M50 16h14M66 16h.1M73 16h1M20 17h.1M22 17h5M30 17h1M34 17h2M46 17h.1M48 17h4M54 17h3M65 17h1M69 17h1M73 17h.1M17 18h.1M20 18h.1M22 18h3M27 18h10M46 18h6M54 18h.1M56 18h.1M65 18h8M20 19h8M30 19h2M35 19h1M45 19h9M56 19h1M69 19h1M72 19h2M20 20h7M31 20h5M39 20h1M42 20h14M70 20h4M20 21h7M51 21h1M56 21h.1M74 21h.1M16 22h1M20 22h6M16 23h8M26 23h.1M16 24h4M22 24h2M16 25h.1M18 25h3M23 25h.1M16 26h1M20 26h1M16 27h3M16 28h3M15 29h.1M19 29h.1"/>
<path stroke="#d1e5f0" d="M36 0h.1M27 1h.1M29 1h3M36 1h.1M72 1h.1M27 2h2M31 2h1M70 2h.1M25 3h4M33 3h1M66 3h.1M70 3h.1M25 4h2M34 4h.1M26 5h1M34 5h.1M28 6h.1M33 6h1M50 6h.1M52 6h.1M28 7h6M46 7h2M52 7h.1M64 7h.1M30 8h1M46 8h3M63 8h1M31 9h.1M48 9h.1M50 9h.1M64 9h.1M33 10h.1M39 10h.1M42 10h.1M45 10h.1M33 11h1M37 11h11M50 11h4M30 12h3M35 12h6M43 12h5M50 12h3M63 12h1M31 13h4M37 13h2M43 13h2M50 13h1M23 14h1M31 14h2M35 14h1M39 14h.1M44 14h2M49 14h5M60 14h.1M32 15h3M38 15h2M43 15h11M17 16h.1M19 16h.1M22 16h1M31 16h.1M33 16h6M42 16h2M49 16h.1M17 17h2M21 17h.1M28 17h1M32 17h1M37 17h2M41 17h1M45 17h.1M47 17h.1M58 17h6M18 18h1M21 18h.1M26 18h.1M38 18h1M42 18h.1M44 18h1M55 18h.1M57 18h3M63 18h1M17 19h2M29 19h.1M33 19h1M37 19h7M55 19h.1M58 19h1M65 19h3M19 20h.1M28 20h2M37 20h1M41 20h.1M57 20h2M69 20h.1M16 21h3M28 21h4M42 21h8M53 21h2M57 21h.1M72 21h1M18 22h1M27 22h3M44 22h13M72 22h.1M74 22h.1M25 23h.1M48 23h8M72 23h2M21 24h.1M25 24h1M48 24h8M66 24h8M17 25h.1M22 25h.1M24 25h.1M55 25h1M66 25h.1M68 25h6M18 26h1M22 26h1M55 26h5M62 26h1M69 26h1M20 27h1M56 27h.1M59 27h1M20 28h.1M20 29h4"/>
<path stroke="#a7d0e4" d="M30 2h.1M30 3h2M28 4h1M31 4h2M28 5h3M33 5h.1M29 6h3M34 12h.1M42 12h.1M49 12h.1M36 13h.1M40 13h2M46 13h3M37 14h1M40 14h.1M43 14h.1M47 14h1M36 15h1M41 15h1M18 16h.1M32 16h.1M40 16h1M40 17h.1M43 17h1M40 18h1M43 18h.1M61 18h1M60 19h4M17 20h1M60 20h8M33 21h1M41 21h.1M58 21h3M71 21h.1M31 22h1M42 22h1M60 22h.1M73 22h.1M27 23h1M46 23h1M57 23h.1M69 23h2M47 24h.1M25 25h1M49 25h5M57 25h.1M65 25h.1M67 25h.1M24 26h1M51 26h.1M53 26h1M61 26h.1M64 26h4M71 26h3M22 27h1M55 27h.1M57 27h1M61 27h12M21 28h1M56 28h8M68 28h2M56 29h1M59 29h5M66 29h2M71 29h3M26 30h1M41 30h1M56 30h2M60 30h.1M62 30h8"/>
<path stroke="#78b4d5" d="M30 4h.1M32 5h.1M18 7h.1M18 8h.1M18 9h.1M18 10h.1M41 14h1M35 21h5M62 21h8M33 22h.1M58 22h1M61 22h.1M71 22h.1M29 23h2M45 23h.1M58 23h.1M60 23h.1M66 23h2M27 24h.1M46 24h.1M57 24h.1M65 24h.1M47 25h1M58 25h5M26 26h.1M50 26h.1M52 26h.1M24 27h.1M50 27h2M54 27h.1M74 27h.1M23 28h1M39 28h.1M65 28h2M71 28h3M25 29h.1M38 29h1M55 29h.1M58 29h.1M65 29h.1M69 29h1M28 30h.1M38 30h2M55 30h.1M59 30h.1M61 30h.1"/>
<path stroke="#4393c3" d="M34 22h1M41 22h.1M62 22h8M32 23h1M43 23h1M59 23h.1M61 23h1M64 23h1M28 24h1M61 24h1M64 24h.1M27 25h1M46 25h.1M64 25h.1M47 26h2M25 27h.1M38 27h1M49 27h.1M53 27h.1M37 28h1M40 28h.1M51 28h.1M54 28h1M28 29h.1M37 29h.1M40 29h2M51 29h3M29 30h.1M31 30h.1M34 30h1M37 30h.1M43 30h3M50 30h4"/>
<path stroke="#2c75b4" d="M19 2h.1M19 3h.1M19 4h.1M36 22h3M34 23h.1M41 23h1M63 23h.1M30 24h2M45 24h.1M58 24h2M63 24h.1M29 25h2M45 25h.1M27 26h1M37 26h2M46 26h.1M26 27h.1M36 27h1M40 27h.1M25 28h.1M32 28h.1M35 28h1M50 28h.1M52 28h1M26 29h1M29 29h.1M31 29h5M43 29h3M48 29h2M30 30h.1M32 30h1M36 30h.1M47 30h2"/>
<path stroke="#185493" d="M40 22h.1M35 23h3M40 23h.1M33 24h.1M32 25h.1M37 25h3M29 26h2M36 26h.1M40 26h1M45 26h.1M27 27h2M31 27h4M41 27h.1M45 27h3M28 28h.1M31 28h.1M33 28h1M41 28h1M45 28h.1M49 28h.1M30 29h.1M47 29h.1"/>
<path stroke="#053061" d="M39 23h.1M34 24h10M33 25h3M41 25h3M32 26h3M42 26h2M30 27h.1M42 27h2M26 28h1M29 28h1M43 28h1M46 28h2"/>
</g>
<use href="#ol"/>
</g>
<rect x="0" y="0" width="262.4" height="142.2" fill="none" stroke="#8c8c8c" stroke-width="1"/>
<text class="pl" x="6.8" y="30.0" fill="#000" style="fill:#000">(j)</text>
<text x="265.7" y="117.7">30°N</text>
<text x="265.7" y="82.3">35°N</text>
<text x="265.7" y="46.9">40°N</text>
<text x="265.7" y="11.5">45°N</text>
<text x="14.1" y="154.6" text-anchor="middle">65°E</text>
<text x="49.5" y="154.6" text-anchor="middle">70°E</text>
<text x="84.9" y="154.6" text-anchor="middle">75°E</text>
<text x="120.3" y="154.6" text-anchor="middle">80°E</text>
<text x="155.7" y="154.6" text-anchor="middle">85°E</text>
<text x="191.1" y="154.6" text-anchor="middle">90°E</text>
<text x="226.5" y="154.6" text-anchor="middle">95°E</text>
<text x="261.9" y="154.6" text-anchor="middle">100°E</text>
<g>
<path d="M0 159.40L12.23 155.80V163.00Z" fill="#67001f"/>
<path d="M262.40 159.40L250.17 155.80V163.00Z" fill="#053061"/>
<rect x="11.93" y="155.80" width="15.21" height="7.20" fill="#67001f"/>
<rect x="26.84" y="155.80" width="15.21" height="7.20" fill="#991027"/>
<rect x="41.75" y="155.80" width="15.21" height="7.20" fill="#be3036"/>
<rect x="56.65" y="155.80" width="15.21" height="7.20" fill="#d6604d"/>
<rect x="71.56" y="155.80" width="15.21" height="7.20" fill="#ea8e70"/>
<rect x="86.47" y="155.80" width="15.21" height="7.20" fill="#f7b799"/>
<rect x="101.38" y="155.80" width="15.21" height="7.20" fill="#fddbc7"/>
<rect x="116.29" y="155.80" width="15.21" height="7.20" fill="#f9eee7"/>
<rect x="131.20" y="155.80" width="15.21" height="7.20" fill="#eaf1f5"/>
<rect x="146.11" y="155.80" width="15.21" height="7.20" fill="#d1e5f0"/>
<rect x="161.02" y="155.80" width="15.21" height="7.20" fill="#a7d0e4"/>
<rect x="175.93" y="155.80" width="15.21" height="7.20" fill="#78b4d5"/>
<rect x="190.84" y="155.80" width="15.21" height="7.20" fill="#4393c3"/>
<rect x="205.75" y="155.80" width="15.21" height="7.20" fill="#2c75b4"/>
<rect x="220.65" y="155.80" width="15.21" height="7.20" fill="#185493"/>
<rect x="235.56" y="155.80" width="15.21" height="7.20" fill="#053061"/>
<path d="M0 159.40L11.93 155.80H250.47L262.40 159.40L250.47 163.00H11.93Z" fill="none" stroke="#777" stroke-width="0.6"/>
<text x="11.93" y="180.60" text-anchor="middle">−20</text>
<text x="71.56" y="180.60" text-anchor="middle">−10</text>
<text x="131.20" y="180.60" text-anchor="middle">0</text>
<text x="190.84" y="180.60" text-anchor="middle">10</text>
<text x="250.47" y="180.60" text-anchor="middle">20</text>
<path d="M11.93 163.00v4.2M71.56 163.00v4.2M131.20 163.00v4.2M190.84 163.00v4.2M250.47 163.00v4.2" stroke="#222" stroke-width="0.9" fill="none"/>
<text class="cm" x="131.2" y="197.8" text-anchor="middle" xml:space="preserve">HAR annual precip. trend  (% yr<tspan class="sup" dx="1.2" dy="-5.9">−1</tspan><tspan dy="5.9" dx="0">)</tspan></text>
</g>
</g>
<g transform="translate(639.3,689.6)">
<path d="M14.10 0V142.2M49.50 0V142.2M84.90 0V142.2M120.30 0V142.2M155.70 0V142.2M191.10 0V142.2M226.50 0V142.2M261.90 0V142.2M0 112.68H262.4M0 77.28H262.4M0 41.88H262.4M0 6.48H262.4" stroke="#e2e2e2" stroke-width="0.7" fill="none"/>
<g clip-path="url(#cp)">
<g class="d" transform="translate(-0.06,141.00) scale(3.540,-3.540)">
<path stroke="#000004" d="M42 4h4M52 4h2M52 5h.1M56 5h.1M34 6h2M48 6h.1M52 6h2M56 6h.1M31 8h1M61 8h.1M30 9h.1M46 9h.1M18 10h.1M27 10h2M47 10h2M64 10h.1M26 11h.1M28 11h.1M48 11h.1M50 11h.1M26 12h.1M46 12h.1M48 12h2M66 12h2M49 13h1M50 14h.1M60 14h2M59 15h2M52 16h.1M57 16h7M30 22h.1M42 24h1M58 24h2M63 24h.1M43 25h1M57 25h4M54 26h.1M56 26h6M72 26h.1M54 27h.1M56 27h.1M47 28h2M54 28h2M74 28h.1M56 29h.1M57 30h.1M60 30h.1"/>
<path stroke="#180f3d" d="M60 0h.1M60 1h.1M52 3h2M55 4h1M34 5h.1M36 5h.1M45 5h3M53 5h2M33 6h.1M55 6h.1M33 7h3M48 7h.1M18 8h.1M30 8h.1M33 8h3M42 8h.1M44 8h.1M46 8h.1M60 8h.1M62 8h.1M18 9h.1M29 9h.1M31 9h.1M47 9h.1M50 9h.1M26 10h.1M30 10h.1M46 10h.1M50 10h.1M55 10h1M25 11h.1M27 11h.1M29 11h.1M46 11h1M49 11h.1M68 11h.1M25 12h.1M27 12h1M45 12h.1M47 12h.1M26 13h.1M47 13h1M51 13h.1M62 13h.1M67 13h.1M52 14h.1M63 14h.1M69 14h3M50 15h.1M52 15h1M62 15h1M72 15h.1M51 16h.1M53 16h3M72 16h.1M51 17h1M56 17h1M59 17h5M34 20h.1M29 22h.1M31 22h.1M62 23h.1M71 23h.1M73 23h1M44 24h.1M61 24h1M64 24h.1M72 24h2M42 25h.1M45 25h.1M47 25h.1M54 25h1M62 25h1M72 25h.1M74 25h.1M23 26h1M42 26h6M53 26h.1M55 26h.1M73 26h1M23 27h.1M46 27h3M53 27h.1M55 27h.1M57 27h3M72 27h2M22 28h.1M46 28h.1M50 28h.1M72 28h1M48 29h.1M55 29h.1M57 29h.1M56 30h.1M58 30h1"/>
<path stroke="#440f76" d="M59 0h.1M59 1h.1M59 2h1M55 3h1M34 4h2M47 4h.1M51 4h.1M60 4h.1M33 5h.1M35 5h.1M42 5h2M49 5h.1M51 5h.1M47 6h.1M57 6h.1M30 7h2M42 7h5M60 7h2M43 8h.1M45 8h.1M47 8h1M28 9h.1M32 9h.1M42 9h.1M45 9h.1M48 9h1M60 9h.1M64 9h1M45 10h.1M51 10h.1M53 10h1M63 10h.1M65 10h.1M69 10h.1M45 11h.1M51 11h.1M53 11h3M64 11h3M51 12h.1M54 12h.1M65 12h.1M25 13h.1M45 13h1M52 13h1M60 13h1M65 13h1M68 13h1M49 14h.1M51 14h.1M53 14h.1M59 14h.1M73 14h.1M18 15h.1M49 15h.1M51 15h.1M54 15h4M64 15h.1M71 15h.1M73 15h.1M18 16h.1M48 16h.1M50 16h.1M65 16h.1M50 17h.1M53 17h2M58 17h.1M34 19h.1M33 20h.1M74 21h.1M27 22h1M71 22h3M58 23h3M64 23h.1M72 23h.1M41 24h.1M45 24h.1M54 24h3M65 24h.1M71 24h.1M35 25h.1M46 25h.1M48 25h.1M53 25h.1M56 25h.1M64 25h.1M73 25h.1M49 26h.1M63 26h.1M22 27h.1M24 27h.1M42 27h1M45 27h.1M50 27h.1M61 27h1M21 28h.1M23 28h.1M45 28h.1M51 28h.1M53 28h.1M57 28h.1M46 29h1M49 29h1M53 29h.1M58 29h.1M60 29h1M55 30h.1M61 30h.1"/>
<path stroke="#721f81" d="M20 0h.1M29 0h1M44 0h.1M46 0h.1M30 1h.1M51 1h.1M55 1h.1M58 1h.1M30 2h.1M32 2h.1M52 2h.1M55 2h.1M58 2h.1M34 3h.1M43 3h4M59 3h1M41 4h.1M48 4h.1M57 4h.1M57 5h.1M30 6h.1M37 6h.1M44 6h1M49 6h.1M51 6h.1M37 7h.1M52 7h1M66 7h.1M29 8h.1M41 8h.1M49 8h1M63 8h4M33 9h.1M43 9h1M51 9h.1M61 9h2M67 9h2M24 10h1M31 10h.1M52 10h.1M57 10h.1M66 10h.1M68 10h.1M30 11h.1M52 11h.1M57 11h.1M59 11h1M63 11h.1M69 11h.1M24 12h.1M29 12h.1M42 12h.1M52 12h1M55 12h1M60 12h1M64 12h.1M69 12h.1M27 13h.1M44 13h.1M54 13h.1M59 13h.1M63 13h1M70 13h3M25 14h1M44 14h.1M46 14h2M67 14h1M74 14h.1M42 15h.1M44 15h4M65 15h1M69 15h1M17 16h.1M41 16h1M44 16h1M47 16h.1M49 16h.1M18 17h.1M36 17h.1M46 17h3M65 17h.1M72 17h.1M17 18h1M34 18h4M46 18h1M57 18h.1M59 18h3M65 18h.1M35 19h2M52 19h.1M54 19h.1M57 19h.1M64 19h.1M32 20h.1M35 20h1M73 20h1M32 21h2M72 21h1M32 22h.1M60 22h.1M70 22h.1M30 23h.1M34 23h.1M57 23h.1M63 23h.1M47 24h.1M53 24h.1M49 25h.1M65 25h.1M71 25h.1M21 26h1M25 26h.1M35 26h1M51 26h1M71 26h.1M21 27h.1M25 27h.1M44 27h.1M51 27h1M71 27h.1M24 28h.1M52 28h.1M59 28h.1M62 28h.1M22 29h.1M45 29h.1M51 29h.1M54 29h.1M59 29h.1M72 29h2M27 30h1M43 30h.1M50 30h.1"/>
<path stroke="#9e2f7f" d="M28 0h.1M31 0h1M45 0h.1M47 0h.1M49 0h.1M52 0h.1M54 0h.1M56 0h2M31 1h1M44 1h2M52 1h2M56 1h1M29 2h.1M31 2h.1M33 2h1M48 2h.1M53 2h.1M56 2h.1M61 2h.1M32 3h.1M35 3h1M41 3h1M48 3h.1M50 3h1M57 3h1M33 4h.1M49 4h1M59 4h.1M29 5h1M41 5h.1M50 5h.1M58 5h2M32 6h.1M42 6h1M46 6h.1M50 6h.1M61 6h.1M63 6h.1M18 7h.1M29 7h.1M39 7h2M49 7h2M54 7h3M63 7h2M67 7h1M28 8h.1M59 8h.1M68 8h1M27 9h.1M34 9h2M41 9h.1M55 9h2M59 9h.1M66 9h.1M70 9h.1M73 9h1M32 10h.1M39 10h.1M58 10h2M67 10h.1M70 10h4M18 11h.1M24 11h.1M32 11h.1M42 11h2M58 11h.1M61 11h.1M34 12h1M43 12h1M57 12h2M62 12h1M71 12h1M18 13h.1M38 13h.1M41 13h2M55 13h1M58 13h.1M74 13h.1M18 14h.1M24 14h.1M38 14h.1M41 14h1M45 14h.1M54 14h4M64 14h2M25 15h1M38 15h.1M41 15h.1M43 15h.1M67 15h1M74 15h.1M19 16h.1M43 16h.1M46 16h.1M67 16h.1M69 16h.1M71 16h.1M73 16h.1M17 17h.1M19 17h.1M24 17h.1M37 17h.1M40 17h.1M42 17h3M71 17h.1M33 18h.1M39 18h.1M48 18h.1M50 18h3M55 18h1M58 18h.1M63 18h1M66 18h.1M68 18h.1M32 19h1M38 19h.1M46 19h1M53 19h.1M60 19h.1M65 19h3M74 19h.1M52 20h.1M58 20h1M70 20h.1M72 20h.1M19 21h.1M28 21h.1M30 21h.1M35 21h.1M37 21h.1M58 21h.1M60 21h.1M69 21h2M26 22h.1M37 22h.1M40 22h.1M58 22h1M61 22h2M65 22h1M69 22h.1M26 23h3M31 23h.1M35 23h1M42 23h.1M49 23h.1M53 23h3M65 23h2M70 23h.1M34 24h2M46 24h.1M48 24h1M66 24h.1M68 24h2M24 25h.1M31 25h.1M34 25h.1M36 25h.1M41 25h.1M66 25h1M69 25h.1M20 26h.1M34 26h.1M37 26h.1M41 26h.1M50 26h.1M64 26h1M67 26h.1M36 27h1M63 27h.1M20 28h.1M42 28h2M58 28h.1M60 28h.1M71 28h.1M21 29h.1M23 29h.1M41 29h.1M43 29h1M52 29h.1M62 29h.1M71 29h.1M29 30h.1M39 30h.1M42 30h.1M44 30h2M49 30h.1M52 30h2M62 30h.1M65 30h1"/>
<path stroke="#cd4071" d="M19 0h.1M21 0h.1M24 0h.1M26 0h1M35 0h1M42 0h1M48 0h.1M50 0h1M53 0h.1M55 0h.1M61 0h.1M26 1h3M33 1h2M40 1h.1M43 1h.1M47 1h2M61 1h.1M66 1h.1M27 2h1M35 2h.1M39 2h1M43 2h4M49 2h2M54 2h.1M57 2h.1M64 2h.1M28 3h3M33 3h.1M37 3h3M49 3h.1M61 3h.1M65 3h.1M67 3h.1M26 4h.1M28 4h2M37 4h3M58 4h.1M61 4h1M65 4h.1M72 4h1M26 5h.1M28 5h.1M31 5h1M37 5h.1M40 5h.1M61 5h2M65 5h1M68 5h1M27 6h.1M29 6h.1M31 6h.1M39 6h2M58 6h1M62 6h.1M64 6h.1M67 6h1M70 6h.1M74 6h.1M26 7h.1M28 7h.1M59 7h.1M69 7h.1M73 7h1M27 8h.1M37 8h.1M55 8h1M73 8h.1M19 9h.1M25 9h1M37 9h.1M52 9h2M71 9h1M19 10h.1M21 10h.1M33 10h.1M35 10h.1M40 10h4M61 10h1M19 11h.1M23 11h.1M33 11h1M39 11h.1M41 11h.1M62 11h.1M70 11h.1M72 11h2M20 12h3M33 12h.1M36 12h.1M38 12h1M41 12h.1M70 12h.1M74 12h.1M20 13h.1M22 13h.1M24 13h.1M28 13h.1M33 13h1M37 13h.1M39 13h1M57 13h.1M17 14h.1M22 14h1M27 14h1M34 14h.1M37 14h.1M39 14h.1M43 14h.1M17 15h.1M19 15h.1M24 15h.1M27 15h.1M39 15h.1M20 16h.1M37 16h3M66 16h.1M68 16h.1M70 16h.1M74 16h.1M34 17h1M38 17h.1M41 17h.1M66 17h.1M68 17h1M73 17h.1M19 18h1M24 18h1M30 18h1M42 18h3M49 18h.1M67 18h.1M72 18h.1M17 19h.1M31 19h.1M39 19h.1M41 19h.1M43 19h.1M48 19h1M51 19h.1M55 19h1M58 19h1M61 19h2M69 19h4M20 20h.1M37 20h.1M39 20h.1M41 20h1M45 20h1M51 20h.1M53 20h.1M55 20h2M60 20h.1M63 20h2M67 20h2M71 20h.1M25 21h.1M29 21h.1M31 21h.1M36 21h.1M38 21h2M47 21h.1M51 21h.1M53 21h.1M57 21h.1M59 21h.1M61 21h7M19 22h.1M25 22h.1M33 22h.1M35 22h1M38 22h1M41 22h.1M50 22h.1M52 22h.1M54 22h.1M57 22h.1M64 22h.1M67 22h1M25 23h.1M32 23h1M37 23h1M40 23h1M43 23h.1M45 23h.1M50 23h2M68 23h1M25 24h1M31 24h.1M33 24h.1M40 24h.1M50 24h2M67 24h.1M22 25h1M25 25h1M30 25h.1M52 25h.1M68 25h.1M26 26h1M39 26h1M66 26h.1M69 26h.1M20 27h.1M32 27h.1M34 27h1M65 27h3M18 28h1M25 28h1M36 28h.1M38 28h.1M61 28h.1M63 28h.1M20 29h.1M24 29h.1M26 29h1M31 29h.1M42 29h.1M63 29h2M26 30h.1M30 30h.1M32 30h.1M38 30h.1M40 30h1M47 30h1M64 30h.1"/>
<path stroke="#f1605d" d="M22 0h.1M25 0h.1M33 0h1M39 0h.1M41 0h.1M62 0h.1M20 1h2M24 1h1M36 1h.1M42 1h.1M50 1h.1M65 1h.1M67 1h.1M72 1h.1M74 1h.1M19 2h1M24 2h.1M36 2h2M41 2h.1M65 2h.1M73 2h.1M19 3h.1M23 3h.1M26 3h1M62 3h2M66 3h.1M69 3h.1M72 3h2M20 4h.1M27 4h.1M31 4h1M64 4h.1M66 4h5M74 4h.1M19 5h.1M25 5h.1M27 5h.1M38 5h1M64 5h.1M70 5h.1M73 5h1M18 6h1M23 6h.1M25 6h1M28 6h.1M38 6h.1M60 6h.1M65 6h1M69 6h.1M19 7h.1M23 7h1M27 7h.1M38 7h.1M70 7h.1M72 7h.1M19 8h.1M22 8h1M25 8h1M39 8h1M51 8h3M57 8h1M70 8h2M74 8h.1M22 9h2M39 9h1M58 9h.1M20 10h.1M23 10h.1M36 10h.1M38 10h.1M20 11h2M31 11h.1M35 11h1M40 11h.1M71 11h.1M19 12h.1M30 12h2M40 12h.1M73 12h.1M19 13h.1M23 13h.1M29 13h.1M32 13h.1M19 14h.1M21 14h.1M35 14h1M40 14h.1M20 15h3M33 15h.1M35 15h2M40 15h.1M23 16h3M28 16h.1M35 16h1M20 17h3M25 17h1M29 17h.1M33 17h.1M39 17h.1M67 17h.1M70 17h.1M74 17h.1M26 18h.1M32 18h.1M40 18h1M54 18h.1M69 18h1M18 19h3M25 19h1M30 19h.1M40 19h.1M42 19h.1M44 19h1M50 19h.1M17 20h.1M19 20h.1M21 20h.1M31 20h.1M40 20h.1M43 20h1M47 20h3M54 20h.1M61 20h.1M66 20h.1M16 21h.1M26 21h1M45 21h.1M48 21h2M52 21h.1M54 21h2M16 22h1M20 22h.1M34 22h.1M46 22h3M51 22h.1M53 22h.1M55 22h1M20 23h.1M23 23h.1M44 23h.1M46 23h2M21 24h.1M23 24h.1M27 24h.1M29 24h1M37 24h.1M21 25h.1M27 25h.1M29 25h.1M33 25h.1M37 25h.1M40 25h.1M50 25h1M70 25h.1M19 26h.1M31 26h2M38 26h.1M68 26h.1M19 27h.1M26 27h1M33 27h.1M38 27h.1M40 27h1M64 27h.1M69 27h1M33 28h2M37 28h.1M39 28h2M64 28h1M67 28h3M15 29h4M25 29h.1M28 29h2M32 29h.1M35 29h2M39 29h1M66 29h.1M69 29h1M31 30h.1M37 30h.1M51 30h.1M63 30h.1M70 30h.1"/>
<path stroke="#fd9668" d="M23 0h.1M37 0h.1M40 0h.1M63 0h6M72 0h2M19 1h.1M23 1h.1M37 1h2M63 1h1M68 1h.1M73 1h.1M21 2h.1M23 2h.1M25 2h1M42 2h.1M62 2h1M66 2h.1M69 2h.1M72 2h.1M74 2h.1M20 3h.1M22 3h.1M24 3h1M68 3h.1M70 3h.1M19 4h.1M21 4h.1M25 4h.1M63 4h.1M20 5h.1M22 5h1M67 5h.1M71 5h1M22 6h.1M24 6h.1M71 6h2M22 7h.1M25 7h.1M58 7h.1M71 7h.1M24 8h.1M38 8h.1M21 9h.1M22 10h.1M34 10h.1M37 10h.1M37 11h1M18 12h.1M37 12h.1M21 13h.1M30 13h1M35 13h1M20 14h.1M29 14h.1M33 14h.1M28 15h2M32 15h.1M34 15h.1M21 16h1M27 16h.1M29 16h.1M31 16h2M27 17h1M30 17h2M21 18h2M27 18h2M71 18h.1M73 18h1M22 19h.1M18 20h.1M22 20h.1M26 20h.1M30 20h.1M38 20h.1M62 20h.1M17 21h1M20 21h4M41 21h3M46 21h.1M23 22h1M42 22h1M16 23h.1M18 23h1M24 23h.1M39 23h.1M20 24h.1M22 24h.1M24 24h.1M28 24h.1M32 24h.1M39 24h.1M19 25h1M32 25h.1M38 25h1M28 26h2M70 26h.1M17 27h1M28 27h.1M30 27h1M39 27h.1M16 28h1M31 28h.1M66 28h.1M33 29h1M38 29h.1M67 29h1M33 30h.1M36 30h.1M67 30h2"/>
<path stroke="#feca8d" d="M38 0h.1M70 0h1M41 1h.1M62 1h.1M69 1h1M22 2h.1M68 2h.1M71 2h.1M21 3h.1M71 3h.1M22 4h2M21 5h.1M24 5h.1M20 6h1M20 7h1M21 8h.1M20 9h.1M38 9h.1M31 14h1M31 15h.1M30 16h.1M34 16h.1M23 19h.1M27 19h.1M29 19h.1M25 20h.1M18 22h.1M21 22h1M44 22h1M21 23h1M19 24h.1M38 24h.1M16 25h.1M28 25h.1M16 26h2M16 27h.1M29 27h.1M27 28h3M32 28h.1"/>
<path stroke="#fcfdbf" d="M71 1h.1M67 2h.1M70 2h.1M20 8h.1M30 14h.1M24 19h.1M28 19h.1M23 20h1M27 20h2M17 23h.1M16 24h2M17 25h1M34 30h1"/>
</g>
<use href="#ol"/>
</g>
<rect x="0" y="0" width="262.4" height="142.2" fill="none" stroke="#8c8c8c" stroke-width="1"/>
<text class="pl" x="6.8" y="30.0" fill="#000" style="fill:#000">(k)</text>
<text x="265.7" y="117.7">30°N</text>
<text x="265.7" y="82.3">35°N</text>
<text x="265.7" y="46.9">40°N</text>
<text x="265.7" y="11.5">45°N</text>
<text x="14.1" y="154.6" text-anchor="middle">65°E</text>
<text x="49.5" y="154.6" text-anchor="middle">70°E</text>
<text x="84.9" y="154.6" text-anchor="middle">75°E</text>
<text x="120.3" y="154.6" text-anchor="middle">80°E</text>
<text x="155.7" y="154.6" text-anchor="middle">85°E</text>
<text x="191.1" y="154.6" text-anchor="middle">90°E</text>
<text x="226.5" y="154.6" text-anchor="middle">95°E</text>
<text x="261.9" y="154.6" text-anchor="middle">100°E</text>
<g>
<path d="M0 159.40L12.23 155.80V163.00Z" fill="#000004"/>
<path d="M262.40 159.40L250.17 155.80V163.00Z" fill="#fcfdbf"/>
<rect x="11.93" y="155.80" width="24.15" height="7.20" fill="#000004"/>
<rect x="35.78" y="155.80" width="24.15" height="7.20" fill="#180f3d"/>
<rect x="59.64" y="155.80" width="24.15" height="7.20" fill="#440f76"/>
<rect x="83.49" y="155.80" width="24.15" height="7.20" fill="#721f81"/>
<rect x="107.35" y="155.80" width="24.15" height="7.20" fill="#9e2f7f"/>
<rect x="131.20" y="155.80" width="24.15" height="7.20" fill="#cd4071"/>
<rect x="155.05" y="155.80" width="24.15" height="7.20" fill="#f1605d"/>
<rect x="178.91" y="155.80" width="24.15" height="7.20" fill="#fd9668"/>
<rect x="202.76" y="155.80" width="24.15" height="7.20" fill="#feca8d"/>
<rect x="226.62" y="155.80" width="24.15" height="7.20" fill="#fcfdbf"/>
<path d="M0 159.40L11.93 155.80H250.47L262.40 159.40L250.47 163.00H11.93Z" fill="none" stroke="#777" stroke-width="0.6"/>
<text x="11.93" y="180.60" text-anchor="middle">0.0</text>
<text x="59.64" y="180.60" text-anchor="middle">0.2</text>
<text x="107.35" y="180.60" text-anchor="middle">0.4</text>
<text x="155.05" y="180.60" text-anchor="middle">0.6</text>
<text x="202.76" y="180.60" text-anchor="middle">0.8</text>
<text x="250.47" y="180.60" text-anchor="middle">1.0</text>
<path d="M11.93 163.00v4.2M59.64 163.00v4.2M107.35 163.00v4.2M155.05 163.00v4.2M202.76 163.00v4.2M250.47 163.00v4.2" stroke="#222" stroke-width="0.9" fill="none"/>
<text class="cl" x="131.2" y="197.8" text-anchor="middle" xml:space="preserve">WRF-HAR Pearson corr. coef. (-)</text>
</g>
</g>
</svg></body></html>
